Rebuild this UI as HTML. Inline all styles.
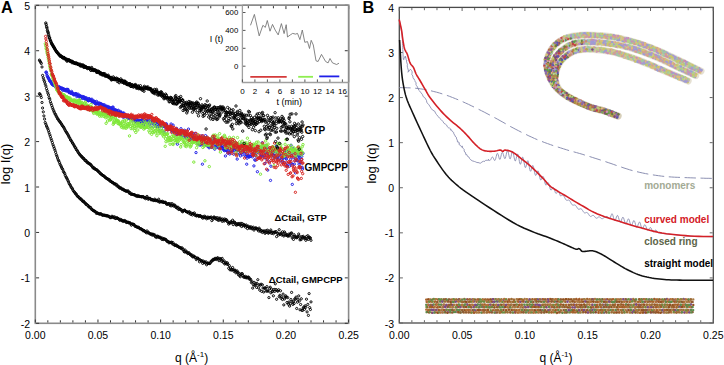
<!DOCTYPE html><html><head><meta charset="utf-8"><style>html,body{margin:0;padding:0;background:#fff;overflow:hidden}svg{display:block}text{font-family:"Liberation Sans",sans-serif}</style></head><body>
<svg width="724" height="365" viewBox="0 0 724 365">
<defs><pattern id="pc" width="8" height="8" patternUnits="userSpaceOnUse"><rect width="8" height="8" fill="#bdb596"/><circle cx="1.03" cy="3.99" r="0.9" fill="#c8cf6e"/><circle cx="4.81" cy="0.23" r="0.9" fill="#d7918f"/><circle cx="1.18" cy="7.43" r="0.9" fill="#9c8fd0"/><circle cx="0.56" cy="1.04" r="0.9" fill="#b9c98a"/><circle cx="7.59" cy="4.98" r="0.9" fill="#e0b070"/><circle cx="2.95" cy="4.09" r="0.9" fill="#a6d08a"/><circle cx="5.3" cy="2.2" r="0.9" fill="#c07aa8"/><circle cx="1.1" cy="6.3" r="0.9" fill="#8f9fd8"/><circle cx="5.36" cy="4.1" r="0.9" fill="#c8cf6e"/><circle cx="6.53" cy="4.39" r="0.9" fill="#d7918f"/><circle cx="7.85" cy="1.64" r="0.9" fill="#9c8fd0"/><circle cx="4.43" cy="3.87" r="0.9" fill="#b9c98a"/><circle cx="2.83" cy="4.73" r="0.9" fill="#e0b070"/><circle cx="1.88" cy="6.42" r="0.9" fill="#a6d08a"/><circle cx="6.94" cy="1.03" r="0.9" fill="#c07aa8"/><circle cx="3.74" cy="2.22" r="0.9" fill="#8f9fd8"/><circle cx="0.66" cy="7.17" r="0.9" fill="#c8cf6e"/><circle cx="3.44" cy="1.18" r="0.9" fill="#d7918f"/><circle cx="5.39" cy="1.62" r="0.9" fill="#9c8fd0"/><circle cx="7.21" cy="1.74" r="0.9" fill="#b9c98a"/><circle cx="0.26" cy="1.61" r="0.9" fill="#e0b070"/><circle cx="2.77" cy="3.75" r="0.9" fill="#a6d08a"/><circle cx="7.25" cy="5.58" r="0.9" fill="#c07aa8"/><circle cx="2.71" cy="0.14" r="0.9" fill="#8f9fd8"/><circle cx="1.28" cy="7.97" r="0.9" fill="#c8cf6e"/><circle cx="3.68" cy="5.53" r="0.9" fill="#d7918f"/><circle cx="0.44" cy="0.27" r="0.9" fill="#9c8fd0"/><circle cx="6.77" cy="4.7" r="0.9" fill="#b9c98a"/><circle cx="2.47" cy="2.54" r="0.9" fill="#e0b070"/><circle cx="0.71" cy="1.38" r="0.9" fill="#a6d08a"/><circle cx="0.2" cy="6.71" r="0.9" fill="#c07aa8"/><circle cx="3.73" cy="1.02" r="0.9" fill="#8f9fd8"/><circle cx="5.91" cy="1.57" r="0.9" fill="#c8cf6e"/><circle cx="0.5" cy="4.79" r="0.9" fill="#d7918f"/><circle cx="7.17" cy="0.22" r="0.9" fill="#9c8fd0"/><circle cx="6.44" cy="1.52" r="0.9" fill="#b9c98a"/><circle cx="0.74" cy="0.14" r="0.9" fill="#e0b070"/><circle cx="2.34" cy="5.82" r="0.9" fill="#a6d08a"/><circle cx="3.95" cy="6.82" r="0.9" fill="#c07aa8"/><circle cx="1.74" cy="2.52" r="0.9" fill="#8f9fd8"/></pattern><pattern id="ps" width="8" height="8" patternUnits="userSpaceOnUse"><rect width="8" height="8" fill="#b8804e"/><circle cx="2.07" cy="7.83" r="0.9" fill="#c0701e"/><circle cx="7.53" cy="2.73" r="0.9" fill="#7a3c9a"/><circle cx="3.49" cy="2.51" r="0.9" fill="#6aa050"/><circle cx="5.97" cy="0.32" r="0.9" fill="#b4682c"/><circle cx="0.54" cy="3.23" r="0.9" fill="#d08a40"/><circle cx="1.96" cy="6.76" r="0.9" fill="#8d5aa0"/><circle cx="5.93" cy="4.37" r="0.9" fill="#c27a2a"/><circle cx="5.29" cy="5.54" r="0.9" fill="#5e9a60"/><circle cx="6.25" cy="7.42" r="0.9" fill="#c0701e"/><circle cx="1.2" cy="5.01" r="0.9" fill="#7a3c9a"/><circle cx="1.15" cy="3.55" r="0.9" fill="#6aa050"/><circle cx="6.29" cy="7.16" r="0.9" fill="#b4682c"/><circle cx="6.07" cy="0.28" r="0.9" fill="#d08a40"/><circle cx="2.88" cy="1.3" r="0.9" fill="#8d5aa0"/><circle cx="7.99" cy="1.15" r="0.9" fill="#c27a2a"/><circle cx="1.95" cy="2.86" r="0.9" fill="#5e9a60"/><circle cx="0.49" cy="6.96" r="0.9" fill="#c0701e"/><circle cx="5.09" cy="1.28" r="0.9" fill="#7a3c9a"/><circle cx="3.99" cy="0.63" r="0.9" fill="#6aa050"/><circle cx="4.89" cy="1.85" r="0.9" fill="#b4682c"/><circle cx="0.31" cy="0.92" r="0.9" fill="#d08a40"/><circle cx="4.44" cy="5.1" r="0.9" fill="#8d5aa0"/><circle cx="2.6" cy="5.15" r="0.9" fill="#c27a2a"/><circle cx="2.82" cy="1.05" r="0.9" fill="#5e9a60"/><circle cx="2.52" cy="3.16" r="0.9" fill="#c0701e"/><circle cx="7.3" cy="0.93" r="0.9" fill="#7a3c9a"/><circle cx="0.69" cy="4.49" r="0.9" fill="#6aa050"/><circle cx="7.71" cy="7.26" r="0.9" fill="#b4682c"/><circle cx="5.6" cy="0.53" r="0.9" fill="#d08a40"/><circle cx="6.45" cy="5.47" r="0.9" fill="#8d5aa0"/><circle cx="1.15" cy="3.72" r="0.9" fill="#c27a2a"/><circle cx="0.39" cy="6.42" r="0.9" fill="#5e9a60"/><circle cx="5.75" cy="6.44" r="0.9" fill="#c0701e"/><circle cx="6.08" cy="2.14" r="0.9" fill="#7a3c9a"/><circle cx="6.32" cy="1.99" r="0.9" fill="#6aa050"/><circle cx="1.1" cy="3.12" r="0.9" fill="#b4682c"/><circle cx="3.98" cy="2.29" r="0.9" fill="#d08a40"/><circle cx="4.85" cy="4.82" r="0.9" fill="#8d5aa0"/><circle cx="1.92" cy="4.98" r="0.9" fill="#c27a2a"/><circle cx="2.86" cy="5.88" r="0.9" fill="#5e9a60"/><circle cx="2.32" cy="6.39" r="0.9" fill="#c0701e"/><circle cx="3.32" cy="4.43" r="0.9" fill="#7a3c9a"/><circle cx="5.39" cy="4.15" r="0.9" fill="#6aa050"/><circle cx="2.06" cy="7.84" r="0.9" fill="#b4682c"/><circle cx="0.77" cy="2.6" r="0.9" fill="#d08a40"/><circle cx="4.39" cy="0.23" r="0.9" fill="#8d5aa0"/><circle cx="1.24" cy="6.39" r="0.9" fill="#c27a2a"/><circle cx="6.27" cy="5.1" r="0.9" fill="#5e9a60"/><circle cx="7.21" cy="6.04" r="0.9" fill="#c0701e"/><circle cx="2.39" cy="5.16" r="0.9" fill="#7a3c9a"/></pattern></defs>
<rect x="35.3" y="5.3" width="313.3" height="318" fill="none" stroke="#8a8a8a" stroke-width="1.6"/>
<path d="M35.3 322.5 v-3 M35.3 6.1 v3 M47.83 322.5 v-2.2 M47.83 6.1 v2.2 M60.36 322.5 v-2.2 M60.36 6.1 v2.2 M72.9 322.5 v-2.2 M72.9 6.1 v2.2 M85.43 322.5 v-2.2 M85.43 6.1 v2.2 M97.96 322.5 v-3 M97.96 6.1 v3 M110.49 322.5 v-2.2 M110.49 6.1 v2.2 M123.02 322.5 v-2.2 M123.02 6.1 v2.2 M135.56 322.5 v-2.2 M135.56 6.1 v2.2 M148.09 322.5 v-2.2 M148.09 6.1 v2.2 M160.62 322.5 v-3 M160.62 6.1 v3 M173.15 322.5 v-2.2 M173.15 6.1 v2.2 M185.68 322.5 v-2.2 M185.68 6.1 v2.2 M198.22 322.5 v-2.2 M198.22 6.1 v2.2 M210.75 322.5 v-2.2 M210.75 6.1 v2.2 M223.28 322.5 v-3 M223.28 6.1 v3 M235.81 322.5 v-2.2 M235.81 6.1 v2.2 M248.34 322.5 v-2.2 M248.34 6.1 v2.2 M260.88 322.5 v-2.2 M260.88 6.1 v2.2 M273.41 322.5 v-2.2 M273.41 6.1 v2.2 M285.94 322.5 v-3 M285.94 6.1 v3 M298.47 322.5 v-2.2 M298.47 6.1 v2.2 M311 322.5 v-2.2 M311 6.1 v2.2 M323.54 322.5 v-2.2 M323.54 6.1 v2.2 M336.07 322.5 v-2.2 M336.07 6.1 v2.2 M348.6 322.5 v-3 M348.6 6.1 v3 M36.1 323.3 h3 M347.8 323.3 h-3 M36.1 277.87 h3 M347.8 277.87 h-3 M36.1 232.44 h3 M347.8 232.44 h-3 M36.1 187.01 h3 M347.8 187.01 h-3 M36.1 141.59 h3 M347.8 141.59 h-3 M36.1 96.16 h3 M347.8 96.16 h-3 M36.1 50.73 h3 M347.8 50.73 h-3 M36.1 5.3 h3 M347.8 5.3 h-3" stroke="#333" stroke-width="1" fill="none"/>
<path fill="none" stroke="none" marker-start="url(#m0)" marker-mid="url(#m0)" marker-end="url(#m0)" d="M39.4 93.7 40.0 94.1 40.7 95.6 41.3 97.5 42.0 102.5 42.6 108.0 43.3 111.9 43.9 115.9 44.6 119.1 45.2 122.5 45.9 124.2 46.5 126.0 47.2 127.3 47.8 128.9 48.5 130.7 49.1 132.7 49.8 134.8 50.4 136.6 51.1 138.8 51.7 140.6 52.4 142.6 53.0 144.8 53.7 146.6 54.3 148.3 55.0 150.2 55.6 152.3 56.3 154.6 56.9 156.1 57.5 157.9 58.2 159.8 58.8 161.0 59.5 162.6 60.1 164.3 60.8 165.7 61.4 167.0 62.1 168.5 62.7 169.3 63.4 171.4 64.0 172.4 64.7 173.6 65.3 175.4 66.0 176.9 66.6 177.9 67.3 179.1 67.9 180.6 68.6 181.9 69.2 183.6 69.9 184.6 70.5 185.7 71.2 187.2 71.8 187.9 72.5 188.9 73.1 190.4 73.8 191.4 74.4 192.1 75.1 192.9 75.7 194.0 76.3 194.1 77.0 195.7 77.6 196.4 78.3 196.5 78.9 197.6 79.6 197.9 80.2 199.0 80.9 198.8 81.5 199.7 82.2 200.7 82.8 201.4 83.5 201.1 84.1 202.1 84.8 202.9 85.4 203.2 86.1 204.5 86.7 204.3 87.4 205.3 88.0 205.4 88.7 206.8 89.3 206.9 90.0 207.3 90.6 207.5 91.3 209.1 91.9 209.3 92.6 209.9 93.2 210.6 93.8 210.8 94.5 211.0 95.1 211.5 95.8 212.0 96.4 213.4 97.1 212.8 97.7 213.2 98.4 213.5 99.0 213.9 99.7 214.2 100.3 213.7 101.0 213.8 101.6 214.5 102.3 215.2 102.9 215.2 103.6 215.1 104.2 215.1 104.9 215.5 105.5 215.4 106.2 216.0 106.8 215.5 107.5 216.0 108.1 216.0 108.8 216.5 109.4 216.5 110.1 217.7 110.7 217.4 111.4 217.5 112.0 216.2 112.6 217.0 113.3 217.1 113.9 217.7 114.6 216.8 115.2 218.4 115.9 218.5 116.5 217.7 117.2 218.0 117.8 218.3 118.5 218.8 119.1 219.3 119.8 220.3 120.4 219.4 121.1 220.1 121.7 220.0 122.4 221.1 123.0 220.8 123.7 221.4 124.3 220.5 125.0 221.1 125.6 221.1 126.3 222.5 126.9 222.3 127.6 222.1 128.2 222.3 128.9 223.0 129.5 222.7 130.1 222.9 130.8 223.8 131.4 225.2 132.1 224.0 132.7 224.2 133.4 224.3 134.0 224.5 134.7 225.8 135.3 226.4 136.0 226.3 136.6 226.9 137.3 227.1 137.9 227.5 138.6 227.2 139.2 228.0 139.9 228.7 140.5 228.6 141.2 229.1 141.8 229.3 142.5 229.8 143.1 230.8 143.8 230.4 144.4 230.8 145.1 231.7 145.7 231.8 146.4 232.8 147.0 230.9 147.7 232.8 148.3 232.3 148.9 232.9 149.6 233.6 150.2 234.0 150.9 234.2 151.5 233.9 152.2 235.2 152.8 234.2 153.5 234.5 154.1 235.4 154.8 234.9 155.4 236.9 156.1 236.4 156.7 237.5 157.4 236.2 158.0 236.3 158.7 236.9 159.3 237.6 160.0 237.1 160.6 238.0 161.3 238.0 161.9 239.4 162.6 238.2 163.2 239.6 163.9 238.8 164.5 239.0 165.2 239.4 165.8 239.4 166.4 240.5 167.1 241.5 167.7 241.2 168.4 241.8 169.0 242.9 169.7 242.2 170.3 242.5 171.0 242.5 171.6 242.1 172.3 243.9 172.9 242.6 173.6 244.5 174.2 244.4 174.9 245.6 175.5 245.1 176.2 245.0 176.8 246.1 177.5 245.9 178.1 246.5 178.8 247.1 179.4 247.4 180.1 247.8 180.7 247.8 181.4 248.6 182.0 247.8 182.7 249.5 183.3 249.3 184.0 251.4 184.6 252.0 185.2 250.1 185.9 251.9 186.5 252.2 187.2 252.0 187.8 253.6 188.5 253.3 189.1 252.8 189.8 254.2 190.4 254.7 191.1 255.3 191.7 254.8 192.4 256.5 193.0 257.0 193.7 255.9 194.3 256.6 195.0 257.4 195.6 257.4 196.3 259.6 196.9 258.6 197.6 258.0 198.2 258.5 198.9 259.3 199.5 261.8 200.2 259.9 200.8 260.4 201.5 261.1 202.1 260.9 202.7 263.4 203.4 261.1 204.0 262.5 204.7 262.2 205.3 263.0 206.0 261.8 206.6 264.8 207.3 263.2 207.9 263.6 208.6 263.1 209.2 263.6 209.9 263.5 210.5 262.5 211.2 261.1 211.8 261.3 212.5 260.4 213.1 259.3 213.8 259.8 214.4 259.3 215.1 258.3 215.7 259.0 216.4 259.5 217.0 258.3 217.7 257.7 218.3 259.1 219.0 260.7 219.6 258.5 220.3 258.9 220.9 259.2 221.5 261.3 222.2 258.4 222.8 261.1 223.5 262.6 224.1 260.8 224.8 264.0 225.4 263.3 226.1 262.6 226.7 264.0 227.4 262.8 228.0 264.5 228.7 268.3 229.3 265.6 230.0 269.8 230.6 267.9 231.3 270.1 231.9 269.4 232.6 267.5 233.2 269.8 233.9 271.3 234.5 270.1 235.2 270.3 235.8 272.8 236.5 271.8 237.1 270.9 237.8 272.4 238.4 274.8 239.0 273.2 239.7 275.5 240.3 276.7 241.0 274.7 241.6 273.6 242.3 273.7 242.9 275.5 243.6 277.2 244.2 276.6 244.9 277.4 245.5 276.4 246.2 277.9 246.8 277.2 247.5 277.8 248.1 277.1 248.8 277.3 249.4 279.2 250.1 278.9 250.7 279.6 251.4 282.6 252.0 281.7 252.7 288.1 253.3 284.7 254.0 282.3 254.6 285.4 255.3 284.9 255.9 283.3 256.6 287.4 257.2 283.7 257.8 279.7 258.5 287.8 259.1 284.8 259.8 290.2 260.4 285.2 261.1 284.2 261.7 291.4 262.4 284.8 263.0 288.0 263.7 292.0 264.3 288.2 265.0 287.9 265.6 288.6 266.3 291.2 266.9 286.6 267.6 291.0 268.2 291.1 268.9 297.6 269.5 288.6 270.2 287.2 270.8 292.8 271.5 289.1 272.1 291.7 272.8 291.3 273.4 295.8 274.1 289.4 274.7 291.4 275.3 283.8 276.0 289.5 276.6 299.3 277.3 290.8 277.9 291.1 278.6 289.7 279.2 296.7 279.9 295.3 280.5 290.8 281.2 298.3 281.8 296.8 282.5 299.5 283.1 294.1 283.8 304.9 284.4 299.0 285.1 297.0 285.7 295.8 286.4 297.1 287.0 302.5 287.7 297.6 288.3 304.2 289.0 302.0 289.6 306.1 290.3 303.7 290.9 299.5 291.6 292.4 292.2 301.7 292.9 304.4 293.5 301.3 294.1 303.5 294.8 298.8 295.4 299.3 296.1 297.1 296.7 308.5 297.4 302.2 298.0 299.3 298.7 295.9 299.3 301.0 300.0 309.8 300.6 304.5 301.3 298.8 301.9 310.3 302.6 310.4 303.2 308.0 303.9 307.0 304.5 309.3 305.2 305.8 305.8 307.3 306.5 299.2 307.1 311.9 307.8 304.4 308.4 315.4 309.1 293.6 309.7 307.6 310.4 309.5 311.0 301.9"/>
<path fill="none" stroke="none" marker-start="url(#m1)" marker-mid="url(#m1)" marker-end="url(#m1)" d="M39.4 60.1 40.0 61.1 40.7 62.3 41.3 63.5 42.0 67.0 42.6 75.4 43.3 77.9 43.9 80.1 44.6 81.8 45.2 84.0 45.9 86.1 46.5 88.6 47.2 90.7 47.8 93.0 48.5 94.9 49.1 97.6 49.8 99.1 50.4 101.7 51.1 103.6 51.7 105.5 52.4 107.4 53.0 109.1 53.7 110.8 54.3 112.2 55.0 113.9 55.6 114.6 56.3 116.2 56.9 117.2 57.5 118.7 58.2 119.2 58.8 120.5 59.5 121.4 60.1 121.9 60.8 123.2 61.4 123.9 62.1 125.1 62.7 126.1 63.4 126.8 64.0 127.9 64.7 129.2 65.3 130.5 66.0 131.7 66.6 132.5 67.3 133.6 67.9 134.7 68.6 135.9 69.2 137.2 69.9 138.3 70.5 139.9 71.2 140.5 71.8 141.7 72.5 143.0 73.1 143.7 73.8 145.0 74.4 146.1 75.1 147.4 75.7 147.9 76.3 149.6 77.0 150.2 77.6 151.3 78.3 152.5 78.9 153.4 79.6 154.4 80.2 155.0 80.9 155.8 81.5 156.6 82.2 156.9 82.8 158.2 83.5 158.3 84.1 158.8 84.8 160.4 85.4 160.4 86.1 160.6 86.7 162.1 87.4 162.1 88.0 163.1 88.7 163.1 89.3 163.9 90.0 164.0 90.6 164.5 91.3 165.4 91.9 166.2 92.6 167.0 93.2 168.1 93.8 167.6 94.5 168.8 95.1 168.8 95.8 169.5 96.4 169.6 97.1 170.1 97.7 170.9 98.4 171.3 99.0 172.2 99.7 172.5 100.3 173.7 101.0 173.8 101.6 174.4 102.3 175.2 102.9 175.5 103.6 175.8 104.2 176.3 104.9 176.8 105.5 177.7 106.2 178.1 106.8 178.4 107.5 179.1 108.1 179.1 108.8 179.9 109.4 179.7 110.1 181.2 110.7 181.2 111.4 181.7 112.0 182.3 112.6 182.5 113.3 182.8 113.9 183.8 114.6 183.8 115.2 183.9 115.9 184.9 116.5 184.4 117.2 186.2 117.8 185.9 118.5 186.4 119.1 187.7 119.8 188.1 120.4 187.6 121.1 188.2 121.7 188.8 122.4 189.5 123.0 189.1 123.7 189.6 124.3 190.5 125.0 190.4 125.6 191.0 126.3 191.3 126.9 190.9 127.6 191.4 128.2 190.9 128.9 192.4 129.5 193.4 130.1 192.6 130.8 194.1 131.4 194.3 132.1 194.1 132.7 194.4 133.4 194.7 134.0 194.5 134.7 195.0 135.3 195.3 136.0 195.9 136.6 196.2 137.3 195.5 137.9 196.5 138.6 195.8 139.2 196.3 139.9 196.6 140.5 196.6 141.2 196.6 141.8 197.0 142.5 196.6 143.1 196.7 143.8 197.1 144.4 197.9 145.1 197.5 145.7 198.7 146.4 198.0 147.0 196.4 147.7 197.9 148.3 199.3 148.9 198.5 149.6 198.4 150.2 198.4 150.9 199.7 151.5 199.7 152.2 199.7 152.8 199.7 153.5 200.5 154.1 200.3 154.8 199.2 155.4 200.6 156.1 200.4 156.7 200.4 157.4 201.1 158.0 200.8 158.7 199.2 159.3 202.1 160.0 202.0 160.6 201.5 161.3 201.5 161.9 202.0 162.6 201.3 163.2 202.5 163.9 202.3 164.5 202.4 165.2 202.2 165.8 202.6 166.4 204.0 167.1 204.3 167.7 204.0 168.4 203.8 169.0 203.5 169.7 204.8 170.3 205.7 171.0 203.7 171.6 205.8 172.3 203.7 172.9 205.3 173.6 206.1 174.2 205.1 174.9 205.2 175.5 206.8 176.2 207.6 176.8 206.9 177.5 208.5 178.1 207.3 178.8 209.5 179.4 208.6 180.1 209.0 180.7 209.6 181.4 209.7 182.0 211.2 182.7 211.8 183.3 210.8 184.0 210.5 184.6 210.0 185.2 210.6 185.9 211.5 186.5 211.7 187.2 212.0 187.8 212.3 188.5 213.0 189.1 211.7 189.8 212.2 190.4 214.2 191.1 214.2 191.7 213.2 192.4 215.0 193.0 213.5 193.7 214.0 194.3 212.9 195.0 215.3 195.6 214.8 196.3 215.9 196.9 215.7 197.6 215.3 198.2 215.6 198.9 216.6 199.5 215.6 200.2 215.7 200.8 216.1 201.5 216.9 202.1 217.1 202.7 218.2 203.4 216.5 204.0 217.8 204.7 216.2 205.3 217.5 206.0 217.2 206.6 218.8 207.3 217.9 207.9 217.0 208.6 218.1 209.2 217.9 209.9 217.4 210.5 217.5 211.2 217.0 211.8 220.6 212.5 218.2 213.1 219.1 213.8 217.1 214.4 217.2 215.1 218.2 215.7 218.3 216.4 219.3 217.0 217.6 217.7 219.3 218.3 220.4 219.0 218.0 219.6 220.0 220.3 218.2 220.9 219.6 221.5 219.8 222.2 221.3 222.8 219.0 223.5 220.0 224.1 221.1 224.8 219.0 225.4 220.4 226.1 219.7 226.7 220.0 227.4 221.7 228.0 221.9 228.7 224.1 229.3 223.0 230.0 223.1 230.6 221.8 231.3 221.9 231.9 222.6 232.6 220.2 233.2 224.6 233.9 222.3 234.5 222.1 235.2 222.9 235.8 224.6 236.5 225.2 237.1 223.6 237.8 224.6 238.4 224.3 239.0 223.4 239.7 224.9 240.3 224.9 241.0 223.3 241.6 226.5 242.3 223.6 242.9 225.8 243.6 224.6 244.2 225.0 244.9 225.3 245.5 227.1 246.2 225.0 246.8 226.4 247.5 228.6 248.1 226.1 248.8 227.1 249.4 228.1 250.1 226.8 250.7 228.2 251.4 227.0 252.0 228.8 252.7 228.2 253.3 227.2 254.0 230.1 254.6 228.5 255.3 228.4 255.9 227.8 256.6 228.5 257.2 229.1 257.8 229.6 258.5 230.9 259.1 228.1 259.8 229.5 260.4 231.5 261.1 230.4 261.7 230.9 262.4 232.5 263.0 231.1 263.7 231.4 264.3 230.9 265.0 233.3 265.6 232.6 266.3 230.5 266.9 232.2 267.6 230.2 268.2 233.2 268.9 232.8 269.5 231.9 270.2 231.7 270.8 230.0 271.5 233.4 272.1 232.4 272.8 232.3 273.4 233.7 274.1 232.1 274.7 232.3 275.3 232.3 276.0 231.5 276.6 236.6 277.3 233.3 277.9 233.2 278.6 235.0 279.2 229.7 279.9 234.0 280.5 234.2 281.2 233.0 281.8 235.0 282.5 231.8 283.1 234.7 283.8 236.0 284.4 231.9 285.1 233.1 285.7 235.0 286.4 235.3 287.0 234.6 287.7 236.1 288.3 236.0 289.0 234.0 289.6 235.8 290.3 234.3 290.9 233.3 291.6 232.9 292.2 237.9 292.9 236.3 293.5 239.4 294.1 234.7 294.8 236.3 295.4 237.4 296.1 236.8 296.7 237.8 297.4 237.4 298.0 236.4 298.7 234.0 299.3 236.0 300.0 239.9 300.6 238.6 301.3 239.5 301.9 236.7 302.6 237.3 303.2 236.3 303.9 238.2 304.5 237.7 305.2 238.3 305.8 240.3 306.5 236.5 307.1 238.8 307.8 235.7 308.4 239.4 309.1 237.1 309.7 237.7 310.4 238.0 311.0 240.3"/>
<path fill="none" stroke="none" marker-start="url(#m2)" marker-mid="url(#m2)" marker-end="url(#m2)" d="M45.9 72.3 46.3 72.1 46.7 73.6 47.1 75.5 47.5 76.4 47.9 77.2 48.3 78.1 48.7 78.5 49.1 79.4 49.5 80.8 49.9 80.9 50.3 81.1 50.7 82.0 51.0 81.8 51.4 83.1 51.8 84.0 52.2 83.9 52.6 84.6 53.0 85.0 53.4 84.7 53.8 85.4 54.2 84.9 54.6 85.4 55.0 86.1 55.4 86.0 55.8 86.4 56.2 87.1 56.6 86.7 57.0 86.1 57.4 86.9 57.8 87.1 58.2 88.2 58.6 88.1 59.0 87.1 59.4 86.8 59.8 88.4 60.2 87.7 60.6 88.3 61.0 88.1 61.3 88.2 61.7 88.8 62.1 88.1 62.5 90.2 62.9 88.6 63.3 89.4 63.7 89.1 64.1 90.4 64.5 89.3 64.9 89.6 65.3 89.7 65.7 90.3 66.1 91.0 66.5 90.6 66.9 89.3 67.3 89.5 67.7 90.9 68.1 89.5 68.5 91.0 68.9 92.3 69.3 92.7 69.7 92.1 70.1 92.3 70.5 92.6 70.9 93.2 71.3 93.5 71.6 91.4 72.0 92.5 72.4 93.3 72.8 93.9 73.2 93.7 73.6 94.8 74.0 94.5 74.4 94.8 74.8 94.2 75.2 93.6 75.6 94.2 76.0 93.8 76.4 93.9 76.8 96.7 77.2 95.6 77.6 95.0 78.0 94.1 78.4 95.8 78.8 95.7 79.2 96.5 79.6 95.3 80.0 96.1 80.4 98.6 80.8 96.5 81.2 96.6 81.6 97.1 81.9 96.3 82.3 97.8 82.7 98.5 83.1 97.3 83.5 96.7 83.9 97.0 84.3 97.7 84.7 98.8 85.1 98.6 85.5 99.2 85.9 97.6 86.3 98.8 86.7 99.2 87.1 99.7 87.5 98.5 87.9 100.4 88.3 100.8 88.7 100.5 89.1 98.6 89.5 99.7 89.9 99.3 90.3 100.5 90.7 99.7 91.1 100.7 91.5 100.6 91.9 99.2 92.2 101.6 92.6 101.6 93.0 101.0 93.4 102.2 93.8 101.0 94.2 102.0 94.6 101.5 95.0 103.6 95.4 102.1 95.8 104.0 96.2 103.8 96.6 101.4 97.0 103.6 97.4 103.5 97.8 102.9 98.2 103.3 98.6 104.0 99.0 104.9 99.4 103.0 99.8 103.7 100.2 103.5 100.6 105.2 101.0 103.9 101.4 104.0 101.8 105.9 102.2 104.5 102.5 104.9 102.9 105.4 103.3 104.8 103.7 106.0 104.1 106.1 104.5 104.8 104.9 106.7 105.3 106.8 105.7 106.9 106.1 107.0 106.5 106.4 106.9 106.2 107.3 108.7 107.7 107.7 108.1 108.3 108.5 106.6 108.9 107.5 109.3 108.2 109.7 107.6 110.1 110.5 110.5 107.9 110.9 109.2 111.3 108.9 111.7 108.0 112.1 110.0 112.5 107.2 112.8 110.5 113.2 107.2 113.6 110.5 114.0 109.8 114.4 109.7 114.8 110.8 115.2 110.2 115.6 109.7 116.0 110.7 116.4 110.6 116.8 111.4 117.2 111.3 117.6 110.6 118.0 112.8 118.4 110.3 118.8 112.8 119.2 112.6 119.6 112.6 120.0 113.5 120.4 111.5 120.8 112.8 121.2 112.3 121.6 113.5 122.0 114.1 122.4 113.6 122.8 114.0 123.1 113.1 123.5 117.5 123.9 113.1 124.3 116.1 124.7 114.7 125.1 114.4 125.5 116.6 125.9 115.6 126.3 115.2 126.7 117.0 127.1 116.7 127.5 115.3 127.9 118.5 128.3 117.8 128.7 116.1 129.1 116.3 129.5 116.9 129.9 118.7 130.3 118.2 130.7 118.3 131.1 118.4 131.5 118.2 131.9 118.1 132.3 118.7 132.7 119.5 133.1 120.0 133.4 120.2 133.8 118.4 134.2 119.6 134.6 118.7 135.0 119.0 135.4 121.0 135.8 121.3 136.2 119.2 136.6 122.4 137.0 119.6 137.4 123.2 137.8 120.3 138.2 121.6 138.6 122.7 139.0 121.7 139.4 120.6 139.8 121.6 140.2 120.6 140.6 120.7 141.0 121.6 141.4 123.2 141.8 120.2 142.2 119.3 142.6 121.2 143.0 121.0 143.4 124.7 143.7 125.0 144.1 121.4 144.5 119.4 144.9 122.5 145.3 122.2 145.7 120.9 146.1 120.4 146.5 122.3 146.9 120.5 147.3 121.6 147.7 123.7 148.1 121.4 148.5 121.1 148.9 121.6 149.3 121.5 149.7 120.6 150.1 126.3 150.5 123.6 150.9 122.4 151.3 122.2 151.7 120.8 152.1 121.2 152.5 121.5 152.9 123.3 153.3 126.8 153.7 120.8 154.0 123.9 154.4 123.8 154.8 123.6 155.2 123.9 155.6 123.3 156.0 123.3 156.4 126.5 156.8 125.9 157.2 124.4 157.6 124.4 158.0 126.6 158.4 123.0 158.8 121.7 159.2 130.8 159.6 125.5 160.0 126.8 160.4 125.2 160.8 122.9 161.2 126.4 161.6 123.8 162.0 130.4 162.4 126.8 162.8 126.5 163.2 123.5 163.6 125.2 164.0 132.2 164.3 125.0 164.7 125.7 165.1 125.9 165.5 127.6 165.9 125.0 166.3 123.7 166.7 124.9 167.1 126.7 167.5 129.8 167.9 127.9 168.3 129.1 168.7 128.8 169.1 127.5 169.5 128.1 169.9 129.2 170.3 126.5 170.7 129.1 171.1 124.0 171.5 130.1 171.9 129.9 172.3 129.9 172.7 132.0 173.1 125.1 173.5 130.6 173.9 131.1 174.3 129.6 174.6 131.5 175.0 130.6 175.4 129.3 175.8 130.6 176.2 134.8 176.6 128.4 177.0 131.3 177.4 144.2 177.8 134.1 178.2 130.6 178.6 133.0 179.0 133.3 179.4 133.9 179.8 131.9 180.2 135.2 180.6 133.6 181.0 128.7 181.4 135.0 181.8 135.9 182.2 134.5 182.6 133.4 183.0 134.1 183.4 133.7 183.8 137.2 184.2 131.9 184.6 130.3 184.9 132.6 185.3 136.7 185.7 133.4 186.1 134.5 186.5 138.3 186.9 136.9 187.3 137.2 187.7 136.9 188.1 137.2 188.5 129.1 188.9 135.1 189.3 137.2 189.7 135.1 190.1 137.6 190.5 139.9 190.9 138.2 191.3 138.4 191.7 139.5 192.1 135.8 192.5 138.2 192.9 133.8 193.3 137.7 193.7 136.9 194.1 141.4 194.5 141.3 194.9 138.6 195.2 133.3 195.6 139.1 196.0 152.6 196.4 141.3 196.8 138.4 197.2 137.9 197.6 142.7 198.0 142.7 198.4 140.5 198.8 144.2 199.2 145.0 199.6 144.3 200.0 143.0 200.4 143.5 200.8 145.1 201.2 141.3 201.6 141.8 202.0 135.8 202.4 164.2 202.8 140.0 203.2 144.3 203.6 138.1 204.0 142.3 204.4 137.7 204.8 144.7 205.2 138.0 205.5 135.6 205.9 144.6 206.3 143.5 206.7 137.2 207.1 145.9 207.5 144.0 207.9 139.4 208.3 146.5 208.7 143.4 209.1 147.8 209.5 142.6 209.9 139.6 210.3 141.2 210.7 147.3 211.1 139.7 211.5 140.3 211.9 147.5 212.3 144.3 212.7 136.8 213.1 140.1 213.5 136.4 213.9 138.1 214.3 139.2 214.7 149.2 215.1 145.2 215.5 146.6 215.8 139.7 216.2 145.3 216.6 147.3 217.0 145.3 217.4 140.8 217.8 143.5 218.2 147.7 218.6 143.6 219.0 146.9 219.4 144.2 219.8 147.9 220.2 147.0 220.6 147.3 221.0 138.7 221.4 146.3 221.8 148.7 222.2 145.7 222.6 145.5 223.0 148.5 223.4 148.6 223.8 150.2 224.2 149.2 224.6 150.7 225.0 144.8 225.4 156.0 225.8 149.9 226.1 150.5 226.5 144.8 226.9 150.6 227.3 146.1 227.7 153.1 228.1 150.6 228.5 145.3 228.9 152.7 229.3 152.4 229.7 154.0 230.1 150.6 230.5 142.5 230.9 147.4 231.3 150.7 231.7 149.5 232.1 150.9 232.5 148.9 232.9 150.0 233.3 148.2 233.7 154.2 234.1 150.7 234.5 146.9 234.9 143.1 235.3 147.8 235.7 143.0 236.1 149.3 236.4 150.1 236.8 150.1 237.2 159.1 237.6 154.1 238.0 150.4 238.4 147.2 238.8 149.7 239.2 150.5 239.6 145.8 240.0 153.4 240.4 155.9 240.8 147.2 241.2 144.0 241.6 153.1 242.0 146.3 242.4 149.2 242.8 154.8 243.2 151.4 243.6 147.4 244.0 150.8 244.4 145.8 244.8 152.8 245.2 151.5 245.6 156.5 246.0 156.1 246.4 154.5 246.7 164.2 247.1 158.2 247.5 149.6 247.9 155.1 248.3 156.0 248.7 156.2 249.1 157.1 249.5 145.6 249.9 156.5 250.3 156.4 250.7 149.1 251.1 154.3 251.5 147.9 251.9 145.9 252.3 156.9 252.7 148.3 253.1 149.7 253.5 153.2 253.9 165.9 254.3 153.2 254.7 159.8 255.1 152.7 255.5 160.3 255.9 156.1 256.3 153.5 256.7 151.4 257.0 151.9 257.4 171.7 257.8 148.9 258.2 147.1 258.6 158.3 259.0 147.7 259.4 150.0 259.8 150.8 260.2 152.7 260.6 156.9 261.0 155.9 261.4 147.2 261.8 156.2 262.2 142.8 262.6 148.0 263.0 150.6 263.4 153.5 263.8 155.2 264.2 157.8 264.6 155.2 265.0 163.4 265.4 151.8 265.8 145.4 266.2 152.5 266.6 148.6 267.0 159.8 267.3 147.5 267.7 170.1 268.1 152.1 268.5 153.6 268.9 155.0 269.3 161.8 269.7 155.0 270.1 149.8 270.5 180.4 270.9 166.2 271.3 153.9 271.7 154.7 272.1 153.1 272.5 153.6 272.9 155.8 273.3 151.3 273.7 155.2 274.1 158.1 274.5 151.0 274.9 153.5 275.3 156.5 275.7 149.3 276.1 158.0 276.5 145.8 276.9 157.9 277.3 157.1 277.6 152.7 278.0 151.2 278.4 148.7 278.8 155.5 279.2 159.0 279.6 154.7 280.0 151.6 280.4 160.4 280.8 150.1 281.2 153.7 281.6 159.6 282.0 157.7 282.4 162.4 282.8 158.0 283.2 158.2 283.6 153.6 284.0 162.4 284.4 152.4 284.8 150.7 285.2 154.6 285.6 155.7 286.0 158.3 286.4 159.2 286.8 166.0 287.2 163.7 287.6 166.0 287.9 151.6 288.3 155.5 288.7 150.0 289.1 152.5 289.5 166.1 289.9 154.9 290.3 163.2 290.7 159.3 291.1 145.3 291.5 163.5 291.9 153.9 292.3 184.4 292.7 164.6 293.1 148.8 293.5 157.5 293.9 152.7 294.3 164.1 294.7 150.2 295.1 160.4 295.5 172.9 295.9 158.1 296.3 151.1 296.7 155.5 297.1 160.7 297.5 160.7 297.9 152.6 298.2 159.0 298.6 155.5 299.0 164.2 299.4 156.3 299.8 157.7 300.2 162.2 300.6 167.2 301.0 162.9 301.4 159.6 301.8 156.3 302.2 167.3 302.6 169.0 303.0 153.4"/>
<path fill="none" stroke="none" marker-start="url(#m3)" marker-mid="url(#m3)" marker-end="url(#m3)" d="M45.3 43.8 45.7 45.8 46.1 48.2 46.5 49.5 46.9 51.9 47.3 53.6 47.7 55.1 48.1 57.5 48.5 59.4 48.9 61.4 49.3 63.5 49.7 65.8 50.1 68.0 50.5 69.1 50.9 71.0 51.3 74.6 51.7 74.4 52.1 75.2 52.4 76.5 52.8 78.3 53.2 79.9 53.6 79.5 54.0 81.0 54.4 82.6 54.8 83.5 55.2 85.1 55.6 86.0 56.0 86.5 56.4 88.5 56.8 90.0 57.2 90.0 57.6 90.0 58.0 91.7 58.4 91.7 58.8 92.4 59.2 92.5 59.6 93.1 60.0 93.9 60.4 92.9 60.8 94.6 61.2 93.7 61.6 94.9 62.0 94.0 62.4 94.3 62.8 95.4 63.2 95.5 63.6 95.4 64.0 94.7 64.4 96.0 64.8 96.1 65.2 96.1 65.6 97.0 65.9 97.1 66.3 97.6 66.7 98.9 67.1 96.8 67.5 97.8 67.9 97.4 68.3 98.2 68.7 98.1 69.1 100.3 69.5 99.0 69.9 97.9 70.3 99.1 70.7 100.8 71.1 100.2 71.5 100.5 71.9 100.3 72.3 100.6 72.7 100.9 73.1 100.0 73.5 101.2 73.9 100.7 74.3 102.9 74.7 99.8 75.1 101.1 75.5 100.8 75.9 103.2 76.3 101.3 76.7 101.3 77.1 102.1 77.5 102.8 77.9 100.7 78.3 101.4 78.7 100.3 79.1 103.8 79.4 103.9 79.8 99.8 80.2 102.5 80.6 103.0 81.0 103.3 81.4 106.4 81.8 102.4 82.2 104.4 82.6 103.2 83.0 104.9 83.4 104.9 83.8 105.3 84.2 107.4 84.6 103.0 85.0 107.2 85.4 102.2 85.8 105.5 86.2 104.2 86.6 107.1 87.0 105.9 87.4 109.0 87.8 107.1 88.2 106.6 88.6 105.7 89.0 107.1 89.4 107.2 89.8 109.9 90.2 109.9 90.6 108.4 91.0 104.5 91.4 110.4 91.8 107.1 92.2 108.2 92.6 110.1 92.9 108.5 93.3 112.1 93.7 113.4 94.1 108.0 94.5 111.6 94.9 109.0 95.3 111.1 95.7 110.4 96.1 111.8 96.5 113.2 96.9 114.1 97.3 111.2 97.7 112.9 98.1 113.2 98.5 110.8 98.9 114.8 99.3 114.0 99.7 116.2 100.1 112.8 100.5 113.4 100.9 115.1 101.3 113.0 101.7 116.2 102.1 114.0 102.5 109.2 102.9 113.5 103.3 114.5 103.7 112.3 104.1 116.5 104.5 113.0 104.9 115.4 105.3 114.0 105.7 117.7 106.1 123.3 106.4 114.3 106.8 117.0 107.2 115.7 107.6 121.0 108.0 114.1 108.4 113.7 108.8 115.4 109.2 118.5 109.6 114.5 110.0 120.1 110.4 119.1 110.8 119.5 111.2 115.7 111.6 117.1 112.0 117.4 112.4 118.6 112.8 116.5 113.2 124.3 113.6 121.7 114.0 123.1 114.4 122.4 114.8 120.2 115.2 117.2 115.6 118.2 116.0 122.0 116.4 119.9 116.8 120.5 117.2 121.0 117.6 121.0 118.0 123.6 118.4 120.8 118.8 123.7 119.2 122.6 119.6 115.8 119.9 123.7 120.3 124.9 120.7 123.1 121.1 125.5 121.5 127.2 121.9 124.0 122.3 122.1 122.7 121.2 123.1 127.9 123.5 126.7 123.9 125.6 124.3 120.9 124.7 121.1 125.1 128.0 125.5 123.7 125.9 124.7 126.3 128.2 126.7 119.9 127.1 126.6 127.5 125.5 127.9 123.5 128.3 126.6 128.7 124.8 129.1 123.7 129.5 135.9 129.9 123.0 130.3 126.3 130.7 120.8 131.1 128.6 131.5 119.9 131.9 125.3 132.3 121.3 132.7 128.2 133.1 125.5 133.5 122.8 133.8 123.8 134.2 126.2 134.6 130.3 135.0 128.4 135.4 123.1 135.8 132.4 136.2 127.1 136.6 125.5 137.0 125.9 137.4 123.2 137.8 130.0 138.2 123.3 138.6 123.8 139.0 125.6 139.4 126.0 139.8 126.9 140.2 125.7 140.6 122.6 141.0 127.4 141.4 126.9 141.8 126.1 142.2 126.2 142.6 124.6 143.0 124.3 143.4 126.5 143.8 129.1 144.2 120.8 144.6 128.1 145.0 127.6 145.4 123.0 145.8 127.5 146.2 123.1 146.6 126.6 147.0 126.1 147.3 125.5 147.7 127.4 148.1 127.5 148.5 123.7 148.9 130.9 149.3 121.9 149.7 132.6 150.1 126.9 150.5 124.5 150.9 128.9 151.3 121.8 151.7 134.3 152.1 128.7 152.5 132.2 152.9 132.3 153.3 127.0 153.7 131.4 154.1 123.2 154.5 131.4 154.9 128.6 155.3 124.6 155.7 133.0 156.1 130.3 156.5 127.1 156.9 135.7 157.3 131.7 157.7 129.3 158.1 130.2 158.5 127.2 158.9 121.9 159.3 133.4 159.7 131.3 160.1 132.1 160.5 131.8 160.8 133.1 161.2 128.6 161.6 131.3 162.0 126.2 162.4 130.6 162.8 135.2 163.2 134.1 163.6 136.6 164.0 131.8 164.4 134.3 164.8 134.2 165.2 146.3 165.6 138.9 166.0 141.7 166.4 136.3 166.8 133.9 167.2 134.3 167.6 133.7 168.0 141.0 168.4 139.0 168.8 137.3 169.2 140.4 169.6 137.4 170.0 144.2 170.4 137.7 170.8 140.2 171.2 140.4 171.6 136.7 172.0 139.9 172.4 144.0 172.8 133.8 173.2 144.5 173.6 136.0 174.0 138.4 174.3 136.2 174.7 140.3 175.1 142.2 175.5 137.4 175.9 140.0 176.3 138.5 176.7 140.5 177.1 139.5 177.5 141.8 177.9 139.6 178.3 141.5 178.7 137.0 179.1 136.8 179.5 140.0 179.9 137.6 180.3 139.2 180.7 147.0 181.1 144.6 181.5 138.1 181.9 135.2 182.3 138.7 182.7 139.2 183.1 141.1 183.5 134.6 183.9 142.7 184.3 141.8 184.7 143.0 185.1 145.9 185.5 138.7 185.9 144.7 186.3 146.6 186.7 139.3 187.1 144.9 187.5 137.9 187.8 141.5 188.2 141.2 188.6 139.4 189.0 144.8 189.4 136.9 189.8 142.2 190.2 147.0 190.6 138.2 191.0 146.0 191.4 144.4 191.8 141.8 192.2 142.6 192.6 142.8 193.0 140.7 193.4 142.3 193.8 162.1 194.2 140.4 194.6 141.9 195.0 141.9 195.4 137.9 195.8 140.6 196.2 143.5 196.6 147.7 197.0 142.0 197.4 144.7 197.8 139.4 198.2 134.7 198.6 144.5 199.0 141.7 199.4 138.8 199.8 142.1 200.2 143.2 200.6 142.8 201.0 137.5 201.3 138.3 201.7 139.8 202.1 138.8 202.5 142.1 202.9 147.5 203.3 140.5 203.7 138.0 204.1 146.3 204.5 143.9 204.9 160.8 205.3 145.4 205.7 138.1 206.1 142.7 206.5 144.2 206.9 138.0 207.3 145.2 207.7 139.2 208.1 144.2 208.5 140.8 208.9 145.2 209.3 166.6 209.7 144.2 210.1 144.8 210.5 140.0 210.9 139.4 211.3 147.2 211.7 138.0 212.1 142.2 212.5 143.5 212.9 142.7 213.3 135.2 213.7 136.0 214.1 142.8 214.5 141.2 214.8 148.2 215.2 135.0 215.6 142.9 216.0 140.2 216.4 143.7 216.8 138.0 217.2 136.0 217.6 139.4 218.0 139.9 218.4 143.1 218.8 145.9 219.2 138.4 219.6 133.7 220.0 139.6 220.4 152.1 220.8 141.7 221.2 140.4 221.6 140.6 222.0 140.4 222.4 137.1 222.8 141.5 223.2 143.2 223.6 140.8 224.0 142.8 224.4 135.3 224.8 136.4 225.2 144.6 225.6 148.1 226.0 138.4 226.4 140.6 226.8 147.8 227.2 140.7 227.6 145.9 228.0 139.5 228.4 144.9 228.7 141.4 229.1 146.5 229.5 137.4 229.9 139.3 230.3 145.0 230.7 149.1 231.1 138.9 231.5 146.1 231.9 142.3 232.3 147.3 232.7 145.7 233.1 143.8 233.5 137.4 233.9 146.4 234.3 143.6 234.7 146.9 235.1 142.0 235.5 143.8 235.9 152.6 236.3 143.9 236.7 154.4 237.1 148.6 237.5 137.6 237.9 144.4 238.3 150.2 238.7 145.2 239.1 148.8 239.5 141.9 239.9 147.1 240.3 144.7 240.7 147.9 241.1 149.4 241.5 151.8 241.9 145.1 242.2 141.2 242.6 147.9 243.0 145.1 243.4 143.5 243.8 144.8 244.2 145.2 244.6 147.0 245.0 145.7 245.4 143.7 245.8 142.7 246.2 147.2 246.6 151.5 247.0 144.5 247.4 138.2 247.8 147.2 248.2 150.3 248.6 144.8 249.0 146.5 249.4 141.7 249.8 148.0 250.2 149.8 250.6 145.9 251.0 149.3 251.4 149.4 251.8 146.7 252.2 145.2 252.6 145.3 253.0 146.4 253.4 144.1 253.8 150.4 254.2 145.3 254.6 149.3 255.0 144.2 255.4 151.8 255.7 150.1 256.1 155.4 256.5 142.3 256.9 145.0 257.3 148.2 257.7 149.7 258.1 142.0 258.5 151.8 258.9 151.7 259.3 147.5 259.7 147.0 260.1 146.9 260.5 174.2 260.9 144.2 261.3 149.9 261.7 150.4 262.1 147.0 262.5 144.7 262.9 144.8 263.3 153.6 263.7 147.6 264.1 145.9 264.5 148.9 264.9 151.0 265.3 146.6 265.7 141.0 266.1 145.4 266.5 145.3 266.9 145.5 267.3 150.3 267.7 148.7 268.1 144.1 268.5 151.7 268.9 152.3 269.2 152.5 269.6 153.0 270.0 156.1 270.4 149.7 270.8 149.2 271.2 147.7 271.6 152.3 272.0 149.2 272.4 146.9 272.8 146.9 273.2 150.6 273.6 147.1 274.0 165.7 274.4 151.9 274.8 157.5 275.2 148.6 275.6 149.8 276.0 149.1 276.4 151.8 276.8 144.3 277.2 154.9 277.6 150.9 278.0 148.9 278.4 143.6 278.8 143.6 279.2 153.4 279.6 152.7 280.0 150.4 280.4 148.8 280.8 144.8 281.2 147.6 281.6 148.5 282.0 149.2 282.4 151.5 282.7 156.7 283.1 156.2 283.5 153.9 283.9 153.0 284.3 156.0 284.7 154.3 285.1 144.3 285.5 151.5 285.9 139.7 286.3 154.6 286.7 148.6 287.1 150.6 287.5 154.6 287.9 148.6 288.3 145.8 288.7 155.5 289.1 151.5 289.5 148.2 289.9 154.1 290.3 150.7 290.7 145.5 291.1 148.9 291.5 148.6 291.9 151.2 292.3 151.3 292.7 150.1 293.1 150.4 293.5 147.5 293.9 153.2 294.3 150.0 294.7 150.0 295.1 149.2 295.5 155.2 295.9 156.4 296.2 151.9 296.6 150.7 297.0 148.3 297.4 153.2 297.8 151.6 298.2 150.9 298.6 146.6 299.0 153.9 299.4 149.5 299.8 148.4 300.2 151.3 300.6 151.3 301.0 150.1 301.4 154.9 301.8 152.3 302.2 146.8 302.6 152.7 303.0 144.6"/>
<path fill="none" stroke="none" marker-start="url(#m4)" marker-mid="url(#m4)" marker-end="url(#m4)" d="M45.6 36.4 45.9 38.9 46.3 41.4 46.6 44.1 47.0 46.4 47.3 49.2 47.7 51.4 48.0 53.5 48.3 55.1 48.7 56.9 49.0 58.8 49.4 60.9 49.7 63.2 50.1 63.8 50.4 66.5 50.8 67.4 51.1 69.6 51.4 70.5 51.8 71.7 52.1 73.8 52.5 74.2 52.8 75.3 53.2 76.2 53.5 76.2 53.8 77.9 54.2 80.1 54.5 78.9 54.9 80.8 55.2 81.8 55.6 82.7 55.9 82.8 56.3 84.0 56.6 84.6 56.9 86.3 57.3 88.4 57.6 88.0 58.0 88.2 58.3 90.3 58.7 91.8 59.0 91.6 59.3 93.9 59.7 92.9 60.0 93.6 60.4 93.5 60.7 94.5 61.1 96.0 61.4 96.5 61.8 97.4 62.1 97.4 62.4 97.7 62.8 96.4 63.1 97.7 63.5 100.8 63.8 98.7 64.2 100.1 64.5 99.9 64.8 100.9 65.2 100.7 65.5 100.4 65.9 100.9 66.2 102.1 66.6 101.8 66.9 101.1 67.3 103.2 67.6 103.9 67.9 104.1 68.3 104.4 68.6 102.7 69.0 105.4 69.3 104.1 69.7 103.8 70.0 104.2 70.3 104.2 70.7 104.0 71.0 105.0 71.4 105.2 71.7 105.1 72.1 105.5 72.4 105.3 72.7 105.0 73.1 105.2 73.4 106.1 73.8 104.8 74.1 105.5 74.5 106.8 74.8 106.2 75.2 106.6 75.5 106.2 75.8 105.5 76.2 106.1 76.5 106.5 76.9 106.2 77.2 106.4 77.6 106.8 77.9 107.5 78.2 106.5 78.6 107.9 78.9 106.9 79.3 107.9 79.6 108.1 80.0 108.7 80.3 108.2 80.7 108.2 81.0 108.9 81.3 106.2 81.7 106.8 82.0 108.5 82.4 106.1 82.7 107.8 83.1 107.8 83.4 106.7 83.7 107.2 84.1 108.5 84.4 108.4 84.8 107.6 85.1 107.5 85.5 107.6 85.8 108.6 86.2 107.2 86.5 108.3 86.8 107.3 87.2 109.2 87.5 108.5 87.9 109.6 88.2 106.8 88.6 107.1 88.9 108.1 89.2 110.0 89.6 107.8 89.9 109.8 90.3 108.8 90.6 108.8 91.0 109.3 91.3 108.0 91.7 108.3 92.0 107.8 92.3 108.8 92.7 110.5 93.0 108.4 93.4 109.1 93.7 108.9 94.1 108.7 94.4 108.4 94.7 109.7 95.1 108.5 95.4 108.0 95.8 106.9 96.1 109.3 96.5 108.9 96.8 108.4 97.1 107.9 97.5 109.6 97.8 108.0 98.2 107.5 98.5 108.5 98.9 107.7 99.2 107.9 99.6 107.7 99.9 107.8 100.2 106.8 100.6 107.4 100.9 107.5 101.3 107.2 101.6 108.1 102.0 108.7 102.3 107.8 102.6 110.8 103.0 108.7 103.3 109.3 103.7 108.2 104.0 108.5 104.4 111.0 104.7 110.2 105.1 109.6 105.4 108.8 105.7 111.6 106.1 109.5 106.4 110.0 106.8 110.4 107.1 111.1 107.5 110.9 107.8 111.1 108.1 113.3 108.5 111.5 108.8 112.1 109.2 110.7 109.5 112.7 109.9 110.8 110.2 111.8 110.6 114.9 110.9 112.0 111.2 112.7 111.6 111.9 111.9 112.1 112.3 114.3 112.6 112.9 113.0 113.3 113.3 113.2 113.6 112.4 114.0 113.5 114.3 114.9 114.7 113.3 115.0 114.4 115.4 115.2 115.7 113.2 116.0 115.2 116.4 112.8 116.7 115.1 117.1 114.2 117.4 113.6 117.8 114.5 118.1 114.2 118.5 113.4 118.8 116.0 119.1 116.1 119.5 114.1 119.8 114.7 120.2 114.7 120.5 114.9 120.9 114.2 121.2 116.3 121.5 115.4 121.9 114.6 122.2 115.1 122.6 114.9 122.9 115.5 123.3 116.4 123.6 116.5 124.0 114.9 124.3 116.0 124.6 115.2 125.0 114.5 125.3 115.1 125.7 116.1 126.0 114.8 126.4 115.6 126.7 116.8 127.0 115.7 127.4 115.7 127.7 115.6 128.1 114.8 128.4 116.3 128.8 116.6 129.1 116.7 129.5 115.7 129.8 115.8 130.1 117.7 130.5 115.9 130.8 116.5 131.2 114.3 131.5 115.9 131.9 116.0 132.2 115.6 132.5 118.7 132.9 116.7 133.2 115.3 133.6 117.1 133.9 117.0 134.3 117.0 134.6 118.7 135.0 117.0 135.3 117.0 135.6 116.4 136.0 116.1 136.3 117.0 136.7 116.9 137.0 116.1 137.4 116.5 137.7 117.0 138.0 117.1 138.4 116.3 138.7 114.9 139.1 117.1 139.4 116.4 139.8 115.8 140.1 116.2 140.4 115.5 140.8 116.9 141.1 116.2 141.5 115.0 141.8 116.9 142.2 117.1 142.5 116.3 142.9 117.1 143.2 114.9 143.5 118.0 143.9 116.7 144.2 117.7 144.6 113.8 144.9 114.8 145.3 115.7 145.6 116.0 145.9 118.7 146.3 116.3 146.6 115.1 147.0 117.0 147.3 116.5 147.7 115.6 148.0 117.5 148.4 118.0 148.7 116.3 149.0 115.6 149.4 117.5 149.7 117.2 150.1 116.5 150.4 116.0 150.8 116.7 151.1 117.7 151.4 117.3 151.8 114.4 152.1 118.3 152.5 120.1 152.8 118.3 153.2 119.1 153.5 118.1 153.9 121.1 154.2 118.4 154.5 120.6 154.9 120.9 155.2 118.8 155.6 120.3 155.9 117.7 156.3 120.0 156.6 118.1 156.9 120.6 157.3 119.6 157.6 120.1 158.0 119.5 158.3 121.1 158.7 122.0 159.0 120.1 159.4 121.0 159.7 121.9 160.0 121.1 160.4 123.9 160.7 125.3 161.1 122.9 161.4 122.6 161.8 123.2 162.1 122.3 162.4 121.8 162.8 122.8 163.1 124.2 163.5 123.8 163.8 123.4 164.2 123.4 164.5 124.8 164.8 124.7 165.2 126.4 165.5 124.3 165.9 129.6 166.2 125.9 166.6 129.4 166.9 126.1 167.3 127.6 167.6 126.5 167.9 130.0 168.3 128.7 168.6 127.0 169.0 127.8 169.3 129.2 169.7 126.3 170.0 127.6 170.3 127.9 170.7 125.9 171.0 129.3 171.4 132.2 171.7 126.8 172.1 127.7 172.4 129.4 172.8 130.0 173.1 130.0 173.4 129.2 173.8 129.0 174.1 127.5 174.5 133.0 174.8 132.2 175.2 129.1 175.5 130.0 175.8 129.8 176.2 129.7 176.5 128.9 176.9 134.5 177.2 130.2 177.6 131.9 177.9 130.4 178.3 131.3 178.6 133.8 178.9 131.2 179.3 133.9 179.6 130.3 180.0 132.6 180.3 134.1 180.7 133.0 181.0 130.7 181.3 130.4 181.7 131.3 182.0 131.0 182.4 132.8 182.7 131.9 183.1 131.2 183.4 130.6 183.8 131.6 184.1 132.6 184.4 134.3 184.8 133.7 185.1 134.4 185.5 135.8 185.8 134.1 186.2 131.1 186.5 133.1 186.8 131.4 187.2 134.0 187.5 131.0 187.9 133.8 188.2 134.3 188.6 135.4 188.9 134.3 189.2 140.2 189.6 133.8 189.9 136.4 190.3 133.9 190.6 133.2 191.0 134.2 191.3 132.6 191.7 135.6 192.0 132.2 192.3 137.3 192.7 135.5 193.0 137.2 193.4 133.7 193.7 139.4 194.1 138.8 194.4 138.4 194.7 136.0 195.1 138.2 195.4 136.3 195.8 139.5 196.1 133.4 196.5 136.8 196.8 140.1 197.2 139.0 197.5 139.2 197.8 139.1 198.2 137.6 198.5 135.5 198.9 138.6 199.2 136.7 199.6 137.1 199.9 137.4 200.2 137.8 200.6 135.9 200.9 139.7 201.3 138.5 201.6 141.2 202.0 143.6 202.3 140.3 202.7 138.7 203.0 135.8 203.3 138.5 203.7 139.2 204.0 139.5 204.4 139.0 204.7 137.9 205.1 141.5 205.4 139.5 205.7 142.1 206.1 137.8 206.4 140.2 206.8 142.8 207.1 142.9 207.5 137.3 207.8 139.5 208.2 139.0 208.5 143.3 208.8 141.1 209.2 138.7 209.5 140.1 209.9 139.2 210.2 140.4 210.6 139.5 210.9 141.1 211.2 144.1 211.6 147.3 211.9 143.1 212.3 146.3 212.6 136.5 213.0 143.0 213.3 143.3 213.6 142.5 214.0 141.1 214.3 136.2 214.7 139.1 215.0 141.0 215.4 142.7 215.7 139.6 216.1 141.7 216.4 141.5 216.7 141.6 217.1 142.1 217.4 143.9 217.8 144.6 218.1 141.9 218.5 140.2 218.8 141.5 219.1 140.6 219.5 143.9 219.8 149.0 220.2 148.4 220.5 141.3 220.9 144.3 221.2 143.2 221.6 138.7 221.9 137.8 222.2 141.5 222.6 142.9 222.9 140.0 223.3 140.9 223.6 141.3 224.0 141.1 224.3 140.4 224.6 143.1 225.0 145.8 225.3 144.7 225.7 141.7 226.0 143.6 226.4 144.2 226.7 139.4 227.1 147.4 227.4 142.6 227.7 141.2 228.1 152.9 228.4 142.0 228.8 143.9 229.1 142.9 229.5 148.1 229.8 144.2 230.1 141.2 230.5 139.5 230.8 143.8 231.2 151.9 231.5 142.6 231.9 149.7 232.2 153.4 232.6 141.6 232.9 139.6 233.2 145.3 233.6 146.7 233.9 145.7 234.3 140.6 234.6 144.5 235.0 147.3 235.3 144.8 235.6 147.9 236.0 154.0 236.3 142.8 236.7 155.8 237.0 143.7 237.4 146.5 237.7 146.6 238.0 149.9 238.4 146.1 238.7 147.3 239.1 147.0 239.4 148.9 239.8 149.0 240.1 147.4 240.5 150.6 240.8 152.8 241.1 145.9 241.5 146.2 241.8 146.1 242.2 146.0 242.5 146.3 242.9 148.3 243.2 150.9 243.5 146.4 243.9 149.9 244.2 147.3 244.6 158.1 244.9 149.5 245.3 151.4 245.6 146.0 246.0 146.4 246.3 149.6 246.6 146.9 247.0 148.9 247.3 153.5 247.7 147.2 248.0 146.9 248.4 149.9 248.7 148.7 249.0 151.9 249.4 149.3 249.7 146.6 250.1 143.6 250.4 151.1 250.8 147.8 251.1 150.4 251.5 144.6 251.8 147.9 252.1 151.5 252.5 154.4 252.8 154.6 253.2 155.6 253.5 150.4 253.9 154.5 254.2 152.0 254.5 149.9 254.9 149.3 255.2 148.2 255.6 155.3 255.9 151.1 256.3 148.6 256.6 150.7 256.9 159.6 257.3 146.4 257.6 146.5 258.0 157.9 258.3 146.4 258.7 158.0 259.0 149.5 259.4 153.5 259.7 157.9 260.0 158.0 260.4 155.6 260.7 151.9 261.1 151.0 261.4 151.1 261.8 159.9 262.1 153.8 262.4 158.2 262.8 143.0 263.1 151.0 263.5 154.0 263.8 151.0 264.2 163.8 264.5 148.1 264.9 155.5 265.2 157.5 265.5 149.5 265.9 157.6 266.2 155.3 266.6 169.2 266.9 161.3 267.3 153.2 267.6 158.8 267.9 155.7 268.3 151.6 268.6 157.4 269.0 156.5 269.3 163.0 269.7 147.6 270.0 147.9 270.4 150.6 270.7 158.0 271.0 160.6 271.4 153.8 271.7 155.9 272.1 154.8 272.4 147.0 272.8 150.8 273.1 160.4 273.4 160.1 273.8 162.3 274.1 167.2 274.5 143.1 274.8 157.1 275.2 157.7 275.5 149.0 275.9 167.7 276.2 155.1 276.5 162.1 276.9 161.2 277.2 160.2 277.6 165.6 277.9 155.8 278.3 162.9 278.6 159.8 278.9 150.7 279.3 153.8 279.6 151.0 280.0 148.1 280.3 149.3 280.7 161.0 281.0 150.4 281.3 164.9 281.7 157.0 282.0 157.1 282.4 151.9 282.7 161.4 283.1 154.0 283.4 163.8 283.8 164.3 284.1 150.1 284.4 163.2 284.8 148.4 285.1 166.1 285.5 148.3 285.8 154.5 286.2 170.3 286.5 162.4 286.8 166.2 287.2 147.0 287.5 167.2 287.9 156.7 288.2 174.4 288.6 162.2 288.9 161.5 289.3 152.5 289.6 156.9 289.9 162.3 290.3 173.3 290.6 172.8 291.0 161.3 291.3 155.9 291.7 155.5 292.0 176.8 292.3 165.7 292.7 156.8 293.0 175.9 293.4 168.1 293.7 170.1 294.1 171.0 294.4 166.9 294.8 161.0 295.1 153.7 295.4 192.3 295.8 158.8 296.1 168.9 296.5 159.9 296.8 171.6 297.2 172.6 297.5 178.0 297.8 178.5 298.2 147.2 298.5 179.4 298.9 167.3 299.2 166.8 299.6 161.5 299.9 168.1 300.3 166.9 300.6 161.4 300.9 153.3 301.3 178.4 301.6 171.4 302.0 159.5 302.3 163.2 302.7 173.7 303.0 163.0"/>
<path fill="none" stroke="none" marker-start="url(#m5)" marker-mid="url(#m5)" marker-end="url(#m5)" d="M45.8 23.0 46.2 24.6 46.6 26.7 47.0 28.0 47.4 30.3 47.8 31.7 48.2 32.8 48.5 34.5 48.9 36.0 49.3 37.7 49.7 38.0 50.1 39.8 50.5 40.8 50.9 41.6 51.3 42.9 51.7 43.5 52.1 44.5 52.5 44.7 52.9 45.6 53.3 46.4 53.7 46.9 54.0 47.6 54.4 48.0 54.8 48.9 55.2 49.6 55.6 50.2 56.0 50.8 56.4 51.6 56.8 51.7 57.2 52.7 57.6 52.8 58.0 53.4 58.4 53.7 58.8 54.5 59.2 54.9 59.5 55.0 59.9 55.2 60.3 56.4 60.7 56.2 61.1 55.9 61.5 56.6 61.9 56.9 62.3 57.5 62.7 57.4 63.1 57.4 63.5 58.5 63.9 57.4 64.3 57.8 64.6 58.4 65.0 58.7 65.4 59.0 65.8 59.3 66.2 59.9 66.6 59.0 67.0 61.2 67.4 60.3 67.8 59.9 68.2 60.1 68.6 60.4 69.0 59.7 69.4 61.1 69.8 60.6 70.1 61.0 70.5 60.9 70.9 61.3 71.3 61.7 71.7 61.2 72.1 62.8 72.5 61.5 72.9 62.1 73.3 62.5 73.7 62.9 74.1 62.9 74.5 62.9 74.9 63.3 75.3 63.4 75.6 62.9 76.0 63.8 76.4 63.3 76.8 63.2 77.2 63.9 77.6 63.8 78.0 64.4 78.4 64.5 78.8 64.2 79.2 64.8 79.6 64.8 80.0 64.1 80.4 66.0 80.8 65.3 81.1 65.3 81.5 66.0 81.9 64.9 82.3 65.5 82.7 66.5 83.1 65.0 83.5 65.8 83.9 67.4 84.3 66.9 84.7 66.1 85.1 66.9 85.5 67.4 85.9 66.7 86.2 67.3 86.6 67.6 87.0 67.6 87.4 68.6 87.8 67.9 88.2 67.9 88.6 68.3 89.0 68.0 89.4 67.9 89.8 68.4 90.2 68.3 90.6 70.0 91.0 70.4 91.4 68.9 91.7 67.5 92.1 69.2 92.5 70.0 92.9 69.4 93.3 70.4 93.7 70.5 94.1 69.8 94.5 70.2 94.9 69.9 95.3 70.5 95.7 70.2 96.1 70.7 96.5 72.3 96.9 71.2 97.2 72.4 97.6 72.0 98.0 71.0 98.4 72.1 98.8 72.1 99.2 71.7 99.6 72.5 100.0 73.8 100.4 74.0 100.8 73.1 101.2 73.1 101.6 73.7 102.0 74.2 102.3 75.1 102.7 73.9 103.1 73.9 103.5 74.7 103.9 73.5 104.3 75.0 104.7 75.6 105.1 74.0 105.5 76.3 105.9 75.3 106.3 75.8 106.7 75.9 107.1 76.1 107.5 76.4 107.8 76.1 108.2 75.2 108.6 77.5 109.0 76.9 109.4 77.6 109.8 77.5 110.2 78.4 110.6 77.6 111.0 77.3 111.4 80.0 111.8 79.3 112.2 78.9 112.6 79.3 113.0 79.6 113.3 76.9 113.7 78.3 114.1 79.0 114.5 79.6 114.9 78.7 115.3 79.5 115.7 78.6 116.1 79.4 116.5 78.1 116.9 79.5 117.3 81.4 117.7 79.1 118.1 80.8 118.5 79.3 118.8 79.7 119.2 82.7 119.6 80.1 120.0 80.9 120.4 80.7 120.8 78.9 121.2 81.2 121.6 82.1 122.0 80.5 122.4 80.6 122.8 81.2 123.2 82.5 123.6 81.4 123.9 83.1 124.3 83.1 124.7 81.0 125.1 81.5 125.5 82.8 125.9 82.2 126.3 83.9 126.7 84.4 127.1 82.9 127.5 84.6 127.9 84.4 128.3 83.9 128.7 85.0 129.1 83.8 129.4 84.7 129.8 83.9 130.2 83.8 130.6 86.2 131.0 86.5 131.4 85.2 131.8 86.2 132.2 85.0 132.6 84.8 133.0 86.1 133.4 87.2 133.8 85.9 134.2 86.1 134.6 86.1 134.9 85.4 135.3 84.5 135.7 86.6 136.1 85.3 136.5 88.3 136.9 87.0 137.3 87.6 137.7 87.9 138.1 86.1 138.5 86.2 138.9 88.8 139.3 88.0 139.7 87.7 140.0 88.5 140.4 85.7 140.8 89.0 141.2 88.2 141.6 88.5 142.0 88.9 142.4 90.3 142.8 89.0 143.2 88.2 143.6 87.5 144.0 91.2 144.4 86.3 144.8 88.2 145.2 88.2 145.5 87.5 145.9 87.8 146.3 88.3 146.7 87.2 147.1 88.1 147.5 88.9 147.9 86.9 148.3 88.6 148.7 88.9 149.1 88.7 149.5 88.8 149.9 89.0 150.3 88.7 150.7 88.6 151.0 90.4 151.4 89.9 151.8 90.2 152.2 92.1 152.6 91.9 153.0 90.2 153.4 93.0 153.8 91.1 154.2 92.7 154.6 89.4 155.0 93.8 155.4 91.8 155.8 91.2 156.2 91.3 156.5 89.4 156.9 91.0 157.3 91.9 157.7 95.0 158.1 93.3 158.5 92.9 158.9 95.1 159.3 94.3 159.7 93.2 160.1 93.1 160.5 92.1 160.9 94.4 161.3 91.8 161.6 96.1 162.0 92.9 162.4 95.4 162.8 97.0 163.2 94.5 163.6 95.7 164.0 98.8 164.4 95.6 164.8 97.8 165.2 97.9 165.6 94.1 166.0 97.4 166.4 95.2 166.8 97.6 167.1 97.8 167.5 99.3 167.9 97.7 168.3 98.1 168.7 98.6 169.1 101.8 169.5 99.0 169.9 101.6 170.3 97.7 170.7 97.4 171.1 100.1 171.5 97.9 171.9 99.7 172.3 99.4 172.6 103.2 173.0 102.6 173.4 103.6 173.8 101.4 174.2 100.0 174.6 100.1 175.0 103.9"/>
<path fill="none" stroke="none" marker-start="url(#m6)" marker-mid="url(#m6)" marker-end="url(#m6)" d="M175.2 96.7 175.5 97.6 175.8 95.6 176.1 98.6 176.4 103.9 176.7 103.4 176.9 103.9 177.2 99.7 177.5 101.1 177.8 99.4 178.1 102.6 178.4 97.8 178.7 101.3 179.0 101.3 179.3 97.6 179.6 99.9 179.9 101.8 180.1 100.9 180.4 107.5 180.7 96.5 181.0 106.5 181.3 98.9 181.6 102.5 181.9 105.6 182.2 100.5 182.5 100.1 182.8 100.1 183.1 110.5 183.4 105.3 183.6 105.9 183.9 103.4 184.2 107.2 184.5 109.7 184.8 102.6 185.1 105.8 185.4 108.6 185.7 104.8 186.0 103.2 186.3 109.7 186.6 102.4 186.8 112.9 187.1 108.8 187.4 111.0 187.7 104.5 188.0 105.7 188.3 103.9 188.6 103.3 188.9 101.5 189.2 107.2 189.5 103.2 189.8 108.4 190.0 104.2 190.3 105.6 190.6 102.2 190.9 105.8 191.2 102.9 191.5 107.7 191.8 108.1 192.1 103.4 192.4 112.2 192.7 104.8 193.0 102.9 193.2 106.7 193.5 109.4 193.8 108.3 194.1 109.2 194.4 103.6 194.7 106.3 195.0 105.6 195.3 110.2 195.6 103.7 195.9 107.5 196.2 103.8 196.5 102.9 196.7 102.0 197.0 107.7 197.3 112.7 197.6 106.0 197.9 103.4 198.2 103.4 198.5 115.8 198.8 105.0 199.1 105.7 199.4 108.5 199.7 112.0 199.9 110.5 200.2 107.0 200.5 98.7 200.8 108.7 201.1 109.4 201.4 107.6 201.7 110.2 202.0 104.9 202.3 107.4 202.6 106.3 202.9 113.6 203.1 116.3 203.4 106.8 203.7 107.1 204.0 107.9 204.3 115.5 204.6 112.7 204.9 104.8 205.2 107.6 205.5 110.8 205.8 105.2 206.1 129.0 206.3 109.6 206.6 113.3 206.9 105.7 207.2 101.0 207.5 108.2 207.8 111.3 208.1 110.4 208.4 106.5 208.7 117.0 209.0 106.0 209.3 110.3 209.6 105.0 209.8 115.0 210.1 111.4 210.4 111.0 210.7 118.9 211.0 109.3 211.3 116.3 211.6 109.0 211.9 111.4 212.2 112.9 212.5 111.1 212.8 108.6 213.0 119.4 213.3 114.3 213.6 107.6 213.9 117.9 214.2 109.8 214.5 106.9 214.8 107.5 215.1 115.8 215.4 109.3 215.7 111.8 216.0 109.5 216.2 118.3 216.5 107.9 216.8 119.5 217.1 114.6 217.4 110.1 217.7 118.9 218.0 107.6 218.3 109.4 218.6 113.7 218.9 112.5 219.2 115.5 219.4 116.6 219.7 107.3 220.0 115.2 220.3 109.4 220.6 106.6 220.9 107.8 221.2 112.9 221.5 108.8 221.8 108.9 222.1 107.8 222.4 108.9 222.7 109.2 222.9 106.9 223.2 110.2 223.5 118.7 223.8 108.1 224.1 108.9 224.4 120.3 224.7 117.8 225.0 112.4 225.3 110.9 225.6 116.0 225.9 115.1 226.1 122.2 226.4 112.0 226.7 116.1 227.0 112.5 227.3 113.0 227.6 107.5 227.9 122.1 228.2 120.7 228.5 114.3 228.8 118.5 229.1 112.1 229.3 112.6 229.6 109.0 229.9 113.4 230.2 116.6 230.5 114.3 230.8 119.7 231.1 126.0 231.4 110.6 231.7 126.4 232.0 113.4 232.3 124.3 232.5 113.3 232.8 128.9 233.1 109.8 233.4 117.2 233.7 113.0 234.0 118.1 234.3 117.8 234.6 115.4 234.9 116.0 235.2 116.3 235.5 113.6 235.8 119.1 236.0 106.0 236.3 123.6 236.6 120.5 236.9 114.9 237.2 112.5 237.5 111.5 237.8 114.6 238.1 122.9 238.4 118.6 238.7 120.9 239.0 114.2 239.2 123.8 239.5 120.7 239.8 110.5 240.1 115.4 240.4 122.0 240.7 119.0 241.0 113.9 241.3 122.5 241.6 113.3 241.9 115.9 242.2 114.5 242.4 117.7 242.7 131.1 243.0 116.0 243.3 118.7 243.6 118.6 243.9 116.2 244.2 143.4 244.5 118.6 244.8 115.1 245.1 123.1 245.4 121.0 245.7 119.0 245.9 123.8 246.2 121.8 246.5 115.4 246.8 122.9 247.1 125.2 247.4 120.4 247.7 124.8 248.0 121.0 248.3 115.1 248.6 111.4 248.9 127.4 249.1 123.4 249.4 111.9 249.7 123.8 250.0 120.1 250.3 115.5 250.6 120.7 250.9 124.4 251.2 119.8 251.5 117.6 251.8 123.8 252.1 122.2 252.3 129.7 252.6 120.6 252.9 118.8 253.2 120.0 253.5 127.3 253.8 123.6 254.1 122.3 254.4 117.5 254.7 125.1 255.0 121.6 255.3 130.6 255.5 121.2 255.8 124.3 256.1 124.2 256.4 115.7 256.7 118.6 257.0 122.7 257.3 114.0 257.6 118.0 257.9 122.9 258.2 119.0 258.5 117.8 258.8 119.6 259.0 131.7 259.3 113.5 259.6 121.5 259.9 118.5 260.2 117.1 260.5 118.3 260.8 130.2 261.1 120.4 261.4 120.0 261.7 121.6 262.0 113.3 262.2 119.2 262.5 112.5 262.8 120.1 263.1 115.6 263.4 120.6 263.7 115.7 264.0 119.9 264.3 126.3 264.6 128.9 264.9 119.4 265.2 129.7 265.4 134.9 265.7 122.4 266.0 121.2 266.3 134.1 266.6 126.6 266.9 138.4 267.2 137.2 267.5 115.4 267.8 125.5 268.1 129.1 268.4 117.8 268.6 122.8 268.9 120.1 269.2 127.8 269.5 127.5 269.8 133.9 270.1 120.4 270.4 134.6 270.7 130.2 271.0 117.5 271.3 125.6 271.6 121.7 271.9 118.6 272.1 130.2 272.4 126.3 272.7 122.7 273.0 117.1 273.3 129.7 273.6 122.5 273.9 123.9 274.2 125.5 274.5 121.1 274.8 127.4 275.1 112.7 275.3 132.2 275.6 141.5 275.9 117.9 276.2 123.6 276.5 132.0 276.8 128.3 277.1 146.7 277.4 147.9 277.7 120.3 278.0 138.1 278.3 117.8 278.5 120.8 278.8 122.1 279.1 121.8 279.4 120.2 279.7 143.4 280.0 121.7 280.3 119.0 280.6 131.0 280.9 121.2 281.2 127.6 281.5 121.1 281.7 131.1 282.0 116.4 282.3 126.4 282.6 123.0 282.9 119.2 283.2 118.0 283.5 126.4 283.8 122.4 284.1 120.4 284.4 124.1 284.7 131.2 285.0 123.4 285.2 131.1 285.5 129.6 285.8 124.1 286.1 133.1 286.4 127.4 286.7 127.2 287.0 139.2 287.3 139.3 287.6 128.5 287.9 133.0 288.2 127.7 288.4 128.9 288.7 126.5 289.0 118.5 289.3 117.3 289.6 133.9 289.9 121.8 290.2 114.2 290.5 128.7 290.8 132.4 291.1 129.6 291.4 128.5 291.6 126.3 291.9 113.9 292.2 133.9 292.5 130.1 292.8 128.3 293.1 127.4 293.4 131.5 293.7 131.5 294.0 126.0 294.3 136.6 294.6 123.4 294.8 126.3 295.1 131.6 295.4 129.2 295.7 125.0 296.0 113.9 296.3 129.9 296.6 127.5 296.9 130.2 297.2 135.0 297.5 130.4 297.8 132.7 298.1 139.9 298.3 124.0 298.6 141.2 298.9 129.5 299.2 149.2 299.5 137.7 299.8 127.7 300.1 129.8 300.4 128.4 300.7 130.9 301.0 126.1 301.3 129.8 301.5 139.3 301.8 132.2 302.1 122.0 302.4 126.4 302.7 136.6 303.0 125.0"/>
<rect x="242.4" y="5.3" width="106.2" height="77.2" fill="#fff" stroke="none"/>
<path d="M242.4 5.3 V82.5 H348.6" stroke="#a0a0a0" stroke-width="1.3" fill="none"/>
<path d="M242.4 81.9 v-2.5 M254.9 81.9 v-2.5 M267.4 81.9 v-2.5 M279.9 81.9 v-2.5 M292.4 81.9 v-2.5 M304.9 81.9 v-2.5 M317.4 81.9 v-2.5 M329.9 81.9 v-2.5 M342.4 81.9 v-2.5 M243 66.2 h2.5 M243 48.3 h2.5 M243 30.4 h2.5 M243 12.5 h2.5" stroke="#444" stroke-width="0.9" fill="none"/>
<path d="M250.5 25.3 L254.4 14.4 L259.2 35.9 L262.9 25.3 L265.3 27.4 L267.3 20.5 L270 31.2 L272.5 24.4 L275.2 30.1 L278.2 34.9 L281.4 23.6 L284.1 33.6 L286.2 24.7 L287.5 37 L290.3 34.9 L292.7 33.4 L295.5 34.1 L297.5 33.4 L299.9 39.6 L302.3 30 L304.8 42.3 L307.5 41.6 L309.5 48.5 L311.2 40.3 L313.3 45 L316 60.8 L318.1 61.5 L321.5 54.4 L325.6 61.5 L328.1 62.9 L330 58.5 L332.5 62.9 L336.6 64.5 L339 63.2" stroke="#707070" stroke-width="0.85" fill="none" stroke-linejoin="round"/>
<path d="M250.3 76.8H286.7" stroke="#d43a3a" stroke-width="1.8"/>
<path d="M298.2 76.8H313" stroke="#8fee50" stroke-width="1.8"/>
<path d="M319.2 76.4H339.3" stroke="#1f1fe8" stroke-width="1.8"/>
<path d="M248.34 6.1 v2.2 M260.88 6.1 v2.2 M273.41 6.1 v2.2 M285.94 6.1 v3 M298.47 6.1 v2.2 M311 6.1 v2.2 M323.54 6.1 v2.2 M336.07 6.1 v2.2 M348.6 6.1 v3 M347.8 50.73 h-3" stroke="#333" stroke-width="1" fill="none"/>
<path d="M242.4 5.3 H348.6 V82.5" stroke="#8a8a8a" stroke-width="1.6" fill="none"/>
<text x="0.9" y="12.9" font-size="16.3" font-weight="bold">A</text><text x="30.2" y="327.8" font-size="10.5" text-anchor="end">-2</text><text x="30.2" y="282.37" font-size="10.5" text-anchor="end">-1</text><text x="30.2" y="236.94" font-size="10.5" text-anchor="end">0</text><text x="30.2" y="191.51" font-size="10.5" text-anchor="end">1</text><text x="30.2" y="146.09" font-size="10.5" text-anchor="end">2</text><text x="30.2" y="100.66" font-size="10.5" text-anchor="end">3</text><text x="30.2" y="55.23" font-size="10.5" text-anchor="end">4</text><text x="30.2" y="9.8" font-size="10.5" text-anchor="end">5</text><text x="35.3" y="338.8" font-size="10.5" text-anchor="middle">0.00</text><text x="97.96" y="338.8" font-size="10.5" text-anchor="middle">0.05</text><text x="160.62" y="338.8" font-size="10.5" text-anchor="middle">0.10</text><text x="223.28" y="338.8" font-size="10.5" text-anchor="middle">0.15</text><text x="285.94" y="338.8" font-size="10.5" text-anchor="middle">0.20</text><text x="348.6" y="338.8" font-size="10.5" text-anchor="middle">0.25</text><text transform="translate(10.2 164) rotate(-90)" font-size="13" text-anchor="middle">log I(q)</text><text x="175" y="362" font-size="12">q (Å<tspan font-size="8" dy="-5">-1</tspan><tspan dy="5">)</tspan></text><text x="238.3" y="68.9" font-size="7.8" text-anchor="end">0</text><text x="238.3" y="51" font-size="7.8" text-anchor="end">200</text><text x="238.3" y="33.1" font-size="7.8" text-anchor="end">400</text><text x="238.3" y="15.2" font-size="7.8" text-anchor="end">600</text><text x="242.4" y="93.7" font-size="8" text-anchor="middle">0</text><text x="254.9" y="93.7" font-size="8" text-anchor="middle">2</text><text x="267.4" y="93.7" font-size="8" text-anchor="middle">4</text><text x="279.9" y="93.7" font-size="8" text-anchor="middle">6</text><text x="292.4" y="93.7" font-size="8" text-anchor="middle">8</text><text x="304.9" y="93.7" font-size="8" text-anchor="middle">10</text><text x="317.4" y="93.7" font-size="8" text-anchor="middle">12</text><text x="329.9" y="93.7" font-size="8" text-anchor="middle">14</text><text x="342.4" y="93.7" font-size="8" text-anchor="middle">16</text><text x="209.8" y="42.2" font-size="9">I (t)</text><text x="276.5" y="105" font-size="9">t (min)</text><text x="304.6" y="134" font-size="10" font-weight="bold">GTP</text><text x="304.6" y="170.8" font-size="10" font-weight="bold">GMPCPP</text><text x="274.5" y="220.7" font-size="9.5" font-weight="bold">ΔCtail, GTP</text><text x="268.8" y="283.2" font-size="9.5" font-weight="bold">ΔCtail, GMPCPP</text>
<rect x="399.3" y="7.4" width="314" height="315.6" fill="none" stroke="#4a4a4a" stroke-width="1.3"/>
<path d="M399.3 322.4 v-3 M399.3 8 v3 M411.86 322.4 v-2.2 M411.86 8 v2.2 M424.42 322.4 v-2.2 M424.42 8 v2.2 M436.98 322.4 v-2.2 M436.98 8 v2.2 M449.54 322.4 v-2.2 M449.54 8 v2.2 M462.1 322.4 v-3 M462.1 8 v3 M474.66 322.4 v-2.2 M474.66 8 v2.2 M487.22 322.4 v-2.2 M487.22 8 v2.2 M499.78 322.4 v-2.2 M499.78 8 v2.2 M512.34 322.4 v-2.2 M512.34 8 v2.2 M524.9 322.4 v-3 M524.9 8 v3 M537.46 322.4 v-2.2 M537.46 8 v2.2 M550.02 322.4 v-2.2 M550.02 8 v2.2 M562.58 322.4 v-2.2 M562.58 8 v2.2 M575.14 322.4 v-2.2 M575.14 8 v2.2 M587.7 322.4 v-3 M587.7 8 v3 M600.26 322.4 v-2.2 M600.26 8 v2.2 M612.82 322.4 v-2.2 M612.82 8 v2.2 M625.38 322.4 v-2.2 M625.38 8 v2.2 M637.94 322.4 v-2.2 M637.94 8 v2.2 M650.5 322.4 v-3 M650.5 8 v3 M663.06 322.4 v-2.2 M663.06 8 v2.2 M675.62 322.4 v-2.2 M675.62 8 v2.2 M688.18 322.4 v-2.2 M688.18 8 v2.2 M700.74 322.4 v-2.2 M700.74 8 v2.2 M713.3 322.4 v-3 M713.3 8 v3 M399.9 323 h3 M712.7 323 h-3 M399.9 277.91 h3 M712.7 277.91 h-3 M399.9 232.83 h3 M712.7 232.83 h-3 M399.9 187.74 h3 M712.7 187.74 h-3 M399.9 142.66 h3 M712.7 142.66 h-3 M399.9 97.57 h3 M712.7 97.57 h-3 M399.9 52.49 h3 M712.7 52.49 h-3 M399.9 7.4 h3 M712.7 7.4 h-3" stroke="#666" stroke-width="1" fill="none"/>
<text x="362.6" y="12.7" font-size="16.3" font-weight="bold">B</text><text x="394.2" y="327.5" font-size="10.5" text-anchor="end">-3</text><text x="394.2" y="282.41" font-size="10.5" text-anchor="end">-2</text><text x="394.2" y="237.33" font-size="10.5" text-anchor="end">-1</text><text x="394.2" y="192.24" font-size="10.5" text-anchor="end">0</text><text x="394.2" y="147.16" font-size="10.5" text-anchor="end">1</text><text x="394.2" y="102.07" font-size="10.5" text-anchor="end">2</text><text x="394.2" y="56.99" font-size="10.5" text-anchor="end">3</text><text x="394.2" y="11.9" font-size="10.5" text-anchor="end">4</text><text x="399.3" y="338.8" font-size="10.5" text-anchor="middle">0.00</text><text x="462.1" y="338.8" font-size="10.5" text-anchor="middle">0.05</text><text x="524.9" y="338.8" font-size="10.5" text-anchor="middle">0.10</text><text x="587.7" y="338.8" font-size="10.5" text-anchor="middle">0.15</text><text x="650.5" y="338.8" font-size="10.5" text-anchor="middle">0.20</text><text x="713.3" y="338.8" font-size="10.5" text-anchor="middle">0.25</text><text transform="translate(375.6 163.3) rotate(-90)" font-size="13" text-anchor="middle">log I(q)</text><text x="539.4" y="361.5" font-size="12">q (Å<tspan font-size="8" dy="-5">-1</tspan><tspan dy="5">)</tspan></text><text x="644.2" y="189.3" font-size="10" font-weight="bold" fill="#a3aa94">monomers</text><text x="644.2" y="222.7" font-size="10" font-weight="bold" fill="#d42027">curved model</text><text x="644.2" y="244.5" font-size="10" font-weight="bold" fill="#5c6448">closed ring</text><text x="644.2" y="267" font-size="10" font-weight="bold" fill="#000">straight model</text>
<path d="M399.3 87.6 402.1 87.7 405.0 87.7 407.8 87.8 410.6 87.9M415.2 88.2 418.0 88.5 420.8 88.9 423.6 89.3 426.5 89.8M431.0 90.8 433.8 91.5 436.6 92.2 439.5 93.0 442.3 93.9M446.9 95.4 449.7 96.4 452.5 97.5 455.3 98.6 458.2 99.8M462.7 101.7 465.5 103.0 468.4 104.3 471.2 105.7 474.0 107.0M478.6 109.3 481.4 110.7 484.2 112.1 487.0 113.6 489.9 115.1M494.4 117.5 497.2 119.0 500.0 120.6 502.9 122.2 505.7 123.8M510.2 126.4 513.1 127.9 515.9 129.4 518.7 130.8 521.5 132.3M526.1 134.5 528.9 135.9 531.8 137.2 534.6 138.5 537.4 139.7M542.0 141.5 544.8 142.6 547.6 143.6 550.4 144.6 553.2 145.6M557.8 147.0 560.6 147.9 563.4 148.8 566.3 149.7 569.1 150.6M573.6 151.8 576.5 152.6 579.3 153.4 582.1 154.2 584.9 155.1M589.5 156.5 592.3 157.4 595.1 158.3 598.0 159.2 600.8 160.1M605.4 161.6 608.2 162.6 611.0 163.5 613.8 164.5 616.6 165.5M621.2 167.0 624.0 168.0 626.9 168.9 629.7 169.8 632.5 170.6M637.0 171.7 639.9 172.4 642.7 173.0 645.5 173.6 648.3 174.1M652.9 174.9 655.7 175.3 658.5 175.7 661.4 176.1 664.2 176.4M668.8 176.8 671.6 177.0 674.4 177.2 677.2 177.3 680.0 177.4M684.6 177.6 687.4 177.7 690.2 177.8 693.1 177.9 695.9 178.0M700.5 178.1 703.3 178.2 706.1 178.3 708.9 178.3 711.8 178.4" stroke="#8c90b2" stroke-width="1" fill="none"/>
<path d="M399.3 19.5 L399.55 20.78 L399.92 22.57 L400.34 24.69 L400.78 26.93 L401.18 29.09 L401.5 31 L401.73 32.62 L401.91 34.11 L402.06 35.53 L402.18 36.94 L402.29 38.41 L402.4 40 L402.51 41.74 L402.59 43.6 L402.67 45.52 L402.74 47.43 L402.82 49.28 L402.9 51 L402.98 52.72 L403.06 54.51 L403.13 56.24 L403.22 57.77 L403.34 58.97 L403.5 59.7 L403.71 59.77 L403.98 59.26 L403.99 57.96 L404.48 57.64 L405.25 56.77 L404.91 56.13 L405.57 57.07 L405.6 56.41 L405.35 57.92 L405.92 57.36 L405.99 58.2 L405.98 59.03 L406.13 59.91 L406.54 60 L406.89 61.02 L406.36 61.24 L406.77 62.01 L406.85 63.01 L407.46 64.2 L407.26 65.83 L407.4 67.3 L408.03 69.11 L408.56 71.16 L407.7 71.9 L408.32 71.97 L409.07 70.82 L409.35 70.68 L410.16 69.59 L410.48 69.14 L410.48 69.31 L411.47 70.56 L412.18 71.81 L412 73.38 L411.85 74.64 L412.91 75.99 L412.87 77.29 L413.37 77.98 L413.45 78.78 L413.88 78.87 L414.51 79.19 L414.16 79.77 L415.34 80.87 L415.11 81.62 L416.08 82.84 L415.99 84.71 L416.54 85.71 L417.51 86.96 L418.08 88.77 L418.5 88.88 L418.61 90.13 L419.73 91.14 L420.36 91.8 L421.04 92.87 L422.26 94.27 L423.32 96.76 L424.68 97.52 L426.45 100.33 L426.9 102.72 L428.64 104.33 L429.78 106.15 L431.36 108.66 L432.59 110.14 L434.73 111.22 L435.54 113.14 L436.46 114.47 L438.19 116.55 L439.42 118.02 L441.3 119.72 L442.8 121.37 L444.07 123.37 L445.44 124.19 L446.65 125.08 L447.3 126.71 L448.53 127.82 L449.11 127.49 L450.54 129.09 L450.24 129.96 L451.41 129.77 L452.09 131.33 L453.66 132.44 L453.87 133.91 L454.66 134.99 L455.65 136.97 L456.52 137.48 L456.54 139.01 L457.27 139.93 L457.46 141.99 L458.88 142.06 L459.39 143.88 L458.76 144.11 L460.01 145.22 L460.66 145.43 L461.23 146.59 L462.56 146.19 L462.03 147.84 L462.56 147.4 L463.44 148.69 L464.29 149.71 L464.12 150.91 L465.04 152.58 L465.53 152.63 L465.83 154.71 L466.75 154.54 L467.52 156.37 L468.97 157.09 L469.69 158.75 L470.19 159.33 L472.12 160.8 L472.99 161.02 L474.41 161.48 L475.37 161.77 L476.82 162.47 L479.17 162.72 L479.94 163.36 L480.7 163.18 L481.29 162.45 L483.6 161.07 L484.07 161.73 L485.43 160.48 L486.27 160.31 L487.34 160.44 L487.52 159.88 L488.01 160.46 L488.47 160.14 L488.54 159.4 L488.55 160.03 L489 160.24 L489.4 160.42 L489.8 160.48 L490.2 160.29 L490.6 159.82 L491 159.11 L491.4 158.29 L491.8 157.54 L492.2 157.07 L492.6 157.01 L493 157.4 L493.4 158.18 L493.8 159.13 L494.2 159.99 L494.6 160.46 L495 160.32 L495.4 159.55 L495.8 158.23 L496.2 156.59 L496.6 155.01 L497 153.83 L497.4 153.32 L497.8 153.62 L498.2 154.65 L498.6 156.16 L499 157.76 L499.4 158.96 L499.8 159.42 L500.2 159 L500.6 157.79 L501 156.08 L501.4 154.36 L501.8 153.05 L502.2 152.45 L502.6 152.59 L503 153.41 L503.4 154.66 L503.8 156.07 L504.2 157.46 L504.6 158.42 L505 158.69 L505.4 158.04 L505.8 156.63 L506.2 154.74 L506.6 152.83 L507 151.33 L507.4 150.62 L507.8 150.87 L508.2 152.01 L508.6 153.8 L509 155.82 L509.4 157.59 L509.8 158.69 L510.2 158.9 L510.6 158.16 L511 156.66 L511.4 154.77 L511.8 153 L512.2 151.76 L512.6 151.39 L513 152.04 L513.4 153.58 L513.8 155.68 L514.2 157.89 L514.6 159.75 L515 160.83 L515.4 160.93 L515.8 160.07 L516.2 158.53 L516.6 156.7 L517 155.07 L517.4 154.1 L517.8 154.09 L518.2 155.09 L518.6 156.94 L519 159.25 L519.4 161.54 L519.8 163.32 L520.2 164.23 L520.6 164.11 L521 163.05 L521.4 161.34 L521.8 159.46 L522.2 157.93 L522.6 157.16 L523 157.4 L523.4 158.66 L523.8 160.71 L524.2 163.12 L524.6 165.38 L525 167 L525.4 167.66 L525.8 167.26 L526.2 165.96 L526.6 164.17 L527 162.38 L527.4 161.09 L527.8 160.68 L528.2 161.3 L528.6 162.86 L529 165.05 L529.4 167.43 L529.8 169.51 L530.2 170.87 L530.6 171.29 L531 170.78 L531.4 169.55 L531.8 167.97 L532.2 166.52 L532.6 165.63 L533 165.57 L533.4 166.43 L533.8 168.07 L534.2 170.18 L534.6 172.35 L535 174.15 L535.4 175.24 L535.8 175.48 L536.2 174.92 L536.6 173.8 L537 172.49 L537.4 171.39 L537.8 170.84 L538.2 171.07 L538.6 172.09 L539 173.74 L539.4 175.71 L539.8 177.62 L540.2 179.11 L540.6 179.96 L541 180.05 L541.4 179.48 L541.8 178.48 L542.2 177.41 L542.6 176.6 L543 176.33 L543.4 176.76 L543.8 177.87 L544.2 179.49 L544.6 181.31 L545 183 L545.4 184.32 L545.8 185.05 L546.2 185.12 L546.6 184.67 L547 183.93 L547.4 183.17 L547.8 182.7 L548.2 182.73 L548.6 183.32 L549 184.47 L549.4 185.97 L549.8 187.53 L550.2 188.89 L550.6 189.83 L551 190.21 L551.4 190 L551.8 189.38 L552.2 188.56 L552.6 187.83 L553 187.41 L553.4 187.46 L553.8 188.02 L554.2 189.03 L554.6 190.28 L555 191.56 L555.4 192.62 L555.8 193.28 L556.2 193.44 L556.6 193.16 L557 192.59 L557.4 191.96 L557.8 191.46 L558.2 191.28 L558.6 191.49 L559 192.08 L559.4 192.95 L559.8 193.94 L560.2 195.61 L560.6 195.81 L561 195.8 L561.4 195.65 L561.8 195.44 L562.2 195.27 L562.6 195.19 L563 195.26 L563.4 195.53 L563.8 196 L564.2 196.65 L564.6 197.41 L565 198.21 L565.4 198.96 L565.8 199.59 L566.2 200.05 L566.6 200.32 L567 200.4 L567.4 200.33 L567.8 200.2 L568.2 200.08 L568.6 200.04 L569 200.14 L569.4 200.42 L569.8 200.89 L570.2 201.52 L570.6 202.25 L571 203.02 L571.4 203.74 L571.8 204.35 L572.2 204.81 L572.6 205.08 L573 205.18 L573.4 205.16 L573.8 205.06 L574.2 204.97 L574.6 204.96 L575 205.07 L575.4 205.28 L575.8 205.67 L576.2 206.2 L576.6 206.83 L577 207.49 L577.4 208.12 L577.8 208.65 L578.2 209.03 L578.6 209.23 L579 209.27 L579.4 209.18 L579.8 209.01 L580.2 208.85 L580.6 208.76 L581 208.79 L581.4 208.99 L581.8 209.37 L582.2 209.89 L582.6 210.52 L583 211.18 L583.4 211.81 L583.8 212.33 L584.2 212.71 L584.6 212.92 L585 212.96 L585.4 212.88 L585.8 212.72 L586.2 212.56 L586.6 212.47 L587 212.51 L587.4 212.72 L587.8 213.09 L588.2 213.62 L588.6 214.25 L589 214.9 L589.4 215.52 L589.8 216.03 L590.2 216.35 L590.6 216.45 L591 216.38 L591.4 216.19 L591.8 215.91 L592.2 215.62 L592.6 215.41 L593 215.33 L593.4 215.41 L593.8 215.66 L594.2 216.06 L594.6 216.55 L595 217.07 L595.4 217.55 L595.8 217.93 L596.2 218.16 L596.6 218.22 L597 218.12 L597.4 217.88 L597.8 217.56 L598.2 217.23 L598.6 216.97 L599 216.84 L599.4 216.88 L599.8 217.09 L600.2 217.41 L600.6 217.78 L601 218.16 L601.4 218.47 L601.8 218.66 L602.2 218.71 L602.6 218.62 L603 218.41 L603.4 218.12 L603.8 217.8 L604.2 217.52 L604.6 217.3 L605 217.17 L605.4 217.14 L605.8 217.21 L606 216.82 L606.5 216.49 L607 216.39 L607.5 216.65 L608 217.26 L608.5 218.04 L609 218.66 L609.5 218.81 L610 218.3 L610.5 217.17 L611 215.71 L611.5 214.39 L612 213.69 L612.5 214.32 L613 215.76 L613.5 217.59 L614 219.28 L614.5 220.35 L615 220.51 L615.5 219.75 L616 218.37 L616.5 216.85 L617 215.73 L617.5 215.41 L618 216.05 L618.5 217.48 L619 219.31 L619.5 221.01 L620 222.08 L620.5 222.24 L621 221.48 L621.5 220.1 L622 218.59 L622.5 217.47 L623 217.15 L623.5 217.79 L624 219.22 L624.5 221.05 L625 222.75 L625.5 223.82 L626 223.98 L626.5 223.22 L627 221.84 L627.5 220.32 L628 219.19 L628.5 218.87 L629 219.5 L629.5 220.93 L630 222.75 L630.5 224.44 L631 225.5 L631.5 225.65 L632 224.89 L632.5 223.5 L633 221.97 L633.5 220.84 L634 220.51 L634.5 221.13 L635 222.55 L635.5 224.37 L636 226.05 L636.5 227.11 L637 227.25 L637.5 226.47 L638 225.07 L638.5 223.54 L639 222.4 L639.5 222.06 L640 222.68 L640.5 224.18 L641 226 L641.5 227.64 L642 228.64 L642.5 228.78 L643 228.12 L643.5 226.95 L644 225.73 L644.5 224.9 L645 224.76 L645.5 225.39 L646 226.62 L646.5 228.09 L647 229.39 L647.5 230.19 L648 230.33 L648.5 229.86 L649 229.02 L649.5 228.15 L650 227.6 L650.5 227.56 L651 228.07 L651.5 229.01 L652 230.1 L652.5 231.06 L653 231.65 L653.5 231.78 L654 231.5 L654.5 230.97 L655 230.44 L655.5 230.13 L656 230.18 L656.5 230.57 L657 231.22 L657.5 232.03 L658 232.62 L658.5 232.93 L659 233.03 L659.5 233.08 L662 233.4 L690 236.3 L713 236.8" stroke="#8486ac" stroke-width="0.85" fill="none" stroke-linejoin="round"/>
<path d="M399.6 40 L399.68 41.46 L399.79 43.46 L399.92 45.87 L400.08 48.59 L400.25 51.5 L400.44 54.78 L400.65 58.5 L400.88 62.4 L401.13 66.19 L401.4 69.6 L401.66 72.53 L401.93 75.16 L402.22 77.64 L402.56 80.14 L403 82.8 L403.51 85.66 L404.06 88.61 L404.7 91.62 L405.43 94.63 L406.3 97.6 L407.3 100.47 L408.42 103.25 L409.65 106.07 L410.98 109.01 L412.4 112.2 L413.95 115.68 L415.63 119.38 L417.39 123.23 L419.2 127.13 L421 131 L422.86 134.99 L424.79 139.16 L426.73 143.28 L428.6 147.13 L430.3 150.5 L431.8 153.26 L433.16 155.56 L434.44 157.59 L435.7 159.51 L437 161.5 L438.36 163.59 L439.74 165.66 L441.12 167.68 L442.48 169.6 L443.8 171.4 L445.03 173.01 L446.18 174.46 L447.33 175.83 L448.58 177.22 L450 178.7 L451.65 180.33 L453.48 182.04 L455.4 183.77 L457.34 185.45 L459.2 187 L460.96 188.39 L462.67 189.67 L464.38 190.89 L466.14 192.11 L468 193.4 L469.84 194.67 L471.62 195.89 L473.53 197.17 L475.73 198.63 L478.4 200.4 L481.68 202.58 L485.45 205.08 L489.5 207.76 L493.62 210.45 L497.6 213 L501.46 215.44 L505.34 217.88 L509.21 220.27 L513.04 222.53 L516.8 224.6 L520.55 226.48 L524.29 228.21 L527.97 229.8 L531.49 231.26 L534.8 232.6 L537.85 233.78 L540.7 234.79 L543.38 235.7 L545.97 236.58 L548.5 237.5 L550.97 238.46 L553.35 239.41 L555.64 240.36 L557.86 241.29 L560 242.2 L562.09 243.11 L564.12 244.03 L566.06 244.91 L567.9 245.75 L569.6 246.5 L571.2 247.2 L572.7 247.85 L574.08 248.43 L575.29 248.9 L576.3 249.2 L577.05 249.27 L577.57 249.13 L577.94 248.9 L578.26 248.68 L578.6 248.6 L578.96 248.65 L579.28 248.77 L579.58 248.93 L579.88 249.15 L580.2 249.4 L580.51 249.74 L580.8 250.17 L581.11 250.62 L581.5 251.02 L582 251.3 L582.65 251.43 L583.41 251.46 L584.24 251.43 L585.12 251.36 L586 251.3 L586.89 251.21 L587.82 251.08 L588.78 250.94 L589.74 250.83 L590.7 250.8 L591.61 250.82 L592.48 250.85 L593.37 250.95 L594.36 251.16 L595.5 251.5 L596.84 252.02 L598.33 252.67 L599.92 253.43 L601.53 254.26 L603.1 255.1 L604.62 255.98 L606.13 256.91 L607.65 257.89 L609.2 258.89 L610.8 259.9 L612.48 260.94 L614.22 262.03 L615.99 263.13 L617.73 264.2 L619.4 265.2 L620.93 266.11 L622.35 266.96 L623.76 267.78 L625.28 268.61 L627 269.5 L628.98 270.49 L631.14 271.54 L633.42 272.6 L635.73 273.61 L638 274.5 L640.22 275.26 L642.43 275.94 L644.66 276.55 L646.95 277.1 L649.3 277.6 L651.76 278.05 L654.32 278.43 L656.91 278.76 L659.49 279.05 L662 279.3 L664.36 279.51 L666.62 279.68 L668.88 279.8 L671.26 279.91 L673.9 280 L676.74 280.08 L679.71 280.13 L682.86 280.16 L686.27 280.18 L690 280.2 L694.53 280.21 L699.81 280.21 L705.12 280.21 L709.76 280.2 L713 280.2" stroke="#111" stroke-width="1.55" fill="none" stroke-linejoin="round"/>
<path d="M399.2 19.5 L399.46 20.65 L399.83 22.24 L400.26 24.12 L400.71 26.15 L401.14 28.16 L401.5 30 L401.78 31.71 L402.02 33.41 L402.24 35.11 L402.44 36.77 L402.66 38.41 L402.9 40 L403.15 41.57 L403.41 43.14 L403.67 44.68 L403.95 46.16 L404.26 47.54 L404.6 48.8 L404.99 49.87 L405.42 50.76 L405.88 51.56 L406.36 52.35 L406.83 53.24 L407.3 54.3 L407.76 55.61 L408.21 57.12 L408.66 58.72 L409.13 60.3 L409.6 61.76 L410.1 63 L410.63 63.96 L411.19 64.7 L411.76 65.33 L412.33 65.93 L412.88 66.59 L413.4 67.4 L413.88 68.39 L414.32 69.48 L414.75 70.63 L415.18 71.8 L415.62 72.94 L416.1 74 L416.58 74.92 L417.05 75.73 L417.54 76.51 L418.07 77.34 L418.68 78.31 L419.4 79.5 L420.27 81 L421.29 82.74 L422.37 84.62 L423.48 86.54 L424.54 88.37 L425.5 90 L426.28 91.37 L426.92 92.54 L427.51 93.64 L428.16 94.76 L428.96 96.01 L430 97.5 L431.34 99.3 L432.9 101.33 L434.62 103.5 L436.41 105.7 L438.19 107.83 L439.9 109.8 L441.54 111.61 L443.17 113.34 L444.8 115.01 L446.43 116.61 L448.06 118.18 L449.7 119.7 L451.36 121.17 L453.06 122.56 L454.75 123.91 L456.42 125.23 L458.05 126.55 L459.6 127.9 L461.08 129.28 L462.52 130.66 L463.91 132.05 L465.25 133.43 L466.55 134.78 L467.8 136.1 L468.99 137.4 L470.12 138.69 L471.2 139.95 L472.26 141.18 L473.32 142.37 L474.4 143.5 L475.5 144.6 L476.6 145.7 L477.7 146.74 L478.8 147.71 L479.9 148.58 L481 149.3 L482.1 149.87 L483.19 150.3 L484.27 150.62 L485.37 150.86 L486.48 151.04 L487.6 151.2 L488.76 151.31 L489.95 151.35 L491.15 151.33 L492.34 151.27 L493.5 151.19 L494.6 151.1 L495.68 150.96 L496.75 150.75 L497.79 150.51 L498.76 150.3 L499.64 150.14 L500.4 150.1 L501 150.21 L501.45 150.46 L501.81 150.77 L502.12 151.07 L502.43 151.31 L502.8 151.4 L503.15 151.29 L503.44 151.03 L503.74 150.7 L504.1 150.38 L504.6 150.15 L505.3 150.1 L506.22 150.19 L507.31 150.35 L508.54 150.61 L509.87 150.98 L511.27 151.5 L512.7 152.2 L514.19 153.12 L515.79 154.24 L517.44 155.52 L519.14 156.88 L520.83 158.26 L522.5 159.6 L524.13 160.88 L525.73 162.15 L527.34 163.44 L528.98 164.79 L530.66 166.23 L532.4 167.8 L534.27 169.57 L536.28 171.54 L538.33 173.59 L540.33 175.64 L542.22 177.58 L543.9 179.3 L545.23 180.75 L546.25 182 L547.14 183.14 L548.11 184.26 L549.33 185.45 L551 186.8 L553.23 188.35 L555.88 190.04 L558.79 191.81 L561.79 193.58 L564.72 195.3 L567.4 196.9 L569.81 198.37 L572.07 199.75 L574.25 201.07 L576.43 202.39 L578.69 203.71 L581.1 205.1 L583.61 206.56 L586.14 208.06 L588.75 209.59 L591.48 211.1 L594.38 212.58 L597.5 214 L600.93 215.36 L604.64 216.69 L608.52 217.98 L612.46 219.23 L616.32 220.44 L620 221.6 L623.45 222.7 L626.78 223.74 L630.03 224.74 L633.28 225.7 L636.58 226.65 L640 227.6 L643.48 228.56 L646.96 229.53 L650.5 230.49 L654.15 231.4 L657.96 232.25 L662 233 L666.38 233.67 L671.07 234.27 L675.94 234.81 L680.81 235.27 L685.55 235.67 L690 236 L694.39 236.23 L698.89 236.37 L703.25 236.44 L707.22 236.46 L710.56 236.47 L713 236.5" stroke="#d42027" stroke-width="1.6" fill="none" stroke-linejoin="round"/>
<path d="M688.2 81.0 C685.2 79.7 676.4 76.0 670.0 73.3 C663.6 70.6 656.7 67.5 650.0 64.8 C643.3 62.1 636.7 59.4 630.0 57.2 C623.3 55.0 616.7 52.7 610.0 51.4 C603.3 50.1 595.3 49.4 590.0 49.2 C584.7 49.0 581.7 49.3 578.0 50.2 C574.3 51.1 570.8 52.7 568.0 54.5 C565.2 56.3 562.9 58.4 561.0 61.0 C559.1 63.6 557.4 66.8 556.5 70.0 C555.6 73.2 555.0 76.7 555.5 80.0 C556.0 83.3 556.8 86.9 559.5 90.0 C562.2 93.1 566.4 95.7 571.5 98.5 C576.6 101.3 584.5 104.9 590.0 107.0 C595.5 109.1 599.6 109.5 604.3 111.0 C609.0 112.5 615.7 115.2 618.0 116.0" stroke="#d4ccb4" stroke-width="7" fill="none" stroke-linecap="round" opacity="0.6"/><path d="M695.7 75.7 C693.1 74.5 686.0 71.1 680.0 68.3 C674.0 65.5 666.7 61.7 660.0 58.8 C653.3 55.9 646.7 53.0 640.0 50.8 C633.3 48.6 626.7 46.8 620.0 45.4 C613.3 44.0 606.2 43.1 600.0 42.6 C593.8 42.1 588.0 41.8 583.0 42.2 C578.0 42.6 573.8 43.4 570.0 45.0 C566.2 46.6 562.7 49.5 560.0 52.0 C557.3 54.5 555.4 57.2 554.0 60.0 C552.6 62.8 551.8 65.8 551.5 69.0 C551.2 72.2 551.4 75.7 552.5 79.0 C553.6 82.3 555.0 85.8 558.0 89.0 C561.0 92.2 565.2 95.0 570.5 98.0 C575.8 101.0 584.4 104.8 590.0 107.0 C595.6 109.2 599.6 109.5 604.3 111.0 C609.0 112.5 615.7 115.2 618.0 116.0" stroke="#d4ccb4" stroke-width="7" fill="none" stroke-linecap="round" opacity="0.6"/><path d="M701.0 71.2 C697.5 69.5 686.8 64.3 680.0 61.0 C673.2 57.7 666.7 54.4 660.0 51.5 C653.3 48.6 646.7 46.0 640.0 43.8 C633.3 41.6 626.7 39.9 620.0 38.5 C613.3 37.1 606.5 36.1 600.0 35.6 C593.5 35.1 586.7 34.8 581.0 35.2 C575.3 35.6 570.3 36.4 566.0 38.0 C561.7 39.6 558.0 42.0 555.0 45.0 C552.0 48.0 549.4 52.5 548.0 56.0 C546.6 59.5 546.2 62.5 546.5 66.0 C546.8 69.5 547.8 73.3 549.5 77.0 C551.2 80.7 553.2 84.5 556.5 88.0 C559.8 91.5 563.9 94.8 569.5 98.0 C575.1 101.2 584.2 104.8 590.0 107.0 C595.8 109.2 599.6 109.5 604.3 111.0 C609.0 112.5 615.7 115.2 618.0 116.0" stroke="#d4ccb4" stroke-width="7" fill="none" stroke-linecap="round" opacity="0.6"/>
<path stroke="#dcbc7c" stroke-width="2.5" stroke-linecap="round" d="M700.3 72.6h0M699.8 70.4h0M681.4 61.7h0M680.9 59.4h0"/><path stroke="#c890b4" stroke-width="2.5" stroke-linecap="round" d="M701.2 70.8h0M699.2 68.3h0M695.9 68.4h0M691.0 68.5h0M689.8 67.8h0M686.1 62.0h0M684.9 61.1h0M683.5 60.7h0M679.4 62.6h0"/><path stroke="#9c9cd4" stroke-width="2.5" stroke-linecap="round" d="M701.6 69.9h0M700.2 69.4h0M697.2 69.1h0M695.3 66.4h0M692.4 68.9h0M687.4 62.6h0M679.6 58.9h0"/><path stroke="#d4a08e" stroke-width="2.5" stroke-linecap="round" d="M698.9 72.1h0M698.3 70.2h0M693.8 69.5h0M687.9 64.9h0M686.6 64.2h0M682.8 62.1h0M680.2 61.0h0M678.3 58.2h0M676.3 59.0h0"/><path stroke="#a89ad0" stroke-width="2.5" stroke-linecap="round" d="M697.8 71.2h0M695.1 70.0h0M693.2 67.4h0M691.7 67.1h0M686.0 65.5h0M685.3 63.8h0M677.7 59.5h0"/><path stroke="#b4d088" stroke-width="2.5" stroke-linecap="round" d="M696.4 70.8h0M689.2 65.6h0M690.0 64.0h0M688.7 63.3h0M677.9 62.4h0"/><path stroke="#a0c8a4" stroke-width="2.5" stroke-linecap="round" d="M697.7 68.0h0M694.5 68.0h0M693.9 66.0h0M690.5 66.3h0M688.5 67.0h0M684.5 65.4h0M683.8 63.4h0M680.7 63.2h0M682.0 60.4h0M675.6 60.5h0M676.8 57.9h0"/><path stroke="#d0c890" stroke-width="2.5" stroke-linecap="round" d="M696.5 67.2h0M691.4 64.4h0M687.3 66.3h0"/><path stroke="#c8c66c" stroke-width="2.5" stroke-linecap="round" d="M692.6 65.2h0M683.3 64.5h0M681.7 64.5h0M678.7 60.6h0M676.7 61.4h0"/><path stroke="#b4d088" stroke-width="2.5" stroke-linecap="round" d="M674.2 59.9h0M673.7 57.8h0M671.7 55.2h0M669.0 57.5h0M668.9 54.2h0M660.5 51.6h0"/><path stroke="#9c9cd4" stroke-width="2.5" stroke-linecap="round" d="M674.9 58.6h0M670.3 58.0h0M670.3 54.7h0M667.7 53.4h0M656.5 50.1h0M652.4 48.6h0M649.8 47.3h0"/><path stroke="#a89ad0" stroke-width="2.5" stroke-linecap="round" d="M675.6 57.2h0M674.3 56.6h0M673.0 55.8h0M668.4 55.4h0M666.5 52.6h0M664.4 53.6h0M663.9 51.3h0M661.0 54.2h0M658.4 53.0h0M657.2 52.2h0M655.3 49.1h0M650.3 49.8h0M651.8 46.0h0"/><path stroke="#d0c890" stroke-width="2.5" stroke-linecap="round" d="M672.8 59.5h0M671.6 58.6h0M667.0 54.9h0M662.4 54.5h0M654.4 47.6h0M650.4 45.6h0"/><path stroke="#c8c66c" stroke-width="2.5" stroke-linecap="round" d="M672.3 57.3h0M671.1 56.4h0M669.7 56.0h0M660.0 52.8h0M661.1 50.4h0M655.7 48.1h0M653.1 46.8h0M651.1 47.9h0"/><path stroke="#d4a08e" stroke-width="2.5" stroke-linecap="round" d="M667.6 57.1h0M665.0 55.8h0M665.9 53.9h0M661.6 52.7h0M657.7 50.8h0M657.2 48.3h0"/><path stroke="#c890b4" stroke-width="2.5" stroke-linecap="round" d="M666.4 56.2h0M659.9 49.5h0M656.0 51.3h0M653.2 50.3h0M651.9 49.9h0M649.1 49.0h0"/><path stroke="#a0c8a4" stroke-width="2.5" stroke-linecap="round" d="M663.6 55.5h0M665.2 52.0h0M663.2 52.8h0M662.5 50.7h0M654.5 50.9h0M653.8 48.8h0"/><path stroke="#dcbc7c" stroke-width="2.5" stroke-linecap="round" d="M659.1 51.2h0M658.5 49.0h0"/><path stroke="#d0c890" stroke-width="2.5" stroke-linecap="round" d="M647.9 48.0h0M645.6 46.0h0M622.1 38.6h0"/><path stroke="#c8c66c" stroke-width="2.5" stroke-linecap="round" d="M648.4 46.7h0M641.1 45.7h0M638.9 43.3h0M637.5 43.0h0M636.5 41.0h0M632.9 43.0h0M633.3 41.8h0M627.7 40.1h0M624.4 41.7h0"/><path stroke="#a0c8a4" stroke-width="2.5" stroke-linecap="round" d="M649.0 45.3h0M631.4 43.1h0M630.0 42.7h0M630.4 41.3h0M629.3 39.6h0M626.4 39.4h0M623.7 37.9h0M621.7 40.6h0"/><path stroke="#d4a08e" stroke-width="2.5" stroke-linecap="round" d="M646.5 47.8h0M647.0 46.3h0M646.2 44.5h0M641.6 44.2h0M642.1 42.8h0M635.7 43.8h0M634.2 43.7h0"/><path stroke="#9c9cd4" stroke-width="2.5" stroke-linecap="round" d="M647.5 45.0h0M639.7 45.4h0M638.4 44.9h0M634.8 41.7h0M630.9 39.5h0M623.1 41.0h0"/><path stroke="#a89ad0" stroke-width="2.5" stroke-linecap="round" d="M645.3 46.9h0M643.7 47.0h0M643.6 43.1h0M640.7 42.4h0M638.0 41.2h0M633.7 40.2h0M626.7 38.2h0"/><path stroke="#dcbc7c" stroke-width="2.5" stroke-linecap="round" d="M644.4 45.1h0M645.0 43.3h0M640.2 44.0h0M636.1 42.5h0M623.4 39.5h0M622.3 37.6h0"/><path stroke="#b4d088" stroke-width="2.5" stroke-linecap="round" d="M642.5 46.3h0M639.5 41.4h0M637.1 44.0h0M635.2 40.4h0M632.3 39.8h0M628.7 42.1h0M629.2 40.2h0M627.3 41.6h0"/><path stroke="#c890b4" stroke-width="2.5" stroke-linecap="round" d="M642.9 45.0h0M631.9 41.4h0M628.2 38.2h0M625.9 41.3h0M624.8 39.9h0M625.1 38.4h0"/><path stroke="#dcbc7c" stroke-width="2.5" stroke-linecap="round" d="M620.3 40.1h0M616.7 36.1h0M612.1 37.0h0M604.7 37.6h0M603.6 34.7h0M596.1 36.7h0M596.2 35.2h0"/><path stroke="#d0c890" stroke-width="2.5" stroke-linecap="round" d="M620.6 38.5h0M621.0 36.8h0M596.3 33.9h0"/><path stroke="#9c9cd4" stroke-width="2.5" stroke-linecap="round" d="M618.9 40.0h0M617.4 39.9h0M613.8 35.3h0M610.4 38.2h0M610.6 37.0h0M606.3 36.1h0M605.0 34.7h0M594.7 37.0h0"/><path stroke="#a89ad0" stroke-width="2.5" stroke-linecap="round" d="M619.2 38.1h0M614.6 39.1h0M611.8 38.6h0M607.8 36.3h0M603.4 35.9h0M600.5 35.8h0M599.1 35.4h0"/><path stroke="#c8c66c" stroke-width="2.5" stroke-linecap="round" d="M619.5 36.6h0M617.8 37.9h0M603.3 37.3h0M602.2 34.1h0M600.4 37.2h0M593.2 36.8h0"/><path stroke="#c890b4" stroke-width="2.5" stroke-linecap="round" d="M618.1 36.1h0M616.3 38.2h0M615.2 35.9h0M607.5 38.5h0M601.8 37.5h0M599.2 34.2h0M594.8 35.2h0M594.9 33.7h0"/><path stroke="#a0c8a4" stroke-width="2.5" stroke-linecap="round" d="M616.1 39.0h0M606.5 34.9h0M601.9 36.2h0M599.0 36.8h0M597.7 34.3h0M593.3 35.2h0"/><path stroke="#d4a08e" stroke-width="2.5" stroke-linecap="round" d="M614.9 37.6h0M613.5 37.3h0M612.3 35.5h0M609.2 36.7h0M607.9 35.1h0M606.1 37.7h0M604.9 35.9h0M597.5 37.2h0"/><path stroke="#b4d088" stroke-width="2.5" stroke-linecap="round" d="M613.3 38.7h0M610.9 34.9h0M608.9 38.5h0M609.4 35.3h0M600.7 33.9h0M597.7 35.5h0M593.4 33.4h0"/><path stroke="#dcbc7c" stroke-width="2.5" stroke-linecap="round" d="M591.8 37.3h0M586.1 35.0h0M584.6 35.2h0M581.8 36.5h0M580.4 37.0h0M575.8 34.6h0M574.2 34.2h0"/><path stroke="#d0c890" stroke-width="2.5" stroke-linecap="round" d="M591.9 35.4h0M591.9 33.8h0M589.0 33.2h0M578.8 35.2h0M578.7 34.0h0M569.9 35.3h0"/><path stroke="#a89ad0" stroke-width="2.5" stroke-linecap="round" d="M590.4 36.4h0M584.6 33.2h0M579.0 37.2h0M571.7 36.4h0M571.4 34.9h0M570.1 36.3h0"/><path stroke="#9c9cd4" stroke-width="2.5" stroke-linecap="round" d="M590.4 35.5h0M590.5 33.4h0M587.5 35.3h0M586.0 33.4h0M583.1 33.6h0M574.4 35.5h0M572.0 38.0h0M566.9 35.8h0M566.7 39.6h0M564.8 38.7h0"/><path stroke="#c890b4" stroke-width="2.5" stroke-linecap="round" d="M588.9 37.0h0M586.1 36.7h0M581.7 35.4h0M577.6 37.5h0M567.4 37.4h0"/><path stroke="#c8c66c" stroke-width="2.5" stroke-linecap="round" d="M589.0 35.1h0M587.5 33.2h0M576.1 37.1h0M569.2 38.4h0M564.0 36.6h0"/><path stroke="#d4a08e" stroke-width="2.5" stroke-linecap="round" d="M587.5 36.5h0M584.7 37.2h0M583.2 35.0h0M580.1 33.4h0M576.0 35.9h0M574.8 37.6h0"/><path stroke="#b4d088" stroke-width="2.5" stroke-linecap="round" d="M583.2 36.8h0M580.3 35.8h0M573.1 36.3h0M568.7 36.4h0M568.5 35.7h0M565.6 36.5h0"/><path stroke="#a0c8a4" stroke-width="2.5" stroke-linecap="round" d="M581.6 33.4h0M577.4 35.3h0M577.2 34.0h0M573.3 37.3h0M572.9 34.8h0"/><path stroke="#6a7a40" stroke-width="2.5" stroke-linecap="round" d="M570.6 38.4h0"/><path stroke="#c04444" stroke-width="2.5" stroke-linecap="round" d="M567.9 38.9h0"/><path stroke="#c89070" stroke-width="2.5" stroke-linecap="round" d="M566.2 38.2h0"/><path stroke="#5c9c48" stroke-width="2.5" stroke-linecap="round" d="M565.4 40.2h0"/><path stroke="#9c9cd4" stroke-width="2.5" stroke-linecap="round" d="M564.0 40.3h0M551.9 47.9h0"/><path stroke="#d0c890" stroke-width="2.5" stroke-linecap="round" d="M563.5 39.3h0M556.0 43.7h0M554.2 46.0h0M547.0 53.7h0"/><path stroke="#d4a08e" stroke-width="2.5" stroke-linecap="round" d="M562.5 37.2h0M557.4 40.6h0M553.3 47.1h0"/><path stroke="#c04444" stroke-width="2.5" stroke-linecap="round" d="M562.8 41.0h0M561.3 38.2h0M547.5 57.1h0M548.4 60.3h0"/><path stroke="#b4a450" stroke-width="2.5" stroke-linecap="round" d="M562.2 39.9h0M555.4 45.1h0M550.4 48.7h0M544.8 59.5h0"/><path stroke="#7aa058" stroke-width="2.5" stroke-linecap="round" d="M561.5 41.6h0M560.9 40.6h0M556.2 41.6h0M551.7 51.2h0M551.5 52.7h0M546.3 56.7h0"/><path stroke="#c890b4" stroke-width="2.5" stroke-linecap="round" d="M560.3 39.6h0M550.8 47.1h0M548.6 51.1h0"/><path stroke="#b4d088" stroke-width="2.5" stroke-linecap="round" d="M560.6 42.7h0"/><path stroke="#a89440" stroke-width="2.5" stroke-linecap="round" d="M559.6 41.2h0M553.8 43.5h0M555.2 46.9h0M548.8 54.5h0"/><path stroke="#c89070" stroke-width="2.5" stroke-linecap="round" d="M558.6 39.8h0M558.2 41.8h0M546.9 60.0h0"/><path stroke="#7a4a7a" stroke-width="2.5" stroke-linecap="round" d="M559.2 43.2h0M549.3 57.7h0M545.4 58.0h0"/><path stroke="#b86c48" stroke-width="2.5" stroke-linecap="round" d="M558.4 44.4h0M551.8 46.0h0M549.1 49.7h0M550.0 55.1h0"/><path stroke="#5a52b0" stroke-width="2.5" stroke-linecap="round" d="M557.2 42.8h0M557.2 45.0h0M548.3 55.9h0"/><path stroke="#8a6aa8" stroke-width="2.5" stroke-linecap="round" d="M555.2 42.8h0M550.7 50.6h0M547.7 52.4h0"/><path stroke="#6a7a40" stroke-width="2.5" stroke-linecap="round" d="M556.0 45.8h0M553.5 49.0h0"/><path stroke="#a0c8a4" stroke-width="2.5" stroke-linecap="round" d="M552.8 44.7h0M551.0 54.0h0"/><path stroke="#c8c66c" stroke-width="2.5" stroke-linecap="round" d="M554.6 48.1h0M552.5 50.0h0M550.0 51.9h0M549.6 56.4h0"/><path stroke="#985090" stroke-width="2.5" stroke-linecap="round" d="M551.5 49.4h0M549.3 53.2h0M547.0 58.5h0"/><path stroke="#dcbc7c" stroke-width="2.5" stroke-linecap="round" d="M546.6 55.1h0"/><path stroke="#5c9c48" stroke-width="2.5" stroke-linecap="round" d="M548.4 58.9h0"/><path stroke="#c890b4" stroke-width="2.5" stroke-linecap="round" d="M548.0 61.5h0M546.1 62.8h0"/><path stroke="#d4a08e" stroke-width="2.5" stroke-linecap="round" d="M546.9 61.4h0M556.6 85.8h0"/><path stroke="#5a52b0" stroke-width="2.5" stroke-linecap="round" d="M545.4 61.2h0M548.2 66.9h0M547.1 67.1h0M545.3 70.4h0M547.6 71.4h0M548.3 74.2h0M551.0 79.3h0M549.8 81.6h0M552.9 86.8h0"/><path stroke="#6a7a40" stroke-width="2.5" stroke-linecap="round" d="M548.2 62.9h0M545.1 68.9h0M549.1 71.0h0M552.6 80.1h0M551.4 80.8h0M554.8 85.4h0"/><path stroke="#a89ad0" stroke-width="2.5" stroke-linecap="round" d="M545.1 62.7h0M555.7 86.5h0"/><path stroke="#b4a450" stroke-width="2.5" stroke-linecap="round" d="M547.8 64.2h0M546.8 68.6h0M547.9 72.8h0M546.6 74.8h0M553.0 83.1h0M551.4 84.1h0"/><path stroke="#b86c48" stroke-width="2.5" stroke-linecap="round" d="M546.4 64.3h0M550.0 75.1h0M552.2 81.9h0"/><path stroke="#9c9cd4" stroke-width="2.5" stroke-linecap="round" d="M544.5 64.3h0M551.0 76.2h0"/><path stroke="#a89440" stroke-width="2.5" stroke-linecap="round" d="M547.8 65.6h0M549.4 72.3h0M549.9 76.7h0M548.4 79.0h0M551.8 78.9h0"/><path stroke="#a0c8a4" stroke-width="2.5" stroke-linecap="round" d="M546.1 65.7h0"/><path stroke="#c04444" stroke-width="2.5" stroke-linecap="round" d="M544.4 65.8h0M548.6 68.3h0M553.7 84.4h0M555.3 85.0h0"/><path stroke="#c89070" stroke-width="2.5" stroke-linecap="round" d="M545.0 67.4h0M547.2 76.2h0M553.4 81.3h0M554.3 82.3h0M554.1 87.9h0"/><path stroke="#7aa058" stroke-width="2.5" stroke-linecap="round" d="M548.5 69.7h0M551.5 77.5h0"/><path stroke="#5c9c48" stroke-width="2.5" stroke-linecap="round" d="M547.2 70.0h0"/><path stroke="#8a6aa8" stroke-width="2.5" stroke-linecap="round" d="M545.8 71.8h0M546.0 73.4h0M550.1 73.5h0M548.9 75.5h0"/><path stroke="#7a4a7a" stroke-width="2.5" stroke-linecap="round" d="M548.3 77.3h0M550.2 78.1h0M555.0 83.5h0"/><path stroke="#985090" stroke-width="2.5" stroke-linecap="round" d="M549.0 80.3h0"/><path stroke="#b4d088" stroke-width="2.5" stroke-linecap="round" d="M550.8 82.7h0"/><path stroke="#d0c890" stroke-width="2.5" stroke-linecap="round" d="M551.9 85.7h0"/><path stroke="#a0c8a4" stroke-width="2.5" stroke-linecap="round" d="M557.6 86.7h0"/><path stroke="#5a52b0" stroke-width="2.5" stroke-linecap="round" d="M556.6 87.6h0M560.8 93.9h0M577.4 100.0h0"/><path stroke="#a89ad0" stroke-width="2.5" stroke-linecap="round" d="M555.0 89.1h0M561.8 92.7h0"/><path stroke="#b4a450" stroke-width="2.5" stroke-linecap="round" d="M558.6 87.7h0M564.1 94.3h0"/><path stroke="#c89070" stroke-width="2.5" stroke-linecap="round" d="M557.5 88.8h0M557.3 91.1h0M560.5 92.0h0M562.9 91.3h0M564.3 96.6h0M572.8 99.5h0M573.2 102.1h0M575.4 100.7h0"/><path stroke="#7aa058" stroke-width="2.5" stroke-linecap="round" d="M556.4 89.9h0M561.8 90.4h0M561.9 94.9h0M563.2 95.6h0"/><path stroke="#6a7a40" stroke-width="2.5" stroke-linecap="round" d="M559.7 88.5h0M558.4 89.9h0M567.5 97.1h0M566.7 98.4h0M571.1 96.6h0M572.0 101.1h0M578.6 104.3h0"/><path stroke="#9c9cd4" stroke-width="2.5" stroke-linecap="round" d="M560.8 89.5h0M563.7 92.5h0M565.1 92.9h0M569.5 96.6h0M569.0 97.4h0M570.0 98.5h0"/><path stroke="#c8c66c" stroke-width="2.5" stroke-linecap="round" d="M559.4 90.9h0"/><path stroke="#a89440" stroke-width="2.5" stroke-linecap="round" d="M558.3 92.1h0M566.2 93.9h0M565.7 97.3h0M571.4 99.0h0M574.6 102.5h0"/><path stroke="#985090" stroke-width="2.5" stroke-linecap="round" d="M559.7 92.8h0M568.5 95.5h0"/><path stroke="#c04444" stroke-width="2.5" stroke-linecap="round" d="M562.8 93.7h0M576.1 99.2h0M580.0 101.2h0M579.6 102.1h0"/><path stroke="#5c9c48" stroke-width="2.5" stroke-linecap="round" d="M565.1 95.5h0M572.3 97.4h0M574.6 99.2h0M576.7 101.5h0M578.0 102.0h0"/><path stroke="#b86c48" stroke-width="2.5" stroke-linecap="round" d="M567.1 95.0h0M576.0 102.9h0M578.7 100.5h0"/><path stroke="#8a6aa8" stroke-width="2.5" stroke-linecap="round" d="M566.2 96.4h0M570.6 100.7h0M573.5 98.1h0"/><path stroke="#7a4a7a" stroke-width="2.5" stroke-linecap="round" d="M568.1 99.0h0"/><path stroke="#b4d088" stroke-width="2.5" stroke-linecap="round" d="M569.4 99.7h0"/><path stroke="#d0c890" stroke-width="2.5" stroke-linecap="round" d="M573.8 100.7h0M577.2 103.9h0"/><path stroke="#c04444" stroke-width="2.5" stroke-linecap="round" d="M581.2 101.9h0M597.1 108.8h0"/><path stroke="#5c9c48" stroke-width="2.5" stroke-linecap="round" d="M580.7 103.1h0M586.6 104.0h0M603.5 112.6h0M607.3 110.2h0M606.3 113.4h0"/><path stroke="#a0c8a4" stroke-width="2.5" stroke-linecap="round" d="M580.0 104.9h0M599.8 109.9h0M603.0 109.1h0M602.2 112.1h0"/><path stroke="#c890b4" stroke-width="2.5" stroke-linecap="round" d="M582.6 102.4h0M594.2 108.4h0M595.7 108.4h0"/><path stroke="#d0c890" stroke-width="2.5" stroke-linecap="round" d="M581.8 104.2h0M587.3 106.2h0M596.6 110.8h0"/><path stroke="#7aa058" stroke-width="2.5" stroke-linecap="round" d="M581.2 105.7h0"/><path stroke="#c8c66c" stroke-width="2.5" stroke-linecap="round" d="M583.9 102.9h0"/><path stroke="#8a6aa8" stroke-width="2.5" stroke-linecap="round" d="M583.3 104.5h0M590.9 108.9h0M600.8 111.7h0M605.8 110.0h0"/><path stroke="#7a4a7a" stroke-width="2.5" stroke-linecap="round" d="M582.7 106.0h0M584.6 105.0h0M584.0 106.7h0M586.6 108.0h0M589.3 104.9h0M589.6 108.3h0M593.5 105.9h0M594.6 106.9h0M604.0 111.0h0"/><path stroke="#c89070" stroke-width="2.5" stroke-linecap="round" d="M585.1 103.7h0M592.8 108.0h0M598.8 107.7h0M598.4 109.6h0M601.7 108.4h0M602.6 110.6h0M605.4 111.4h0M606.8 111.6h0"/><path stroke="#a89440" stroke-width="2.5" stroke-linecap="round" d="M586.1 105.2h0M599.5 111.3h0"/><path stroke="#a89ad0" stroke-width="2.5" stroke-linecap="round" d="M585.4 107.1h0"/><path stroke="#b86c48" stroke-width="2.5" stroke-linecap="round" d="M588.0 104.2h0M588.7 106.5h0M590.6 105.6h0M590.1 106.9h0M600.2 108.1h0M604.9 113.0h0"/><path stroke="#b4a450" stroke-width="2.5" stroke-linecap="round" d="M588.1 108.1h0M593.7 110.1h0"/><path stroke="#985090" stroke-width="2.5" stroke-linecap="round" d="M591.9 106.1h0M591.6 106.9h0M595.2 110.4h0M597.4 107.4h0M598.1 110.9h0M604.6 109.1h0"/><path stroke="#b4d088" stroke-width="2.5" stroke-linecap="round" d="M592.4 109.4h0"/><path stroke="#dcbc7c" stroke-width="2.5" stroke-linecap="round" d="M596.0 107.4h0"/><path stroke="#9c9cd4" stroke-width="2.5" stroke-linecap="round" d="M601.2 110.1h0"/><path stroke="#8a6aa8" stroke-width="2.5" stroke-linecap="round" d="M608.8 110.4h0M609.4 113.0h0M611.5 115.8h0M614.1 113.1h0M614.5 115.9h0M618.2 114.4h0"/><path stroke="#c04444" stroke-width="2.5" stroke-linecap="round" d="M608.0 112.9h0"/><path stroke="#a0c8a4" stroke-width="2.5" stroke-linecap="round" d="M607.6 114.0h0M610.9 113.2h0M694.2 75.5h0M692.4 75.8h0M691.7 73.9h0M692.6 72.1h0M689.8 74.6h0M689.8 71.1h0M688.4 70.7h0M685.7 73.0h0M686.5 71.4h0M684.4 69.0h0M681.3 68.8h0"/><path stroke="#5c9c48" stroke-width="2.5" stroke-linecap="round" d="M610.2 111.0h0"/><path stroke="#7aa058" stroke-width="2.5" stroke-linecap="round" d="M608.9 114.4h0M613.6 114.4h0"/><path stroke="#d4a08e" stroke-width="2.5" stroke-linecap="round" d="M611.4 111.8h0M690.4 73.4h0M687.1 73.6h0M684.7 71.9h0"/><path stroke="#c890b4" stroke-width="2.5" stroke-linecap="round" d="M610.3 114.7h0M695.1 73.5h0M691.0 75.4h0M689.3 72.4h0M688.0 71.7h0M687.3 69.7h0M683.3 68.0h0"/><path stroke="#5a52b0" stroke-width="2.5" stroke-linecap="round" d="M612.9 112.1h0"/><path stroke="#a89440" stroke-width="2.5" stroke-linecap="round" d="M612.2 114.0h0M616.2 115.6h0"/><path stroke="#b86c48" stroke-width="2.5" stroke-linecap="round" d="M613.1 115.7h0"/><path stroke="#985090" stroke-width="2.5" stroke-linecap="round" d="M615.6 113.2h0"/><path stroke="#7a4a7a" stroke-width="2.5" stroke-linecap="round" d="M614.8 115.1h0"/><path stroke="#c89070" stroke-width="2.5" stroke-linecap="round" d="M616.7 114.2h0M617.6 115.9h0M617.0 117.5h0"/><path stroke="#b4a450" stroke-width="2.5" stroke-linecap="round" d="M615.8 116.8h0"/><path stroke="#9c9cd4" stroke-width="2.5" stroke-linecap="round" d="M695.1 76.9h0M691.3 71.5h0M681.9 70.9h0M680.7 70.1h0"/><path stroke="#dcbc7c" stroke-width="2.5" stroke-linecap="round" d="M695.6 76.0h0"/><path stroke="#c8c66c" stroke-width="2.5" stroke-linecap="round" d="M696.4 74.2h0M693.0 74.7h0M685.8 69.5h0M683.9 70.1h0"/><path stroke="#b4d088" stroke-width="2.5" stroke-linecap="round" d="M693.6 76.8h0M693.8 72.9h0M682.5 69.7h0M681.9 67.5h0"/><path stroke="#a89ad0" stroke-width="2.5" stroke-linecap="round" d="M688.5 74.0h0M683.3 71.4h0"/><path stroke="#d0c890" stroke-width="2.5" stroke-linecap="round" d="M685.2 70.8h0"/><path stroke="#a0c8a4" stroke-width="2.5" stroke-linecap="round" d="M679.1 70.1h0M679.4 66.2h0M677.4 66.9h0M675.2 64.9h0M673.4 65.2h0M668.1 62.8h0M665.1 62.5h0M658.5 55.8h0"/><path stroke="#b4d088" stroke-width="2.5" stroke-linecap="round" d="M680.0 68.3h0M678.5 67.9h0M676.7 68.4h0M674.0 67.2h0M666.3 59.9h0M659.0 58.4h0"/><path stroke="#9c9cd4" stroke-width="2.5" stroke-linecap="round" d="M680.8 66.6h0M671.6 62.2h0M669.6 63.1h0M667.5 64.1h0M665.6 61.3h0M661.4 60.0h0M660.3 59.0h0M657.8 57.5h0M655.7 58.7h0M657.0 55.7h0"/><path stroke="#d0c890" stroke-width="2.5" stroke-linecap="round" d="M677.9 69.1h0M678.2 65.3h0M676.1 66.3h0M672.1 64.5h0M662.3 58.0h0M658.4 59.8h0"/><path stroke="#c890b4" stroke-width="2.5" stroke-linecap="round" d="M675.3 68.0h0M670.1 65.4h0M670.8 63.9h0M654.9 56.9h0"/><path stroke="#c8c66c" stroke-width="2.5" stroke-linecap="round" d="M676.7 65.1h0M668.9 61.3h0M664.5 60.4h0M662.8 60.5h0"/><path stroke="#dcbc7c" stroke-width="2.5" stroke-linecap="round" d="M674.6 65.9h0M672.9 62.9h0M668.7 64.8h0M666.3 63.2h0M667.6 60.6h0M665.1 59.1h0M657.1 59.1h0M654.4 57.9h0"/><path stroke="#a89ad0" stroke-width="2.5" stroke-linecap="round" d="M672.7 66.6h0M671.4 65.9h0M670.3 61.6h0M666.9 62.0h0M662.4 61.3h0M659.6 57.1h0M655.7 55.0h0"/><path stroke="#d4a08e" stroke-width="2.5" stroke-linecap="round" d="M674.1 63.9h0M663.6 62.2h0M663.5 59.0h0M661.1 60.8h0M659.7 60.4h0M661.0 57.4h0M656.4 57.0h0"/><path stroke="#c890b4" stroke-width="2.5" stroke-linecap="round" d="M653.0 57.7h0M654.2 54.8h0M648.4 53.7h0M648.8 52.6h0M647.1 52.9h0M636.8 51.7h0M636.5 47.8h0M633.2 48.8h0M627.2 48.8h0"/><path stroke="#c8c66c" stroke-width="2.5" stroke-linecap="round" d="M653.7 56.0h0M651.8 56.7h0M653.0 53.8h0M650.4 52.4h0M644.8 50.8h0M640.9 53.1h0M639.5 52.7h0"/><path stroke="#d0c890" stroke-width="2.5" stroke-linecap="round" d="M652.4 55.3h0M642.3 53.3h0M630.8 46.5h0"/><path stroke="#b4d088" stroke-width="2.5" stroke-linecap="round" d="M650.4 56.3h0M647.4 52.2h0M645.6 52.8h0M641.5 51.4h0M642.0 50.0h0M640.7 49.3h0M637.9 48.2h0M634.1 50.6h0M632.3 46.5h0M629.6 45.5h0"/><path stroke="#a89ad0" stroke-width="2.5" stroke-linecap="round" d="M651.1 54.7h0M651.7 53.3h0M644.9 54.5h0M640.1 50.8h0M635.1 47.5h0M632.8 50.2h0M633.7 47.0h0M630.5 47.8h0M629.0 47.6h0"/><path stroke="#a0c8a4" stroke-width="2.5" stroke-linecap="round" d="M649.0 55.9h0M638.2 52.0h0M628.1 45.2h0"/><path stroke="#9c9cd4" stroke-width="2.5" stroke-linecap="round" d="M649.8 54.1h0M643.6 54.1h0M639.3 48.7h0M637.4 50.0h0M636.1 49.3h0M634.5 49.5h0M630.0 49.3h0"/><path stroke="#d4a08e" stroke-width="2.5" stroke-linecap="round" d="M647.6 55.7h0M646.4 54.8h0M646.1 51.5h0M644.3 52.2h0M642.9 51.7h0M638.9 50.1h0M635.4 51.4h0M631.5 49.4h0M628.8 48.4h0"/><path stroke="#dcbc7c" stroke-width="2.5" stroke-linecap="round" d="M643.4 50.3h0M631.9 48.0h0M627.6 47.1h0"/><path stroke="#a0c8a4" stroke-width="2.5" stroke-linecap="round" d="M625.7 48.8h0M624.8 46.7h0M623.4 46.3h0M613.2 45.8h0M609.1 43.9h0M607.9 41.5h0M606.5 41.1h0M604.8 43.2h0M600.4 43.8h0"/><path stroke="#d0c890" stroke-width="2.5" stroke-linecap="round" d="M626.2 46.9h0M622.4 43.7h0M617.4 46.9h0M603.2 44.5h0M601.8 44.5h0"/><path stroke="#c890b4" stroke-width="2.5" stroke-linecap="round" d="M626.5 45.6h0M623.7 44.8h0M616.0 46.5h0M614.8 44.8h0M608.9 45.2h0"/><path stroke="#d4a08e" stroke-width="2.5" stroke-linecap="round" d="M624.5 47.9h0M620.9 43.9h0M619.4 43.8h0M615.2 42.6h0M610.6 43.5h0M610.8 41.9h0M604.6 44.6h0"/><path stroke="#a89ad0" stroke-width="2.5" stroke-linecap="round" d="M625.2 44.8h0M623.1 47.3h0M606.0 45.0h0M605.0 41.3h0M603.5 41.2h0M599.2 40.4h0"/><path stroke="#dcbc7c" stroke-width="2.5" stroke-linecap="round" d="M621.7 47.0h0M617.7 45.1h0M618.1 43.1h0M616.6 43.3h0M613.7 42.6h0M611.7 45.7h0M601.9 42.7h0M602.1 41.0h0M600.6 40.9h0"/><path stroke="#9c9cd4" stroke-width="2.5" stroke-linecap="round" d="M622.0 45.8h0M620.6 45.4h0M619.2 45.0h0M613.4 44.5h0M612.3 42.3h0M606.2 43.6h0M603.4 42.7h0M599.1 42.2h0"/><path stroke="#c8c66c" stroke-width="2.5" stroke-linecap="round" d="M620.3 47.0h0M618.9 46.3h0M610.3 45.9h0M609.4 41.8h0M607.5 45.1h0M607.7 43.6h0M600.5 42.7h0M598.9 44.1h0"/><path stroke="#b4d088" stroke-width="2.5" stroke-linecap="round" d="M616.4 44.2h0M614.6 45.9h0M612.0 44.3h0"/><path stroke="#d4a08e" stroke-width="2.5" stroke-linecap="round" d="M597.5 44.3h0M577.6 44.3h0M573.5 45.3h0M571.0 46.5h0"/><path stroke="#d0c890" stroke-width="2.5" stroke-linecap="round" d="M597.6 41.9h0M596.0 44.1h0M596.2 42.2h0M587.4 41.8h0M586.0 42.2h0M578.8 42.6h0M577.3 42.5h0"/><path stroke="#c8c66c" stroke-width="2.5" stroke-linecap="round" d="M597.7 41.0h0M590.4 39.9h0M580.2 42.2h0"/><path stroke="#c890b4" stroke-width="2.5" stroke-linecap="round" d="M596.2 40.8h0M593.2 43.8h0M593.4 40.1h0M591.9 40.1h0M584.6 43.5h0M584.5 42.0h0M579.0 44.0h0M577.1 41.3h0M575.9 43.1h0"/><path stroke="#9c9cd4" stroke-width="2.5" stroke-linecap="round" d="M594.6 43.7h0M594.7 42.7h0M593.3 42.1h0M591.7 43.8h0M591.8 41.7h0M588.9 42.0h0M587.4 40.5h0M583.2 43.8h0M580.4 43.7h0"/><path stroke="#a89ad0" stroke-width="2.5" stroke-linecap="round" d="M594.8 40.5h0M590.3 44.1h0M590.4 41.7h0M584.5 40.2h0"/><path stroke="#dcbc7c" stroke-width="2.5" stroke-linecap="round" d="M588.9 43.6h0M571.3 43.0h0"/><path stroke="#a0c8a4" stroke-width="2.5" stroke-linecap="round" d="M588.9 40.5h0M587.5 44.2h0M586.1 43.6h0M583.0 40.2h0M578.5 40.5h0"/><path stroke="#c89070" stroke-width="2.5" stroke-linecap="round" d="M586.0 41.2h0M583.1 42.3h0M572.3 45.8h0M571.7 44.3h0M570.4 44.9h0"/><path stroke="#7a4a7a" stroke-width="2.5" stroke-linecap="round" d="M581.8 43.8h0M572.5 41.8h0"/><path stroke="#a89440" stroke-width="2.5" stroke-linecap="round" d="M581.7 42.5h0"/><path stroke="#6a7a40" stroke-width="2.5" stroke-linecap="round" d="M581.5 40.7h0"/><path stroke="#b4d088" stroke-width="2.5" stroke-linecap="round" d="M580.0 40.9h0M574.5 43.3h0"/><path stroke="#b4a450" stroke-width="2.5" stroke-linecap="round" d="M576.2 44.6h0M569.7 43.2h0"/><path stroke="#7aa058" stroke-width="2.5" stroke-linecap="round" d="M575.5 41.1h0"/><path stroke="#c04444" stroke-width="2.5" stroke-linecap="round" d="M575.0 45.3h0M573.1 44.0h0"/><path stroke="#5c9c48" stroke-width="2.5" stroke-linecap="round" d="M574.0 41.7h0"/><path stroke="#d0c890" stroke-width="2.5" stroke-linecap="round" d="M569.7 46.7h0M565.7 45.5h0M557.6 54.2h0M552.0 59.6h0"/><path stroke="#5c9c48" stroke-width="2.5" stroke-linecap="round" d="M569.2 45.8h0M565.1 49.7h0M561.0 51.5h0M559.3 49.7h0M553.8 57.0h0"/><path stroke="#9c9cd4" stroke-width="2.5" stroke-linecap="round" d="M568.3 43.7h0"/><path stroke="#a89ad0" stroke-width="2.5" stroke-linecap="round" d="M568.7 47.8h0"/><path stroke="#a0c8a4" stroke-width="2.5" stroke-linecap="round" d="M567.6 45.8h0M563.1 47.2h0"/><path stroke="#b4d088" stroke-width="2.5" stroke-linecap="round" d="M566.9 44.5h0M561.8 50.2h0"/><path stroke="#c890b4" stroke-width="2.5" stroke-linecap="round" d="M567.5 48.3h0M562.1 48.2h0"/><path stroke="#b86c48" stroke-width="2.5" stroke-linecap="round" d="M566.5 46.8h0M565.1 47.4h0M564.1 48.5h0M559.1 55.5h0M557.1 57.5h0M553.1 61.7h0M553.5 66.2h0"/><path stroke="#b4a450" stroke-width="2.5" stroke-linecap="round" d="M566.5 49.3h0M555.5 54.5h0"/><path stroke="#6a7a40" stroke-width="2.5" stroke-linecap="round" d="M564.5 46.5h0"/><path stroke="#d4a08e" stroke-width="2.5" stroke-linecap="round" d="M564.0 50.6h0M560.0 54.5h0"/><path stroke="#7aa058" stroke-width="2.5" stroke-linecap="round" d="M563.0 49.4h0M557.3 51.9h0M551.9 64.4h0"/><path stroke="#8a6aa8" stroke-width="2.5" stroke-linecap="round" d="M563.0 51.7h0M557.1 55.7h0M552.7 63.1h0M552.0 65.9h0"/><path stroke="#a89440" stroke-width="2.5" stroke-linecap="round" d="M560.7 48.9h0M561.0 53.6h0M554.6 59.2h0M553.5 60.3h0M551.0 62.5h0"/><path stroke="#c89070" stroke-width="2.5" stroke-linecap="round" d="M562.2 52.8h0M556.4 58.6h0M555.3 61.1h0M555.3 62.5h0M551.3 61.0h0"/><path stroke="#985090" stroke-width="2.5" stroke-linecap="round" d="M559.5 52.0h0M556.4 53.2h0M554.2 55.4h0"/><path stroke="#7a4a7a" stroke-width="2.5" stroke-linecap="round" d="M558.6 51.1h0M556.3 56.9h0M555.0 57.7h0M556.2 60.1h0M550.5 64.0h0"/><path stroke="#c04444" stroke-width="2.5" stroke-linecap="round" d="M558.8 53.3h0M550.1 65.5h0"/><path stroke="#5a52b0" stroke-width="2.5" stroke-linecap="round" d="M558.1 56.5h0M553.4 64.8h0"/><path stroke="#c8c66c" stroke-width="2.5" stroke-linecap="round" d="M553.0 58.3h0"/><path stroke="#dcbc7c" stroke-width="2.5" stroke-linecap="round" d="M554.8 63.8h0"/><path stroke="#c890b4" stroke-width="2.5" stroke-linecap="round" d="M553.1 67.5h0M551.5 68.8h0"/><path stroke="#b86c48" stroke-width="2.5" stroke-linecap="round" d="M551.9 67.4h0"/><path stroke="#a89440" stroke-width="2.5" stroke-linecap="round" d="M549.9 67.1h0M551.7 80.6h0M556.5 90.2h0"/><path stroke="#7a4a7a" stroke-width="2.5" stroke-linecap="round" d="M553.1 68.9h0M551.3 71.7h0M551.9 74.5h0M555.4 85.4h0M557.9 87.1h0"/><path stroke="#9c9cd4" stroke-width="2.5" stroke-linecap="round" d="M549.4 68.6h0"/><path stroke="#dcbc7c" stroke-width="2.5" stroke-linecap="round" d="M553.2 70.3h0M551.6 73.1h0"/><path stroke="#5a52b0" stroke-width="2.5" stroke-linecap="round" d="M551.4 70.2h0M549.7 73.2h0M553.2 80.1h0M552.1 82.1h0M554.3 84.4h0M556.8 84.5h0M558.3 88.6h0M558.1 90.9h0"/><path stroke="#5c9c48" stroke-width="2.5" stroke-linecap="round" d="M549.8 70.2h0M551.6 76.0h0M553.3 81.6h0M552.8 85.1h0"/><path stroke="#d4a08e" stroke-width="2.5" stroke-linecap="round" d="M553.1 71.7h0M554.4 79.6h0M554.1 82.8h0M555.5 89.0h0"/><path stroke="#6a7a40" stroke-width="2.5" stroke-linecap="round" d="M549.7 71.7h0M556.1 83.4h0"/><path stroke="#c89070" stroke-width="2.5" stroke-linecap="round" d="M553.2 73.0h0M553.9 77.0h0M554.2 78.3h0M551.0 79.2h0"/><path stroke="#7aa058" stroke-width="2.5" stroke-linecap="round" d="M553.3 74.4h0M550.1 74.7h0M559.0 92.1h0"/><path stroke="#8a6aa8" stroke-width="2.5" stroke-linecap="round" d="M553.5 75.7h0M560.9 89.9h0"/><path stroke="#c04444" stroke-width="2.5" stroke-linecap="round" d="M550.0 76.3h0M555.6 82.2h0"/><path stroke="#d0c890" stroke-width="2.5" stroke-linecap="round" d="M552.1 77.4h0M554.9 81.0h0"/><path stroke="#985090" stroke-width="2.5" stroke-linecap="round" d="M550.4 77.8h0M554.5 87.8h0M562.1 90.6h0M560.1 93.1h0"/><path stroke="#b4a450" stroke-width="2.5" stroke-linecap="round" d="M552.3 78.9h0M558.7 88.2h0M560.0 88.8h0"/><path stroke="#c8c66c" stroke-width="2.5" stroke-linecap="round" d="M552.4 83.6h0M554.1 86.2h0M557.5 85.7h0M557.3 87.6h0M560.0 90.9h0"/><path stroke="#a0c8a4" stroke-width="2.5" stroke-linecap="round" d="M556.1 86.6h0M558.6 90.3h0M561.3 91.7h0"/><path stroke="#985090" stroke-width="2.5" stroke-linecap="round" d="M563.4 91.2h0M562.3 92.8h0M571.5 100.0h0M573.4 99.5h0M579.3 104.0h0M583.3 105.8h0M584.6 106.6h0"/><path stroke="#b86c48" stroke-width="2.5" stroke-linecap="round" d="M561.2 94.3h0M581.9 101.8h0M585.8 103.6h0M587.3 103.9h0"/><path stroke="#6a7a40" stroke-width="2.5" stroke-linecap="round" d="M564.0 92.7h0M576.1 100.7h0M584.5 103.1h0"/><path stroke="#8a6aa8" stroke-width="2.5" stroke-linecap="round" d="M563.4 93.6h0M564.5 94.6h0M568.5 96.4h0M569.5 97.5h0M576.7 102.6h0"/><path stroke="#7a4a7a" stroke-width="2.5" stroke-linecap="round" d="M562.6 94.8h0M567.7 94.9h0M574.8 99.9h0"/><path stroke="#5c9c48" stroke-width="2.5" stroke-linecap="round" d="M565.5 93.1h0M573.0 97.2h0M574.1 101.4h0M577.3 101.4h0M579.2 100.9h0M586.6 105.6h0"/><path stroke="#c890b4" stroke-width="2.5" stroke-linecap="round" d="M563.5 96.0h0M570.2 99.4h0"/><path stroke="#5a52b0" stroke-width="2.5" stroke-linecap="round" d="M566.7 93.9h0M567.3 98.5h0M574.0 98.4h0"/><path stroke="#b4a450" stroke-width="2.5" stroke-linecap="round" d="M565.9 95.1h0M568.7 99.0h0M571.7 96.6h0M583.8 104.6h0"/><path stroke="#9c9cd4" stroke-width="2.5" stroke-linecap="round" d="M565.0 96.5h0M570.9 98.0h0M578.0 100.1h0M578.5 102.4h0M579.9 102.7h0M585.2 105.1h0"/><path stroke="#a89440" stroke-width="2.5" stroke-linecap="round" d="M567.0 96.1h0M572.5 101.3h0"/><path stroke="#dcbc7c" stroke-width="2.5" stroke-linecap="round" d="M566.1 97.5h0"/><path stroke="#d0c890" stroke-width="2.5" stroke-linecap="round" d="M568.8 95.9h0M582.0 105.2h0"/><path stroke="#c04444" stroke-width="2.5" stroke-linecap="round" d="M570.5 95.9h0M575.2 102.4h0M580.8 100.8h0"/><path stroke="#c89070" stroke-width="2.5" stroke-linecap="round" d="M572.1 99.0h0M576.7 99.4h0M585.8 107.5h0"/><path stroke="#d4a08e" stroke-width="2.5" stroke-linecap="round" d="M575.5 98.5h0"/><path stroke="#b4d088" stroke-width="2.5" stroke-linecap="round" d="M577.9 103.5h0M581.3 103.1h0"/><path stroke="#7aa058" stroke-width="2.5" stroke-linecap="round" d="M580.6 104.8h0"/><path stroke="#a0c8a4" stroke-width="2.5" stroke-linecap="round" d="M583.4 102.1h0"/><path stroke="#c8c66c" stroke-width="2.5" stroke-linecap="round" d="M582.6 103.7h0"/><path stroke="#985090" stroke-width="2.5" stroke-linecap="round" d="M588.6 104.6h0M599.3 108.2h0M608.6 112.7h0"/><path stroke="#a89ad0" stroke-width="2.5" stroke-linecap="round" d="M588.0 105.9h0M592.8 110.0h0"/><path stroke="#6a7a40" stroke-width="2.5" stroke-linecap="round" d="M587.3 107.6h0M589.8 105.3h0M595.7 110.6h0M600.7 108.5h0M610.8 115.1h0"/><path stroke="#7a4a7a" stroke-width="2.5" stroke-linecap="round" d="M589.3 106.7h0M592.1 107.3h0M593.8 106.7h0M594.2 110.5h0M600.0 111.4h0M614.7 113.0h0"/><path stroke="#c89070" stroke-width="2.5" stroke-linecap="round" d="M588.6 108.4h0M591.4 109.5h0M597.8 108.0h0M597.2 110.8h0M603.7 109.0h0M613.5 116.1h0"/><path stroke="#5c9c48" stroke-width="2.5" stroke-linecap="round" d="M591.2 105.7h0M601.6 110.8h0M608.1 114.1h0"/><path stroke="#b4a450" stroke-width="2.5" stroke-linecap="round" d="M590.7 107.0h0M592.5 106.2h0"/><path stroke="#b86c48" stroke-width="2.5" stroke-linecap="round" d="M590.0 108.9h0M599.1 109.0h0M600.4 109.8h0M602.8 111.9h0M606.4 110.3h0M607.3 112.1h0M606.8 113.4h0M612.7 114.1h0M614.1 114.5h0"/><path stroke="#8a6aa8" stroke-width="2.5" stroke-linecap="round" d="M593.4 108.0h0M596.6 106.9h0M609.2 111.1h0M610.7 111.3h0M609.4 114.7h0M611.4 113.4h0"/><path stroke="#c04444" stroke-width="2.5" stroke-linecap="round" d="M595.2 106.9h0M596.1 109.0h0M603.2 110.6h0"/><path stroke="#9c9cd4" stroke-width="2.5" stroke-linecap="round" d="M594.7 108.6h0M606.0 111.4h0M605.5 112.8h0"/><path stroke="#a89440" stroke-width="2.5" stroke-linecap="round" d="M597.7 108.5h0M598.5 111.4h0M612.1 111.6h0"/><path stroke="#d4a08e" stroke-width="2.5" stroke-linecap="round" d="M602.1 108.9h0"/><path stroke="#d0c890" stroke-width="2.5" stroke-linecap="round" d="M601.4 111.8h0"/><path stroke="#a0c8a4" stroke-width="2.5" stroke-linecap="round" d="M605.0 109.7h0"/><path stroke="#c890b4" stroke-width="2.5" stroke-linecap="round" d="M604.6 111.0h0"/><path stroke="#b4d088" stroke-width="2.5" stroke-linecap="round" d="M604.0 112.7h0M612.1 115.7h0"/><path stroke="#dcbc7c" stroke-width="2.5" stroke-linecap="round" d="M608.0 110.2h0"/><path stroke="#5a52b0" stroke-width="2.5" stroke-linecap="round" d="M610.1 112.9h0M613.4 112.4h0"/><path stroke="#7a4a7a" stroke-width="2.5" stroke-linecap="round" d="M616.2 113.2h0"/><path stroke="#c04444" stroke-width="2.5" stroke-linecap="round" d="M615.6 114.7h0M614.8 116.7h0"/><path stroke="#b86c48" stroke-width="2.5" stroke-linecap="round" d="M617.3 114.3h0"/><path stroke="#d4a08e" stroke-width="2.5" stroke-linecap="round" d="M616.8 115.6h0M686.7 80.8h0M680.3 77.4h0M677.0 77.8h0M674.9 75.2h0M670.2 75.2h0M668.9 74.4h0M666.2 73.4h0M667.3 70.8h0M666.1 70.1h0"/><path stroke="#7aa058" stroke-width="2.5" stroke-linecap="round" d="M616.2 117.2h0"/><path stroke="#c8c66c" stroke-width="2.5" stroke-linecap="round" d="M687.7 82.2h0M680.9 76.0h0M678.2 74.9h0M676.1 76.1h0M670.2 71.4h0M667.6 73.9h0M668.8 71.1h0M667.0 71.5h0M665.6 71.2h0"/><path stroke="#a89ad0" stroke-width="2.5" stroke-linecap="round" d="M688.4 80.5h0M686.3 81.8h0M685.5 80.0h0M683.6 80.7h0M682.3 80.0h0M681.4 78.5h0M672.1 74.3h0"/><path stroke="#d0c890" stroke-width="2.5" stroke-linecap="round" d="M688.9 79.4h0M684.1 79.4h0"/><path stroke="#a0c8a4" stroke-width="2.5" stroke-linecap="round" d="M687.5 78.9h0M678.0 79.1h0M670.8 73.8h0M668.2 72.5h0"/><path stroke="#9c9cd4" stroke-width="2.5" stroke-linecap="round" d="M684.9 81.4h0M683.5 77.3h0M681.0 79.5h0M679.5 75.6h0M675.5 77.5h0M676.7 74.6h0M674.1 73.4h0M672.7 72.9h0"/><path stroke="#dcbc7c" stroke-width="2.5" stroke-linecap="round" d="M686.2 78.3h0M679.4 79.4h0M679.0 76.8h0M677.4 76.8h0M674.1 77.1h0"/><path stroke="#b4d088" stroke-width="2.5" stroke-linecap="round" d="M685.1 77.2h0M682.8 79.0h0M682.3 76.3h0M673.4 75.0h0M671.5 75.9h0M669.6 72.8h0M664.9 72.8h0"/><path stroke="#c890b4" stroke-width="2.5" stroke-linecap="round" d="M675.4 74.1h0M673.0 76.0h0M671.5 72.2h0"/><path stroke="#b4d088" stroke-width="2.5" stroke-linecap="round" d="M663.7 71.8h0M664.8 69.3h0M663.6 68.4h0M656.1 67.6h0M654.3 68.1h0M654.7 67.1h0M655.6 65.0h0M647.6 65.5h0M648.2 63.9h0M645.4 63.1h0M641.5 61.2h0"/><path stroke="#9c9cd4" stroke-width="2.5" stroke-linecap="round" d="M664.3 70.4h0M662.2 68.1h0M658.0 70.4h0M656.7 69.7h0M656.7 66.1h0M645.1 63.8h0M640.1 60.8h0M638.1 61.9h0"/><path stroke="#d0c890" stroke-width="2.5" stroke-linecap="round" d="M662.3 71.5h0M658.9 68.5h0M650.2 62.8h0"/><path stroke="#c890b4" stroke-width="2.5" stroke-linecap="round" d="M662.9 70.1h0M654.2 64.5h0M644.7 60.9h0M640.8 63.0h0M639.5 62.3h0M638.6 60.5h0"/><path stroke="#a0c8a4" stroke-width="2.5" stroke-linecap="round" d="M660.8 71.3h0M652.9 63.9h0M650.9 64.9h0M648.9 62.1h0M646.8 63.5h0M643.5 64.0h0M642.9 61.6h0M643.3 60.5h0M641.9 60.1h0M639.4 58.5h0"/><path stroke="#dcbc7c" stroke-width="2.5" stroke-linecap="round" d="M661.5 69.6h0M659.4 67.2h0M652.9 67.7h0M653.5 66.2h0M651.5 67.4h0M651.4 63.7h0M646.0 61.6h0M640.6 59.3h0"/><path stroke="#d4a08e" stroke-width="2.5" stroke-linecap="round" d="M659.5 70.7h0M655.4 69.3h0M652.3 65.5h0"/><path stroke="#a89ad0" stroke-width="2.5" stroke-linecap="round" d="M660.0 69.6h0M661.0 67.3h0M657.7 67.6h0M649.1 65.6h0M649.5 64.5h0M647.3 62.2h0M644.0 62.7h0M642.2 63.4h0"/><path stroke="#c8c66c" stroke-width="2.5" stroke-linecap="round" d="M658.0 66.9h0M650.3 66.5h0M646.3 64.9h0"/><path stroke="#9c9cd4" stroke-width="2.5" stroke-linecap="round" d="M636.7 61.6h0M630.4 57.6h0M623.6 55.3h0M613.9 52.4h0M612.9 50.2h0M610.7 53.2h0"/><path stroke="#a89ad0" stroke-width="2.5" stroke-linecap="round" d="M637.4 59.7h0M634.1 60.2h0M623.2 56.6h0M624.1 53.5h0M618.1 53.3h0M614.9 54.1h0"/><path stroke="#dcbc7c" stroke-width="2.5" stroke-linecap="round" d="M637.9 58.3h0M636.0 59.4h0M635.1 57.5h0M632.2 56.9h0M629.0 57.4h0M624.9 55.9h0M622.2 54.7h0M622.8 53.0h0M611.1 51.6h0M611.5 49.6h0"/><path stroke="#c8c66c" stroke-width="2.5" stroke-linecap="round" d="M635.2 61.4h0M625.5 54.0h0M620.8 54.4h0M618.6 51.7h0M615.6 51.3h0"/><path stroke="#c890b4" stroke-width="2.5" stroke-linecap="round" d="M636.5 57.8h0M632.0 57.6h0M625.9 57.6h0M616.3 54.4h0M617.1 51.4h0"/><path stroke="#d0c890" stroke-width="2.5" stroke-linecap="round" d="M634.6 58.7h0M632.8 59.6h0M631.3 59.6h0M630.0 58.9h0M627.2 58.2h0M626.4 55.9h0M624.3 57.8h0M620.4 55.8h0M614.3 50.6h0M612.5 51.6h0"/><path stroke="#a0c8a4" stroke-width="2.5" stroke-linecap="round" d="M633.1 58.8h0M628.5 58.7h0M627.7 56.8h0M621.3 52.8h0M619.0 55.6h0M617.6 55.0h0M616.5 53.5h0"/><path stroke="#b4d088" stroke-width="2.5" stroke-linecap="round" d="M633.9 56.5h0M631.1 55.7h0M628.3 54.8h0M626.9 54.5h0M612.1 53.5h0"/><path stroke="#d4a08e" stroke-width="2.5" stroke-linecap="round" d="M629.6 55.6h0M621.8 56.0h0M619.5 53.6h0M620.1 51.8h0M615.3 52.6h0M613.5 53.7h0"/><path stroke="#dcbc7c" stroke-width="2.5" stroke-linecap="round" d="M609.3 52.9h0M607.0 49.5h0M605.1 52.1h0M590.9 49.5h0M588.0 48.8h0M582.4 50.9h0M582.0 47.7h0"/><path stroke="#a89ad0" stroke-width="2.5" stroke-linecap="round" d="M609.7 51.1h0M606.8 50.7h0M599.5 51.1h0M595.4 47.9h0M593.7 50.7h0M586.6 50.8h0M585.2 51.1h0"/><path stroke="#d4a08e" stroke-width="2.5" stroke-linecap="round" d="M609.9 49.7h0M599.8 48.3h0M598.0 51.1h0M594.0 47.4h0M592.3 50.8h0M585.1 49.0h0"/><path stroke="#c890b4" stroke-width="2.5" stroke-linecap="round" d="M607.8 53.1h0M606.5 52.5h0M601.0 50.2h0M599.6 49.8h0M596.6 51.4h0M596.7 49.6h0M585.0 47.3h0M583.8 50.9h0M583.7 49.8h0"/><path stroke="#b4d088" stroke-width="2.5" stroke-linecap="round" d="M608.2 51.0h0M605.6 49.1h0M600.9 51.6h0M601.3 48.1h0M598.1 49.8h0M596.8 48.4h0M590.8 50.9h0M582.2 49.4h0"/><path stroke="#d0c890" stroke-width="2.5" stroke-linecap="round" d="M608.5 49.5h0M603.9 50.3h0M602.7 48.5h0M598.3 48.0h0M595.2 50.9h0M595.3 49.6h0M591.0 47.7h0M586.5 47.5h0"/><path stroke="#9c9cd4" stroke-width="2.5" stroke-linecap="round" d="M605.4 50.5h0M603.7 52.1h0M589.5 49.5h0M583.6 47.7h0"/><path stroke="#c8c66c" stroke-width="2.5" stroke-linecap="round" d="M604.1 48.8h0M602.5 49.8h0M592.4 48.0h0M588.0 50.8h0"/><path stroke="#a0c8a4" stroke-width="2.5" stroke-linecap="round" d="M602.3 51.7h0M593.8 49.4h0M589.4 51.1h0M589.5 47.5h0M588.0 47.3h0"/><path stroke="#7a4a7a" stroke-width="2.5" stroke-linecap="round" d="M592.4 49.5h0"/><path stroke="#b4a450" stroke-width="2.5" stroke-linecap="round" d="M586.6 49.2h0"/><path stroke="#d0c890" stroke-width="2.5" stroke-linecap="round" d="M581.2 51.8h0M580.5 47.9h0M568.6 54.1h0M567.5 55.0h0M559.4 63.2h0"/><path stroke="#dcbc7c" stroke-width="2.5" stroke-linecap="round" d="M580.8 49.5h0M573.8 51.6h0M570.5 51.3h0M569.9 53.4h0"/><path stroke="#b4a450" stroke-width="2.5" stroke-linecap="round" d="M579.7 51.5h0M566.6 53.6h0"/><path stroke="#a89ad0" stroke-width="2.5" stroke-linecap="round" d="M579.4 49.8h0M579.1 48.5h0M578.4 51.8h0M574.4 53.0h0M571.8 50.7h0M564.1 55.5h0"/><path stroke="#8a6aa8" stroke-width="2.5" stroke-linecap="round" d="M577.9 49.9h0M567.8 52.8h0M566.1 57.9h0M561.3 61.0h0M557.7 62.2h0M557.8 64.0h0"/><path stroke="#c8c66c" stroke-width="2.5" stroke-linecap="round" d="M577.4 48.1h0M574.6 49.4h0M560.1 61.9h0"/><path stroke="#9c9cd4" stroke-width="2.5" stroke-linecap="round" d="M576.9 51.8h0M575.8 52.8h0M569.0 51.8h0M558.8 61.1h0"/><path stroke="#a0c8a4" stroke-width="2.5" stroke-linecap="round" d="M576.6 50.7h0M563.0 58.6h0M563.4 60.8h0"/><path stroke="#7aa058" stroke-width="2.5" stroke-linecap="round" d="M576.1 49.0h0M573.1 53.4h0M565.3 54.5h0M558.5 64.4h0"/><path stroke="#b4d088" stroke-width="2.5" stroke-linecap="round" d="M575.1 50.9h0M564.4 60.0h0M561.7 57.4h0M561.7 63.0h0"/><path stroke="#a89440" stroke-width="2.5" stroke-linecap="round" d="M573.3 50.1h0M562.4 61.8h0"/><path stroke="#b86c48" stroke-width="2.5" stroke-linecap="round" d="M572.3 51.7h0M569.5 55.5h0"/><path stroke="#c890b4" stroke-width="2.5" stroke-linecap="round" d="M571.9 54.2h0M559.8 65.1h0"/><path stroke="#d4a08e" stroke-width="2.5" stroke-linecap="round" d="M571.3 53.0h0M568.4 56.4h0"/><path stroke="#c89070" stroke-width="2.5" stroke-linecap="round" d="M570.6 54.7h0"/><path stroke="#6a7a40" stroke-width="2.5" stroke-linecap="round" d="M567.5 57.3h0"/><path stroke="#5a52b0" stroke-width="2.5" stroke-linecap="round" d="M566.1 55.6h0M565.1 58.7h0M562.1 59.8h0M560.9 64.1h0"/><path stroke="#c04444" stroke-width="2.5" stroke-linecap="round" d="M565.0 56.5h0M563.9 57.5h0"/><path stroke="#985090" stroke-width="2.5" stroke-linecap="round" d="M562.8 56.3h0"/><path stroke="#7a4a7a" stroke-width="2.5" stroke-linecap="round" d="M560.8 58.7h0"/><path stroke="#5c9c48" stroke-width="2.5" stroke-linecap="round" d="M559.8 59.8h0"/><path stroke="#b4a450" stroke-width="2.5" stroke-linecap="round" d="M559.9 66.7h0M557.9 83.6h0"/><path stroke="#7a4a7a" stroke-width="2.5" stroke-linecap="round" d="M558.1 65.8h0M553.7 78.5h0M556.7 84.0h0M558.8 91.4h0"/><path stroke="#7aa058" stroke-width="2.5" stroke-linecap="round" d="M556.2 64.9h0M558.9 67.7h0M554.6 72.4h0M554.1 81.6h0"/><path stroke="#c04444" stroke-width="2.5" stroke-linecap="round" d="M557.7 67.2h0M556.7 78.3h0M556.4 85.7h0M557.8 88.3h0"/><path stroke="#d4a08e" stroke-width="2.5" stroke-linecap="round" d="M556.0 66.4h0M558.3 70.4h0M560.0 88.4h0M560.8 89.5h0"/><path stroke="#b86c48" stroke-width="2.5" stroke-linecap="round" d="M558.3 68.9h0M553.7 75.4h0M557.2 77.0h0M554.0 80.0h0M557.6 90.3h0"/><path stroke="#6a7a40" stroke-width="2.5" stroke-linecap="round" d="M556.7 68.4h0M557.8 74.4h0M557.4 75.7h0"/><path stroke="#985090" stroke-width="2.5" stroke-linecap="round" d="M555.7 68.0h0M557.4 71.6h0"/><path stroke="#8a6aa8" stroke-width="2.5" stroke-linecap="round" d="M556.7 69.9h0M554.0 70.7h0M557.0 79.7h0M557.5 81.0h0M558.3 84.9h0M558.9 89.3h0M560.8 91.5h0"/><path stroke="#9c9cd4" stroke-width="2.5" stroke-linecap="round" d="M555.2 69.4h0M559.8 90.5h0"/><path stroke="#5c9c48" stroke-width="2.5" stroke-linecap="round" d="M556.2 71.3h0M555.4 78.4h0M555.5 81.3h0M554.1 83.1h0M556.5 89.2h0"/><path stroke="#5a52b0" stroke-width="2.5" stroke-linecap="round" d="M557.6 73.0h0M558.8 86.2h0"/><path stroke="#c89070" stroke-width="2.5" stroke-linecap="round" d="M555.9 72.7h0M555.3 77.0h0M555.0 84.6h0M554.8 86.3h0M559.8 92.6h0"/><path stroke="#a0c8a4" stroke-width="2.5" stroke-linecap="round" d="M555.6 74.1h0M557.8 86.7h0"/><path stroke="#b4d088" stroke-width="2.5" stroke-linecap="round" d="M553.9 73.9h0"/><path stroke="#a89440" stroke-width="2.5" stroke-linecap="round" d="M555.3 75.5h0M553.3 77.0h0M562.1 90.1h0"/><path stroke="#d0c890" stroke-width="2.5" stroke-linecap="round" d="M555.6 79.8h0"/><path stroke="#dcbc7c" stroke-width="2.5" stroke-linecap="round" d="M557.6 82.4h0"/><path stroke="#a89ad0" stroke-width="2.5" stroke-linecap="round" d="M556.0 82.7h0"/><path stroke="#c890b4" stroke-width="2.5" stroke-linecap="round" d="M556.0 87.5h0"/><path stroke="#c8c66c" stroke-width="2.5" stroke-linecap="round" d="M559.3 87.3h0"/><path stroke="#5c9c48" stroke-width="2.5" stroke-linecap="round" d="M563.2 91.0h0M562.1 94.6h0"/><path stroke="#c04444" stroke-width="2.5" stroke-linecap="round" d="M562.3 92.0h0M569.1 97.4h0M568.6 98.2h0M571.0 100.0h0M575.2 98.2h0M575.8 100.3h0M577.4 103.6h0M580.9 102.9h0"/><path stroke="#a89ad0" stroke-width="2.5" stroke-linecap="round" d="M560.7 93.9h0M570.4 98.0h0"/><path stroke="#b4a450" stroke-width="2.5" stroke-linecap="round" d="M564.1 92.0h0M576.2 102.7h0M583.0 105.5h0M585.4 103.5h0"/><path stroke="#a0c8a4" stroke-width="2.5" stroke-linecap="round" d="M563.2 93.1h0M564.3 94.1h0M585.6 106.8h0"/><path stroke="#7aa058" stroke-width="2.5" stroke-linecap="round" d="M565.3 92.7h0M567.4 94.6h0M571.2 96.7h0M578.3 101.8h0"/><path stroke="#7a4a7a" stroke-width="2.5" stroke-linecap="round" d="M563.3 95.5h0M566.6 93.3h0M569.7 99.2h0M571.8 98.5h0M573.4 101.7h0M584.1 102.9h0"/><path stroke="#d4a08e" stroke-width="2.5" stroke-linecap="round" d="M565.5 94.9h0M579.4 102.8h0M583.5 104.4h0"/><path stroke="#c89070" stroke-width="2.5" stroke-linecap="round" d="M564.5 96.4h0M568.1 96.2h0M574.4 99.7h0M576.8 101.5h0M581.5 101.6h0M581.6 105.0h0M586.8 104.0h0M586.1 105.6h0"/><path stroke="#b86c48" stroke-width="2.5" stroke-linecap="round" d="M567.1 95.2h0M584.7 105.2h0"/><path stroke="#b4d088" stroke-width="2.5" stroke-linecap="round" d="M565.9 97.1h0M572.5 97.2h0"/><path stroke="#6a7a40" stroke-width="2.5" stroke-linecap="round" d="M568.7 95.2h0M573.6 98.2h0"/><path stroke="#5a52b0" stroke-width="2.5" stroke-linecap="round" d="M567.2 97.8h0M572.2 100.7h0"/><path stroke="#c8c66c" stroke-width="2.5" stroke-linecap="round" d="M570.0 95.9h0"/><path stroke="#985090" stroke-width="2.5" stroke-linecap="round" d="M573.0 99.3h0"/><path stroke="#a89440" stroke-width="2.5" stroke-linecap="round" d="M576.5 98.8h0M574.8 102.2h0M578.7 104.3h0M580.2 104.5h0M584.0 106.7h0"/><path stroke="#dcbc7c" stroke-width="2.5" stroke-linecap="round" d="M577.5 100.0h0"/><path stroke="#8a6aa8" stroke-width="2.5" stroke-linecap="round" d="M578.6 101.0h0M582.8 102.3h0M582.1 103.9h0"/><path stroke="#9c9cd4" stroke-width="2.5" stroke-linecap="round" d="M580.2 101.1h0"/><path stroke="#5c9c48" stroke-width="2.5" stroke-linecap="round" d="M588.1 104.5h0M594.4 108.2h0M600.3 108.5h0M604.2 110.8h0M608.3 112.2h0M607.7 113.9h0"/><path stroke="#5a52b0" stroke-width="2.5" stroke-linecap="round" d="M587.2 106.6h0M589.4 105.0h0M593.0 107.7h0M594.9 106.4h0M595.4 109.9h0M598.6 109.3h0M601.4 110.1h0M606.1 109.7h0M610.3 111.1h0"/><path stroke="#a89440" stroke-width="2.5" stroke-linecap="round" d="M587.0 107.2h0M593.9 109.8h0M607.3 110.6h0M610.9 113.6h0"/><path stroke="#985090" stroke-width="2.5" stroke-linecap="round" d="M588.8 106.6h0M596.2 106.8h0"/><path stroke="#8a6aa8" stroke-width="2.5" stroke-linecap="round" d="M588.1 108.4h0M592.1 106.1h0M597.2 108.9h0M601.0 111.7h0M613.0 112.1h0M613.8 114.2h0"/><path stroke="#b86c48" stroke-width="2.5" stroke-linecap="round" d="M590.7 105.6h0M589.8 108.2h0M591.6 107.4h0M593.4 106.6h0M600.0 109.4h0M599.6 111.2h0"/><path stroke="#b4a450" stroke-width="2.5" stroke-linecap="round" d="M590.2 107.1h0M590.9 109.2h0M598.2 110.8h0M610.4 114.9h0M611.7 115.5h0M613.0 116.1h0"/><path stroke="#b4d088" stroke-width="2.5" stroke-linecap="round" d="M592.5 109.4h0M597.5 107.4h0"/><path stroke="#c89070" stroke-width="2.5" stroke-linecap="round" d="M595.6 109.2h0M603.2 109.0h0M603.6 112.6h0"/><path stroke="#c04444" stroke-width="2.5" stroke-linecap="round" d="M596.8 110.6h0M605.5 111.4h0M611.4 112.2h0"/><path stroke="#c8c66c" stroke-width="2.5" stroke-linecap="round" d="M598.8 108.4h0"/><path stroke="#dcbc7c" stroke-width="2.5" stroke-linecap="round" d="M601.7 108.6h0M614.1 113.4h0"/><path stroke="#7a4a7a" stroke-width="2.5" stroke-linecap="round" d="M602.7 110.8h0M604.9 113.2h0"/><path stroke="#7aa058" stroke-width="2.5" stroke-linecap="round" d="M602.3 112.3h0M608.8 110.9h0M609.7 112.6h0"/><path stroke="#6a7a40" stroke-width="2.5" stroke-linecap="round" d="M604.5 109.9h0M606.3 113.7h0M612.3 113.9h0"/><path stroke="#c890b4" stroke-width="2.5" stroke-linecap="round" d="M606.9 111.8h0M608.8 115.2h0"/><path stroke="#5c9c48" stroke-width="2.5" stroke-linecap="round" d="M615.6 113.5h0"/><path stroke="#c89070" stroke-width="2.5" stroke-linecap="round" d="M615.1 114.8h0M615.9 116.7h0"/><path stroke="#7a4a7a" stroke-width="2.5" stroke-linecap="round" d="M614.5 116.5h0"/><path stroke="#8a6aa8" stroke-width="2.5" stroke-linecap="round" d="M616.9 114.0h0M616.5 115.2h0M617.8 115.8h0"/><path stroke="#6a7a40" stroke-width="2.5" stroke-linecap="round" d="M618.4 114.2h0"/><path stroke="#5a52b0" stroke-width="2.5" stroke-linecap="round" d="M617.2 117.5h0"/>
<rect x="425.5" y="298.3" width="267" height="15.4" fill="#d8c4b0" opacity="0.6"/>
<path stroke="#a8622a" stroke-width="2.35" stroke-linecap="round" d="M426.2 299.6h0M428.7 299.4h0M434.6 301.7h0M435.1 301.5h0M454.5 299.6h0M455.2 301.6h0M458.8 301.5h0"/><path stroke="#a05828" stroke-width="2.35" stroke-linecap="round" d="M426.7 301.8h0M430.2 301.4h0M432.9 299.3h0M438.1 299.5h0M437.3 302.0h0M445.9 299.2h0M447.5 301.4h0M451.2 299.6h0"/><path stroke="#905020" stroke-width="2.35" stroke-linecap="round" d="M428.1 299.3h0M450.3 301.7h0M450.9 302.0h0"/><path stroke="#b47238" stroke-width="2.35" stroke-linecap="round" d="M427.3 301.6h0M430.3 299.4h0M431.8 301.8h0M435.4 299.1h0M440.2 301.5h0M441.6 299.4h0M452.5 299.5h0M458.1 301.4h0M461.6 299.6h0"/><path stroke="#6c8c40" stroke-width="2.35" stroke-linecap="round" d="M429.1 301.7h0M432.6 301.5h0M433.8 298.9h0M441.0 299.5h0M443.5 299.5h0M442.7 301.6h0M453.7 299.1h0M460.6 301.2h0"/><path stroke="#5c8c4c" stroke-width="2.35" stroke-linecap="round" d="M431.4 299.8h0M439.0 299.1h0M440.0 301.3h0M446.8 299.7h0M452.8 301.8h0M453.6 301.9h0M462.5 299.6h0"/><path stroke="#a87a44" stroke-width="2.35" stroke-linecap="round" d="M436.2 299.1h0"/><path stroke="#8c5c34" stroke-width="2.35" stroke-linecap="round" d="M437.3 302.1h0M444.1 299.4h0M448.8 299.4h0M448.2 301.5h0M449.3 299.3h0M456.9 299.6h0M463.5 301.9h0"/><path stroke="#7a4a8a" stroke-width="2.35" stroke-linecap="round" d="M442.2 301.5h0M455.9 301.6h0M459.0 299.2h0"/><path stroke="#9c6c34" stroke-width="2.35" stroke-linecap="round" d="M444.8 301.6h0M445.2 301.5h0M456.1 299.3h0M459.5 299.1h0M461.7 301.8h0M462.9 301.8h0M464.3 298.8h0"/><path stroke="#5c8c4c" stroke-width="2.35" stroke-linecap="round" d="M464.8 299.5h0M479.8 299.4h0M483.9 301.4h0M487.1 301.7h0M495.6 299.1h0M494.8 301.6h0M496.8 301.2h0M499.1 299.5h0M501.3 299.4h0M502.3 301.8h0"/><path stroke="#905020" stroke-width="2.35" stroke-linecap="round" d="M465.3 301.6h0M466.3 302.2h0M468.9 301.8h0M470.6 301.6h0M490.2 299.5h0M490.9 299.3h0M493.5 299.1h0"/><path stroke="#7a4a8a" stroke-width="2.35" stroke-linecap="round" d="M467.1 299.3h0M472.1 299.5h0M474.0 301.5h0M479.0 301.7h0M492.8 299.1h0M492.2 301.7h0M494.2 301.7h0M497.6 301.6h0M503.6 299.8h0"/><path stroke="#a05828" stroke-width="2.35" stroke-linecap="round" d="M467.6 299.3h0M469.7 299.3h0M485.1 299.5h0M487.8 299.4h0M488.5 299.7h0M491.5 301.4h0"/><path stroke="#9c6c34" stroke-width="2.35" stroke-linecap="round" d="M468.4 301.7h0M470.0 299.4h0M476.3 301.6h0M476.7 301.7h0M486.1 299.6h0"/><path stroke="#6c8c40" stroke-width="2.35" stroke-linecap="round" d="M471.5 301.6h0M474.3 299.3h0M478.9 301.6h0M480.4 299.6h0M481.0 301.8h0M482.6 299.4h0M481.9 301.3h0M484.2 301.6h0M489.1 301.9h0M499.3 301.5h0M502.6 301.8h0"/><path stroke="#a87a44" stroke-width="2.35" stroke-linecap="round" d="M473.0 299.2h0M489.8 301.7h0M496.6 299.3h0M498.4 299.2h0"/><path stroke="#b47238" stroke-width="2.35" stroke-linecap="round" d="M473.0 301.5h0M482.9 299.4h0M486.6 301.5h0M500.3 301.2h0M501.5 299.5h0"/><path stroke="#8c5c34" stroke-width="2.35" stroke-linecap="round" d="M475.4 299.6h0M478.4 299.5h0"/><path stroke="#a8622a" stroke-width="2.35" stroke-linecap="round" d="M477.5 299.5h0"/><path stroke="#b47238" stroke-width="2.35" stroke-linecap="round" d="M504.2 298.8h0M506.3 299.4h0M507.7 302.1h0M517.2 299.4h0M526.7 299.2h0"/><path stroke="#a87a44" stroke-width="2.35" stroke-linecap="round" d="M504.4 301.6h0M510.7 301.8h0M511.6 299.0h0M516.6 299.1h0M522.9 301.4h0M523.9 299.8h0M524.7 299.0h0M527.2 299.4h0M533.1 302.1h0M539.6 299.2h0"/><path stroke="#6c8c40" stroke-width="2.35" stroke-linecap="round" d="M506.0 299.3h0M514.9 301.8h0M515.3 301.8h0M521.3 299.2h0M532.2 299.6h0M536.2 301.7h0M536.9 299.2h0M541.7 301.8h0"/><path stroke="#a8622a" stroke-width="2.35" stroke-linecap="round" d="M505.2 301.6h0M509.2 299.7h0M509.6 301.6h0M513.5 301.7h0M517.7 301.4h0M518.3 301.7h0M520.0 299.1h0M520.9 301.6h0M522.4 299.6h0M531.0 301.7h0M532.5 299.1h0M535.6 299.5h0"/><path stroke="#905020" stroke-width="2.35" stroke-linecap="round" d="M507.5 301.5h0M518.9 299.5h0"/><path stroke="#a05828" stroke-width="2.35" stroke-linecap="round" d="M508.8 299.4h0M513.8 299.6h0M523.3 301.5h0M528.5 301.5h0M529.8 299.4h0M534.7 299.5h0M536.6 301.3h0"/><path stroke="#9c6c34" stroke-width="2.35" stroke-linecap="round" d="M511.4 299.1h0M512.6 301.9h0M514.2 299.9h0M528.0 302.0h0M540.4 299.3h0"/><path stroke="#7a4a8a" stroke-width="2.35" stroke-linecap="round" d="M520.2 301.8h0M525.4 301.8h0M529.5 299.3h0M538.0 299.3h0M542.4 299.2h0"/><path stroke="#5c8c4c" stroke-width="2.35" stroke-linecap="round" d="M526.3 301.6h0M530.9 301.7h0M539.0 301.3h0"/><path stroke="#8c5c34" stroke-width="2.35" stroke-linecap="round" d="M533.5 301.8h0M538.3 301.6h0M540.8 301.6h0"/><path stroke="#a8622a" stroke-width="2.35" stroke-linecap="round" d="M543.0 299.2h0M545.5 299.4h0M549.6 301.3h0M554.1 301.7h0M576.3 299.0h0M577.7 301.4h0M579.4 299.0h0M580.1 302.0h0"/><path stroke="#a05828" stroke-width="2.35" stroke-linecap="round" d="M543.7 301.6h0M547.6 299.2h0M551.4 301.5h0M560.9 299.3h0M565.7 299.2h0M576.5 299.4h0M578.9 299.7h0"/><path stroke="#8c5c34" stroke-width="2.35" stroke-linecap="round" d="M544.9 299.4h0M552.7 299.2h0M551.8 301.4h0M558.0 299.2h0M560.7 299.6h0M565.4 301.7h0M574.3 299.3h0M574.7 301.9h0"/><path stroke="#5c8c4c" stroke-width="2.35" stroke-linecap="round" d="M544.1 301.8h0M555.0 301.5h0M558.7 299.5h0M559.9 301.9h0"/><path stroke="#9c6c34" stroke-width="2.35" stroke-linecap="round" d="M546.2 301.5h0M562.2 301.6h0M563.9 299.6h0M572.2 301.3h0M573.6 299.5h0"/><path stroke="#a87a44" stroke-width="2.35" stroke-linecap="round" d="M547.3 301.9h0M553.6 299.6h0M559.2 301.7h0M568.2 299.2h0M569.9 301.8h0M570.3 301.8h0M571.6 299.4h0M578.0 301.7h0M580.7 301.8h0"/><path stroke="#7a4a8a" stroke-width="2.35" stroke-linecap="round" d="M548.3 299.5h0M548.3 301.6h0M556.8 301.6h0M567.6 301.5h0M567.5 301.7h0"/><path stroke="#b47238" stroke-width="2.35" stroke-linecap="round" d="M550.1 299.0h0M555.1 299.5h0M556.0 299.2h0M564.3 301.3h0M575.7 301.6h0M581.3 299.8h0"/><path stroke="#905020" stroke-width="2.35" stroke-linecap="round" d="M550.9 299.1h0M557.4 301.3h0M563.1 299.3h0M566.2 299.1h0M568.9 299.4h0M570.9 299.3h0M572.7 301.4h0"/><path stroke="#6c8c40" stroke-width="2.35" stroke-linecap="round" d="M561.6 301.6h0"/><path stroke="#a05828" stroke-width="2.35" stroke-linecap="round" d="M582.1 299.3h0M587.1 298.9h0M591.1 301.5h0M593.7 301.7h0M596.2 301.6h0M597.7 299.3h0M598.1 302.0h0M600.9 301.4h0M607.2 299.1h0M607.8 299.3h0M611.2 301.7h0M612.1 299.4h0M619.1 301.8h0"/><path stroke="#a8622a" stroke-width="2.35" stroke-linecap="round" d="M582.2 301.7h0M613.3 299.1h0"/><path stroke="#5c8c4c" stroke-width="2.35" stroke-linecap="round" d="M584.2 299.2h0M596.8 299.5h0M602.2 299.1h0M604.1 301.8h0M612.1 301.8h0M613.8 302.0h0M614.8 301.7h0"/><path stroke="#905020" stroke-width="2.35" stroke-linecap="round" d="M583.5 301.6h0M586.1 301.6h0M593.1 301.4h0M594.2 299.1h0M599.8 299.3h0M603.9 301.7h0M606.2 301.9h0M609.2 301.6h0M616.9 301.7h0M619.5 301.6h0"/><path stroke="#a87a44" stroke-width="2.35" stroke-linecap="round" d="M584.2 299.1h0M586.4 299.4h0M595.0 298.9h0M618.5 299.4h0"/><path stroke="#7a4a8a" stroke-width="2.35" stroke-linecap="round" d="M585.3 301.4h0M592.4 299.1h0M605.7 299.6h0M609.1 301.5h0"/><path stroke="#8c5c34" stroke-width="2.35" stroke-linecap="round" d="M587.6 301.7h0M591.7 299.3h0M602.7 299.3h0M616.1 299.5h0M616.6 301.8h0"/><path stroke="#9c6c34" stroke-width="2.35" stroke-linecap="round" d="M589.3 299.4h0M588.7 301.9h0M596.0 301.9h0M606.8 302.0h0M609.7 299.4h0M610.5 299.4h0M620.1 299.3h0"/><path stroke="#b47238" stroke-width="2.35" stroke-linecap="round" d="M589.7 299.2h0M590.5 301.9h0M598.9 301.8h0M604.7 299.3h0M617.6 299.5h0"/><path stroke="#6c8c40" stroke-width="2.35" stroke-linecap="round" d="M599.5 299.4h0M601.8 301.5h0M615.3 299.7h0"/><path stroke="#a87a44" stroke-width="2.35" stroke-linecap="round" d="M620.9 299.2h0M623.5 299.1h0M633.2 298.9h0M637.4 301.8h0M653.5 301.6h0"/><path stroke="#905020" stroke-width="2.35" stroke-linecap="round" d="M621.6 301.7h0M624.6 301.6h0M629.7 301.9h0M640.5 301.7h0M647.6 301.7h0M651.5 299.4h0"/><path stroke="#7a4a8a" stroke-width="2.35" stroke-linecap="round" d="M623.3 299.2h0M626.1 299.6h0M630.5 299.5h0M631.1 299.5h0M643.6 299.1h0M644.9 301.7h0M649.0 299.5h0M656.2 301.4h0"/><path stroke="#9c6c34" stroke-width="2.35" stroke-linecap="round" d="M622.5 301.8h0M633.9 299.6h0M634.5 301.3h0M635.2 301.5h0M646.1 299.2h0M648.0 301.7h0"/><path stroke="#b47238" stroke-width="2.35" stroke-linecap="round" d="M624.3 301.7h0M626.9 301.8h0M630.0 301.4h0M639.9 301.2h0M644.1 299.1h0M655.8 301.9h0M657.7 299.4h0"/><path stroke="#8c5c34" stroke-width="2.35" stroke-linecap="round" d="M625.7 299.1h0M627.3 301.6h0M635.9 299.6h0M641.8 299.5h0M649.9 301.6h0"/><path stroke="#6c8c40" stroke-width="2.35" stroke-linecap="round" d="M627.9 299.4h0M628.7 299.2h0M632.0 301.6h0M632.5 301.2h0M639.0 299.4h0M641.3 299.2h0M642.4 301.8h0M646.7 299.2h0M649.5 299.4h0"/><path stroke="#5c8c4c" stroke-width="2.35" stroke-linecap="round" d="M636.0 299.4h0M642.8 301.7h0M652.0 299.7h0M654.6 299.2h0M659.2 299.5h0"/><path stroke="#a8622a" stroke-width="2.35" stroke-linecap="round" d="M638.4 301.8h0M645.5 301.6h0M651.1 301.6h0M653.0 301.7h0M656.6 299.5h0"/><path stroke="#a05828" stroke-width="2.35" stroke-linecap="round" d="M639.4 299.1h0M654.3 299.0h0M658.2 301.5h0M658.7 301.9h0"/><path stroke="#a05828" stroke-width="2.35" stroke-linecap="round" d="M659.7 299.4h0M661.4 301.8h0M663.2 301.6h0M673.5 301.4h0M674.8 301.7h0M688.0 299.6h0M688.9 301.5h0M692.0 301.9h0"/><path stroke="#905020" stroke-width="2.35" stroke-linecap="round" d="M660.5 301.8h0M681.3 301.6h0M690.6 299.5h0M427.2 307.2h0M430.5 305.0h0M430.0 306.9h0"/><path stroke="#a8622a" stroke-width="2.35" stroke-linecap="round" d="M661.8 299.6h0M666.4 301.7h0M668.5 301.5h0M672.4 299.2h0M677.5 299.2h0M683.7 302.0h0M429.7 307.2h0"/><path stroke="#6c8c40" stroke-width="2.35" stroke-linecap="round" d="M662.7 299.4h0M669.1 301.9h0M671.8 301.6h0M678.2 299.3h0M679.6 301.9h0M681.0 299.1h0M426.5 307.0h0"/><path stroke="#5c8c4c" stroke-width="2.35" stroke-linecap="round" d="M664.8 299.4h0M665.7 301.7h0M671.0 301.9h0M676.9 301.5h0M688.6 299.3h0M426.2 304.8h0"/><path stroke="#9c6c34" stroke-width="2.35" stroke-linecap="round" d="M663.4 301.4h0M673.0 299.4h0M676.3 301.7h0M679.0 301.7h0M685.2 299.3h0M691.1 299.3h0"/><path stroke="#8c5c34" stroke-width="2.35" stroke-linecap="round" d="M664.9 299.3h0M682.3 302.1h0M692.6 301.9h0"/><path stroke="#7a4a8a" stroke-width="2.35" stroke-linecap="round" d="M667.0 299.0h0M669.6 299.6h0M675.0 299.6h0M683.6 299.0h0M428.6 305.0h0"/><path stroke="#b47238" stroke-width="2.35" stroke-linecap="round" d="M667.8 299.5h0M670.7 299.2h0M675.5 299.5h0M680.0 299.6h0M684.4 301.8h0M686.1 299.4h0M428.0 304.7h0"/><path stroke="#a87a44" stroke-width="2.35" stroke-linecap="round" d="M682.6 299.4h0M686.6 301.8h0M687.3 301.8h0M689.8 301.8h0M693.3 299.4h0"/><path stroke="#9c6c34" stroke-width="2.35" stroke-linecap="round" d="M431.3 305.0h0M438.0 307.2h0M455.5 307.3h0M456.6 304.9h0M460.6 306.7h0M467.6 304.8h0"/><path stroke="#a8622a" stroke-width="2.35" stroke-linecap="round" d="M431.9 307.0h0M443.0 307.1h0M446.2 305.1h0M448.5 305.0h0M453.6 304.8h0M457.1 304.8h0M463.4 306.7h0"/><path stroke="#7a4a8a" stroke-width="2.35" stroke-linecap="round" d="M432.8 304.9h0M443.6 304.8h0M444.7 306.8h0M445.4 307.1h0M446.4 305.0h0M448.0 306.8h0M452.2 304.8h0M458.1 306.9h0M460.4 307.0h0M467.3 304.5h0"/><path stroke="#a05828" stroke-width="2.35" stroke-linecap="round" d="M432.2 306.9h0M434.1 307.3h0M437.1 307.3h0M458.6 306.6h0M465.9 306.9h0"/><path stroke="#6c8c40" stroke-width="2.35" stroke-linecap="round" d="M433.8 304.4h0M450.1 307.0h0M456.0 307.1h0M464.2 304.9h0"/><path stroke="#905020" stroke-width="2.35" stroke-linecap="round" d="M436.1 304.5h0M451.0 304.5h0M452.6 307.2h0M466.4 306.9h0"/><path stroke="#b47238" stroke-width="2.35" stroke-linecap="round" d="M434.8 306.7h0M436.6 304.7h0M438.2 304.5h0M439.3 306.9h0M441.6 304.8h0M450.6 307.0h0M461.7 304.8h0M462.2 304.7h0"/><path stroke="#5c8c4c" stroke-width="2.35" stroke-linecap="round" d="M439.0 304.6h0M441.0 304.6h0M458.9 304.5h0M459.7 304.9h0M465.1 304.5h0M468.6 307.0h0M469.0 307.0h0"/><path stroke="#8c5c34" stroke-width="2.35" stroke-linecap="round" d="M440.0 307.1h0M447.6 306.7h0M449.6 304.9h0M463.8 307.0h0"/><path stroke="#a87a44" stroke-width="2.35" stroke-linecap="round" d="M442.3 307.2h0M444.0 304.4h0M453.0 306.9h0M454.3 304.8h0M469.2 304.9h0"/><path stroke="#a05828" stroke-width="2.35" stroke-linecap="round" d="M469.8 304.9h0M484.8 304.5h0M499.0 306.9h0M503.4 304.6h0M506.4 304.8h0"/><path stroke="#a8622a" stroke-width="2.35" stroke-linecap="round" d="M470.8 307.0h0M484.4 307.2h0M508.2 304.6h0"/><path stroke="#a87a44" stroke-width="2.35" stroke-linecap="round" d="M472.1 304.7h0M491.0 304.7h0M496.4 304.6h0M497.7 307.2h0M504.1 304.7h0M507.2 307.0h0"/><path stroke="#8c5c34" stroke-width="2.35" stroke-linecap="round" d="M471.4 307.3h0M488.3 305.0h0M491.3 307.0h0M496.9 307.1h0M498.7 305.1h0"/><path stroke="#b47238" stroke-width="2.35" stroke-linecap="round" d="M473.0 305.1h0M474.0 307.0h0M483.2 304.7h0M486.1 305.1h0M487.7 304.8h0M487.1 307.0h0M495.6 305.1h0M507.9 307.2h0"/><path stroke="#7a4a8a" stroke-width="2.35" stroke-linecap="round" d="M473.5 307.1h0M475.1 305.0h0M475.5 305.0h0M477.3 304.9h0M479.4 307.1h0M481.9 306.9h0M490.1 304.6h0M498.2 304.9h0M504.3 307.3h0M505.9 304.9h0"/><path stroke="#9c6c34" stroke-width="2.35" stroke-linecap="round" d="M476.3 307.1h0M480.5 304.5h0M482.0 304.7h0M483.9 307.0h0M494.5 307.3h0"/><path stroke="#6c8c40" stroke-width="2.35" stroke-linecap="round" d="M476.5 306.9h0M481.3 306.9h0M489.8 307.4h0M492.3 307.0h0M500.5 304.6h0M502.6 307.0h0"/><path stroke="#5c8c4c" stroke-width="2.35" stroke-linecap="round" d="M477.9 304.5h0M478.7 307.3h0M480.1 304.8h0M486.2 307.0h0M489.0 307.1h0M493.6 304.7h0M499.9 307.2h0M502.3 306.9h0"/><path stroke="#905020" stroke-width="2.35" stroke-linecap="round" d="M493.3 304.9h0M494.3 307.3h0M501.4 304.8h0M505.2 306.9h0"/><path stroke="#b47238" stroke-width="2.35" stroke-linecap="round" d="M509.4 305.0h0M519.8 304.7h0M521.9 305.0h0M534.5 304.8h0M539.3 307.1h0M541.5 306.9h0M544.8 304.6h0"/><path stroke="#905020" stroke-width="2.35" stroke-linecap="round" d="M510.1 307.1h0M514.5 305.0h0M523.1 307.4h0M525.8 307.3h0M527.5 304.8h0M531.1 307.0h0M532.8 304.6h0M533.9 306.9h0M535.8 307.1h0M542.3 304.9h0"/><path stroke="#8c5c34" stroke-width="2.35" stroke-linecap="round" d="M511.0 304.7h0M513.5 304.8h0M516.1 304.6h0M520.5 307.2h0M529.9 304.6h0M544.2 307.1h0M547.4 304.7h0"/><path stroke="#5c8c4c" stroke-width="2.35" stroke-linecap="round" d="M510.4 307.4h0M517.7 307.1h0M524.2 304.6h0M524.5 304.8h0M530.6 306.9h0M532.0 304.7h0"/><path stroke="#a87a44" stroke-width="2.35" stroke-linecap="round" d="M511.6 304.6h0M512.3 307.3h0M513.0 306.8h0M514.9 307.0h0M515.7 307.0h0M520.8 306.8h0M523.6 306.8h0"/><path stroke="#6c8c40" stroke-width="2.35" stroke-linecap="round" d="M517.1 304.6h0M526.7 304.6h0M529.5 304.5h0M541.0 307.0h0M543.9 307.3h0"/><path stroke="#a05828" stroke-width="2.35" stroke-linecap="round" d="M519.1 304.9h0M528.6 306.6h0M538.4 307.0h0M546.2 306.9h0"/><path stroke="#a8622a" stroke-width="2.35" stroke-linecap="round" d="M517.9 306.8h0M532.9 306.9h0"/><path stroke="#9c6c34" stroke-width="2.35" stroke-linecap="round" d="M521.8 304.6h0M537.1 304.5h0M536.8 307.0h0M543.2 304.7h0M545.6 304.7h0"/><path stroke="#7a4a8a" stroke-width="2.35" stroke-linecap="round" d="M525.3 306.9h0M528.1 307.1h0M535.6 304.7h0M538.2 304.8h0M539.8 304.8h0M540.0 305.4h0M546.6 307.3h0"/><path stroke="#b47238" stroke-width="2.35" stroke-linecap="round" d="M548.5 304.6h0M550.2 304.5h0M549.3 307.0h0M552.4 305.0h0M555.1 304.8h0M562.5 307.1h0M572.8 307.3h0"/><path stroke="#5c8c4c" stroke-width="2.35" stroke-linecap="round" d="M549.0 306.7h0M557.7 304.5h0M557.4 306.8h0M559.8 306.8h0M563.6 304.8h0M569.5 307.2h0M586.4 304.8h0"/><path stroke="#a87a44" stroke-width="2.35" stroke-linecap="round" d="M550.6 304.9h0M565.8 305.2h0M565.3 306.9h0M571.6 304.8h0M575.5 307.0h0"/><path stroke="#7a4a8a" stroke-width="2.35" stroke-linecap="round" d="M551.6 307.1h0M572.3 307.3h0M574.1 304.7h0M574.7 307.5h0M585.8 306.7h0"/><path stroke="#a8622a" stroke-width="2.35" stroke-linecap="round" d="M551.9 307.0h0M556.4 304.5h0M557.0 307.2h0M566.2 304.8h0M570.2 307.5h0M579.1 304.6h0M578.1 307.2h0M579.7 304.9h0"/><path stroke="#6c8c40" stroke-width="2.35" stroke-linecap="round" d="M553.5 304.8h0M554.8 307.2h0M558.7 304.9h0M580.7 307.3h0M583.6 306.8h0"/><path stroke="#8c5c34" stroke-width="2.35" stroke-linecap="round" d="M554.0 307.2h0M559.4 307.2h0M564.3 307.0h0M568.9 304.9h0M571.0 304.6h0M580.2 307.0h0"/><path stroke="#9c6c34" stroke-width="2.35" stroke-linecap="round" d="M560.4 304.8h0M562.2 306.8h0M566.7 306.9h0M576.8 304.7h0M577.3 306.9h0M584.8 305.1h0"/><path stroke="#a05828" stroke-width="2.35" stroke-linecap="round" d="M560.9 304.5h0M568.8 304.8h0M573.3 304.7h0M576.2 304.8h0M581.7 305.0h0M582.3 307.1h0"/><path stroke="#905020" stroke-width="2.35" stroke-linecap="round" d="M563.2 304.8h0M568.0 307.4h0M581.3 304.8h0M584.1 304.5h0M585.3 307.1h0"/><path stroke="#a87a44" stroke-width="2.35" stroke-linecap="round" d="M587.3 304.5h0M591.9 304.8h0M608.5 307.2h0M609.6 305.0h0"/><path stroke="#6c8c40" stroke-width="2.35" stroke-linecap="round" d="M588.0 307.2h0M588.2 307.2h0M590.5 307.2h0M603.5 307.2h0M611.2 306.8h0M612.8 304.7h0M617.3 307.1h0"/><path stroke="#b47238" stroke-width="2.35" stroke-linecap="round" d="M589.2 304.3h0M589.6 304.8h0M596.3 307.3h0M606.0 306.9h0M610.6 304.9h0M614.0 307.0h0M619.0 306.8h0M625.0 306.9h0"/><path stroke="#905020" stroke-width="2.35" stroke-linecap="round" d="M591.3 307.5h0M597.0 304.8h0M611.6 307.1h0M614.8 304.8h0M616.7 307.3h0M617.9 305.0h0M618.1 304.8h0M621.2 304.5h0M622.6 307.0h0"/><path stroke="#7a4a8a" stroke-width="2.35" stroke-linecap="round" d="M592.5 304.7h0M593.3 307.3h0M595.1 304.8h0M601.4 307.3h0M602.9 304.7h0M605.6 304.7h0"/><path stroke="#5c8c4c" stroke-width="2.35" stroke-linecap="round" d="M594.7 304.9h0M598.6 307.0h0M600.3 304.5h0M607.3 304.7h0M607.8 304.8h0"/><path stroke="#a8622a" stroke-width="2.35" stroke-linecap="round" d="M593.3 307.0h0M597.3 305.0h0M597.8 307.1h0M600.8 307.0h0M615.2 304.5h0M619.9 307.1h0M621.7 307.0h0M624.1 307.2h0"/><path stroke="#a05828" stroke-width="2.35" stroke-linecap="round" d="M596.0 307.0h0M599.8 304.7h0M623.1 304.7h0M623.4 304.9h0M625.8 304.7h0"/><path stroke="#9c6c34" stroke-width="2.35" stroke-linecap="round" d="M602.2 304.9h0M614.7 306.8h0M620.2 304.7h0"/><path stroke="#8c5c34" stroke-width="2.35" stroke-linecap="round" d="M605.4 304.7h0M604.0 306.9h0M606.7 307.0h0M609.2 307.2h0M612.9 304.9h0"/><path stroke="#5c8c4c" stroke-width="2.35" stroke-linecap="round" d="M626.2 304.3h0M630.7 304.8h0M632.6 306.9h0M657.2 305.0h0M660.4 307.1h0"/><path stroke="#a8622a" stroke-width="2.35" stroke-linecap="round" d="M627.0 306.9h0M629.2 307.0h0M634.1 304.5h0M635.0 307.5h0M643.6 304.5h0M645.7 307.1h0M648.8 307.3h0M653.4 307.2h0M657.0 304.6h0M661.8 304.7h0"/><path stroke="#905020" stroke-width="2.35" stroke-linecap="round" d="M628.0 304.8h0M636.6 304.5h0M641.0 304.8h0M644.3 304.8h0M658.3 307.0h0"/><path stroke="#a87a44" stroke-width="2.35" stroke-linecap="round" d="M627.3 307.2h0M631.5 304.8h0M632.3 307.1h0M636.9 306.9h0M646.4 304.7h0M649.6 305.0h0M650.5 307.2h0M655.4 307.1h0"/><path stroke="#8c5c34" stroke-width="2.35" stroke-linecap="round" d="M628.8 304.7h0M638.3 307.0h0M640.1 306.9h0M642.5 307.4h0M653.2 307.1h0M655.0 304.7h0M659.8 305.1h0M663.8 307.2h0"/><path stroke="#6c8c40" stroke-width="2.35" stroke-linecap="round" d="M630.4 307.4h0M633.4 305.2h0M645.3 307.1h0M662.4 304.7h0M663.5 306.8h0"/><path stroke="#7a4a8a" stroke-width="2.35" stroke-linecap="round" d="M636.0 304.5h0M639.2 304.7h0M647.8 307.1h0M651.2 307.1h0"/><path stroke="#b47238" stroke-width="2.35" stroke-linecap="round" d="M635.2 307.2h0M649.4 304.6h0M658.3 307.0h0"/><path stroke="#a05828" stroke-width="2.35" stroke-linecap="round" d="M638.5 304.8h0M640.7 307.2h0M654.3 304.6h0M656.2 307.2h0M661.2 306.7h0M664.6 304.7h0"/><path stroke="#9c6c34" stroke-width="2.35" stroke-linecap="round" d="M641.9 304.6h0M643.0 306.9h0M647.0 304.7h0M651.3 305.0h0M652.3 304.5h0M659.5 304.7h0"/><path stroke="#6c8c40" stroke-width="2.35" stroke-linecap="round" d="M665.3 304.6h0M666.4 307.1h0M678.5 306.9h0M690.3 304.7h0M430.1 310.0h0"/><path stroke="#a87a44" stroke-width="2.35" stroke-linecap="round" d="M665.8 307.0h0M667.9 305.0h0M671.4 306.6h0M683.9 306.7h0"/><path stroke="#9c6c34" stroke-width="2.35" stroke-linecap="round" d="M667.1 304.7h0M671.7 307.2h0M673.2 304.9h0M673.9 306.9h0M676.4 307.2h0M684.5 306.6h0M689.2 306.9h0M435.4 309.9h0"/><path stroke="#8c5c34" stroke-width="2.35" stroke-linecap="round" d="M668.5 307.2h0M670.1 304.7h0M681.2 306.9h0M685.2 304.3h0M691.7 307.1h0M435.1 312.3h0"/><path stroke="#905020" stroke-width="2.35" stroke-linecap="round" d="M669.8 305.0h0M669.0 307.1h0M672.4 305.2h0M677.4 304.8h0M682.0 307.0h0M693.3 305.0h0M427.1 311.9h0M429.1 312.4h0"/><path stroke="#a05828" stroke-width="2.35" stroke-linecap="round" d="M673.6 307.2h0M682.7 304.8h0M428.2 310.1h0M431.8 312.6h0M433.3 309.9h0"/><path stroke="#a8622a" stroke-width="2.35" stroke-linecap="round" d="M674.8 304.7h0M675.9 304.6h0M676.7 307.2h0M678.4 304.5h0M687.8 304.8h0M428.5 310.0h0"/><path stroke="#b47238" stroke-width="2.35" stroke-linecap="round" d="M680.3 304.8h0M683.5 304.7h0M686.6 307.2h0M690.0 306.8h0M426.2 309.6h0"/><path stroke="#7a4a8a" stroke-width="2.35" stroke-linecap="round" d="M679.6 306.6h0M691.1 304.3h0M431.6 309.7h0M433.4 310.0h0M432.6 312.8h0"/><path stroke="#5c8c4c" stroke-width="2.35" stroke-linecap="round" d="M680.9 304.7h0M686.1 304.9h0M687.2 306.8h0M688.9 304.9h0M692.7 307.1h0M426.6 312.1h0M429.8 312.1h0M434.4 312.5h0"/><path stroke="#7a4a8a" stroke-width="2.35" stroke-linecap="round" d="M436.6 309.8h0M442.4 312.3h0M446.2 309.9h0M447.9 312.2h0M455.7 311.9h0M472.5 310.1h0"/><path stroke="#a8622a" stroke-width="2.35" stroke-linecap="round" d="M436.8 312.3h0M443.7 309.9h0M448.7 310.1h0M467.9 310.0h0M471.0 312.5h0M473.5 312.2h0"/><path stroke="#9c6c34" stroke-width="2.35" stroke-linecap="round" d="M438.7 310.0h0M450.0 312.2h0M456.8 309.6h0M457.8 312.0h0M459.8 309.8h0M464.3 309.9h0"/><path stroke="#905020" stroke-width="2.35" stroke-linecap="round" d="M437.9 312.7h0M441.3 310.1h0M447.4 312.8h0M453.9 310.4h0M458.8 312.2h0M465.1 310.4h0M468.4 312.3h0"/><path stroke="#a05828" stroke-width="2.35" stroke-linecap="round" d="M438.9 310.2h0M444.2 310.1h0M469.7 310.1h0M474.1 312.7h0"/><path stroke="#5c8c4c" stroke-width="2.35" stroke-linecap="round" d="M439.3 312.3h0M444.7 312.2h0M449.5 309.9h0M451.5 309.9h0M450.5 312.1h0M453.4 312.1h0M455.1 311.9h0M457.1 309.8h0M459.2 310.0h0M460.7 312.4h0M474.4 309.8h0"/><path stroke="#b47238" stroke-width="2.35" stroke-linecap="round" d="M440.6 312.5h0M461.8 310.1h0M466.5 310.0h0M466.4 312.2h0M470.2 310.4h0"/><path stroke="#a87a44" stroke-width="2.35" stroke-linecap="round" d="M441.8 309.7h0M442.8 312.4h0M454.6 310.1h0M463.9 312.5h0"/><path stroke="#8c5c34" stroke-width="2.35" stroke-linecap="round" d="M445.7 312.2h0M452.2 310.0h0M452.1 312.6h0M460.4 312.5h0M462.3 310.2h0M463.1 312.0h0M465.9 312.3h0M469.0 312.3h0M472.8 310.1h0"/><path stroke="#6c8c40" stroke-width="2.35" stroke-linecap="round" d="M446.8 309.7h0M471.7 312.6h0"/><path stroke="#7a4a8a" stroke-width="2.35" stroke-linecap="round" d="M475.5 310.5h0M480.7 310.1h0M491.5 312.1h0M495.1 312.5h0"/><path stroke="#b47238" stroke-width="2.35" stroke-linecap="round" d="M475.9 312.1h0M482.1 312.6h0M486.0 310.1h0M487.7 310.1h0M488.7 312.0h0M500.1 312.5h0M505.9 310.0h0M509.0 309.8h0M511.9 310.1h0M513.9 309.8h0"/><path stroke="#a05828" stroke-width="2.35" stroke-linecap="round" d="M477.4 310.1h0M480.0 309.9h0M479.1 312.3h0M484.0 312.2h0M486.9 312.3h0M489.8 312.3h0M501.8 312.1h0"/><path stroke="#a87a44" stroke-width="2.35" stroke-linecap="round" d="M476.7 312.6h0M478.3 312.4h0M484.5 312.4h0M493.6 310.1h0M495.7 310.2h0"/><path stroke="#905020" stroke-width="2.35" stroke-linecap="round" d="M478.2 309.9h0M482.9 310.0h0M488.0 309.7h0M503.3 310.1h0M503.5 309.9h0M506.4 310.3h0M508.8 309.6h0M511.5 309.9h0"/><path stroke="#5c8c4c" stroke-width="2.35" stroke-linecap="round" d="M481.3 312.6h0M507.3 312.1h0M512.5 312.4h0"/><path stroke="#a8622a" stroke-width="2.35" stroke-linecap="round" d="M482.6 310.2h0M492.7 310.3h0M500.8 310.5h0M505.4 312.2h0M510.2 312.2h0"/><path stroke="#8c5c34" stroke-width="2.35" stroke-linecap="round" d="M484.8 310.1h0M492.0 312.4h0M496.8 312.5h0M497.3 312.4h0M510.4 312.3h0"/><path stroke="#9c6c34" stroke-width="2.35" stroke-linecap="round" d="M486.8 312.4h0M496.1 310.1h0M498.0 310.0h0M498.7 310.4h0M499.6 312.5h0M507.7 312.3h0"/><path stroke="#6c8c40" stroke-width="2.35" stroke-linecap="round" d="M490.7 310.4h0M490.8 310.5h0M494.4 312.6h0M501.1 309.7h0M502.6 312.4h0M504.2 312.3h0M513.1 312.6h0"/><path stroke="#9c6c34" stroke-width="2.35" stroke-linecap="round" d="M514.5 310.0h0M516.6 310.3h0M523.6 312.2h0M526.8 310.2h0M529.4 310.1h0M538.0 309.9h0M547.7 310.4h0M551.3 312.3h0"/><path stroke="#7a4a8a" stroke-width="2.35" stroke-linecap="round" d="M514.9 312.2h0M528.5 312.3h0M542.2 310.2h0M548.5 310.1h0M550.2 309.7h0"/><path stroke="#a8622a" stroke-width="2.35" stroke-linecap="round" d="M516.6 310.2h0M517.9 312.6h0M521.7 309.8h0M532.5 310.0h0M537.4 310.1h0M538.2 312.4h0M545.5 310.4h0M549.3 312.2h0M551.8 312.2h0"/><path stroke="#a05828" stroke-width="2.35" stroke-linecap="round" d="M515.6 312.5h0M519.4 310.0h0M521.1 312.2h0M525.5 312.3h0M533.2 312.5h0"/><path stroke="#b47238" stroke-width="2.35" stroke-linecap="round" d="M518.7 310.1h0M518.6 312.4h0M528.7 312.5h0M534.1 312.3h0M535.6 312.6h0M541.7 312.2h0M546.9 311.9h0M553.0 309.9h0"/><path stroke="#a87a44" stroke-width="2.35" stroke-linecap="round" d="M520.0 312.2h0M530.1 310.2h0M530.6 312.5h0M531.8 310.0h0M539.0 312.2h0M550.5 310.1h0"/><path stroke="#6c8c40" stroke-width="2.35" stroke-linecap="round" d="M522.0 309.9h0M524.7 310.2h0M531.6 312.3h0M543.2 310.3h0M544.5 312.2h0M548.7 312.3h0"/><path stroke="#8c5c34" stroke-width="2.35" stroke-linecap="round" d="M523.1 312.2h0M524.5 309.9h0M535.4 310.3h0M541.2 312.5h0M544.0 312.4h0M545.0 310.2h0"/><path stroke="#5c8c4c" stroke-width="2.35" stroke-linecap="round" d="M526.2 312.3h0M527.9 310.4h0M536.3 312.1h0M540.3 309.9h0"/><path stroke="#905020" stroke-width="2.35" stroke-linecap="round" d="M534.6 310.2h0M540.3 310.2h0M546.5 312.1h0"/><path stroke="#a87a44" stroke-width="2.35" stroke-linecap="round" d="M553.3 310.4h0M556.8 313.0h0M560.9 310.3h0M563.9 310.1h0M576.1 310.3h0"/><path stroke="#9c6c34" stroke-width="2.35" stroke-linecap="round" d="M553.8 312.3h0M555.2 310.3h0M560.8 310.4h0M570.4 312.1h0M573.3 310.2h0M582.1 309.7h0"/><path stroke="#6c8c40" stroke-width="2.35" stroke-linecap="round" d="M555.3 312.0h0M569.4 312.4h0M576.9 310.4h0M580.6 312.4h0"/><path stroke="#a05828" stroke-width="2.35" stroke-linecap="round" d="M555.8 310.0h0M574.2 310.2h0M578.8 310.1h0M581.5 310.1h0M585.4 312.1h0"/><path stroke="#b47238" stroke-width="2.35" stroke-linecap="round" d="M557.9 309.8h0M558.9 312.2h0M562.1 312.3h0M579.9 312.2h0M582.9 312.2h0M589.1 310.3h0"/><path stroke="#905020" stroke-width="2.35" stroke-linecap="round" d="M557.2 312.6h0M566.1 310.0h0M571.9 310.2h0M577.4 312.0h0M584.4 309.8h0M585.9 312.3h0"/><path stroke="#5c8c4c" stroke-width="2.35" stroke-linecap="round" d="M558.4 309.9h0M562.5 312.8h0M565.0 312.4h0M566.1 310.3h0M567.4 312.1h0M571.1 310.2h0M578.3 312.6h0M590.2 310.2h0M591.1 312.4h0"/><path stroke="#8c5c34" stroke-width="2.35" stroke-linecap="round" d="M559.8 312.2h0M563.6 310.1h0M566.5 312.5h0M573.0 312.2h0M583.4 312.0h0M586.5 310.3h0M587.1 309.9h0M590.4 312.2h0"/><path stroke="#a8622a" stroke-width="2.35" stroke-linecap="round" d="M564.6 312.3h0M572.2 312.1h0M574.7 312.3h0M575.5 312.3h0M588.3 312.4h0M592.0 310.4h0"/><path stroke="#7a4a8a" stroke-width="2.35" stroke-linecap="round" d="M568.5 310.2h0M569.1 310.1h0M579.3 310.2h0M583.8 310.0h0M587.9 312.5h0"/><path stroke="#7a4a8a" stroke-width="2.35" stroke-linecap="round" d="M592.5 309.8h0M594.9 309.8h0M595.9 312.3h0M604.2 312.6h0M628.3 309.9h0"/><path stroke="#8c5c34" stroke-width="2.35" stroke-linecap="round" d="M593.1 312.3h0M605.4 309.9h0M606.0 311.8h0M606.6 312.6h0M608.1 310.2h0M610.3 310.1h0M615.8 310.0h0M617.2 312.3h0M619.3 312.4h0M622.9 310.0h0M624.2 312.2h0"/><path stroke="#5c8c4c" stroke-width="2.35" stroke-linecap="round" d="M594.5 309.7h0M593.8 312.3h0M601.0 312.6h0M602.1 309.8h0M603.3 312.4h0M609.2 312.6h0M610.8 309.9h0M613.9 312.6h0M615.5 310.1h0M623.4 310.1h0M630.3 312.4h0"/><path stroke="#905020" stroke-width="2.35" stroke-linecap="round" d="M595.6 312.1h0M600.4 310.2h0M616.2 312.5h0M628.7 310.2h0"/><path stroke="#6c8c40" stroke-width="2.35" stroke-linecap="round" d="M596.7 310.1h0M604.4 310.0h0M608.7 312.4h0M624.6 312.4h0"/><path stroke="#b47238" stroke-width="2.35" stroke-linecap="round" d="M597.8 309.9h0M598.6 312.9h0M613.0 309.9h0M618.1 309.6h0M621.3 310.1h0M629.6 312.4h0"/><path stroke="#a05828" stroke-width="2.35" stroke-linecap="round" d="M598.5 312.1h0M618.1 309.6h0M619.1 312.3h0M630.8 310.1h0"/><path stroke="#a8622a" stroke-width="2.35" stroke-linecap="round" d="M599.6 310.3h0M601.8 312.5h0M602.7 310.2h0M614.2 312.4h0"/><path stroke="#a87a44" stroke-width="2.35" stroke-linecap="round" d="M607.5 310.0h0M622.1 312.7h0M625.5 309.9h0M626.2 310.3h0"/><path stroke="#9c6c34" stroke-width="2.35" stroke-linecap="round" d="M611.5 312.3h0M612.7 310.0h0M611.8 312.2h0M620.5 310.1h0M621.7 312.1h0M626.8 312.0h0M627.0 312.2h0"/><path stroke="#5c8c4c" stroke-width="2.35" stroke-linecap="round" d="M631.3 310.0h0M648.5 311.9h0M654.1 310.1h0M662.0 310.2h0M666.7 312.6h0"/><path stroke="#a05828" stroke-width="2.35" stroke-linecap="round" d="M632.2 312.5h0M638.3 310.0h0M651.4 309.9h0M656.9 310.2h0M656.1 312.2h0M659.6 309.9h0M658.7 312.4h0M669.8 310.5h0"/><path stroke="#9c6c34" stroke-width="2.35" stroke-linecap="round" d="M633.4 310.5h0M639.1 309.7h0M653.0 312.0h0M665.2 310.1h0M668.0 309.9h0M668.3 312.4h0"/><path stroke="#7a4a8a" stroke-width="2.35" stroke-linecap="round" d="M632.7 312.2h0M634.0 310.4h0M645.1 312.5h0M647.1 309.9h0M651.3 312.4h0M662.6 309.9h0M663.5 312.2h0"/><path stroke="#6c8c40" stroke-width="2.35" stroke-linecap="round" d="M634.4 312.1h0M636.4 310.0h0M647.5 312.4h0M652.0 310.3h0"/><path stroke="#b47238" stroke-width="2.35" stroke-linecap="round" d="M635.8 310.3h0M641.3 310.1h0M640.7 312.3h0M642.5 312.5h0M649.7 309.8h0M654.6 310.2h0M659.9 310.0h0"/><path stroke="#905020" stroke-width="2.35" stroke-linecap="round" d="M635.6 312.5h0M641.8 310.1h0M643.7 310.0h0M643.1 312.5h0M646.0 312.5h0M650.6 312.2h0M658.0 312.3h0M660.5 312.7h0M661.3 312.3h0M667.0 309.8h0"/><path stroke="#8c5c34" stroke-width="2.35" stroke-linecap="round" d="M637.4 312.2h0M644.7 310.3h0M646.1 310.0h0M653.5 312.2h0M655.4 312.5h0M669.0 312.3h0"/><path stroke="#a87a44" stroke-width="2.35" stroke-linecap="round" d="M638.0 312.4h0M648.7 310.2h0M664.3 312.5h0M666.3 312.4h0"/><path stroke="#a8622a" stroke-width="2.35" stroke-linecap="round" d="M640.0 312.7h0M657.3 310.3h0M664.4 310.2h0"/><path stroke="#8c5c34" stroke-width="2.35" stroke-linecap="round" d="M670.2 309.8h0M673.2 309.8h0M678.3 310.2h0M680.9 309.8h0M683.5 310.0h0M692.7 312.1h0"/><path stroke="#a05828" stroke-width="2.35" stroke-linecap="round" d="M670.9 312.1h0M674.8 310.0h0M681.4 312.4h0"/><path stroke="#a87a44" stroke-width="2.35" stroke-linecap="round" d="M672.1 309.9h0M674.1 312.4h0M680.0 310.0h0M682.7 310.1h0M685.5 310.3h0M686.8 312.5h0M687.5 310.0h0M687.7 312.3h0M689.9 312.3h0"/><path stroke="#b47238" stroke-width="2.35" stroke-linecap="round" d="M671.4 312.4h0M684.7 312.6h0"/><path stroke="#6c8c40" stroke-width="2.35" stroke-linecap="round" d="M673.8 311.8h0M686.0 310.4h0"/><path stroke="#7a4a8a" stroke-width="2.35" stroke-linecap="round" d="M675.6 310.2h0M684.3 312.3h0M689.1 312.3h0M690.6 310.0h0"/><path stroke="#905020" stroke-width="2.35" stroke-linecap="round" d="M676.3 312.5h0"/><path stroke="#5c8c4c" stroke-width="2.35" stroke-linecap="round" d="M677.4 310.2h0M682.0 312.2h0M691.1 310.0h0M691.4 312.4h0M693.2 310.1h0"/><path stroke="#9c6c34" stroke-width="2.35" stroke-linecap="round" d="M676.9 312.2h0M679.0 312.2h0M679.2 312.4h0M688.3 310.2h0"/>
<defs><marker id="m0" markerUnits="userSpaceOnUse" markerWidth="6" markerHeight="6" refX="3" refY="3" overflow="visible"><circle cx="3" cy="3" r="1.1" fill="none" stroke="#000" stroke-width="0.95"/></marker><marker id="m1" markerUnits="userSpaceOnUse" markerWidth="6" markerHeight="6" refX="3" refY="3" overflow="visible"><circle cx="3" cy="3" r="1.1" fill="none" stroke="#000" stroke-width="0.95"/></marker><marker id="m2" markerUnits="userSpaceOnUse" markerWidth="6" markerHeight="6" refX="3" refY="3" overflow="visible"><circle cx="3" cy="3" r="1.15" fill="none" stroke="#2020e8" stroke-width="1.0"/></marker><marker id="m3" markerUnits="userSpaceOnUse" markerWidth="6" markerHeight="6" refX="3" refY="3" overflow="visible"><circle cx="3" cy="3" r="1.2" fill="none" stroke="#80e838" stroke-width="1.0"/></marker><marker id="m4" markerUnits="userSpaceOnUse" markerWidth="6" markerHeight="6" refX="3" refY="3" overflow="visible"><circle cx="3" cy="3" r="1.15" fill="none" stroke="#d82420" stroke-width="1.0"/></marker><marker id="m5" markerUnits="userSpaceOnUse" markerWidth="6" markerHeight="6" refX="3" refY="3" overflow="visible"><circle cx="3" cy="3" r="1.15" fill="none" stroke="#000" stroke-width="1.0"/></marker><marker id="m6" markerUnits="userSpaceOnUse" markerWidth="6" markerHeight="6" refX="3" refY="3" overflow="visible"><circle cx="3" cy="3" r="1.2" fill="none" stroke="#000" stroke-width="0.9"/></marker></defs>
</svg></body></html>
